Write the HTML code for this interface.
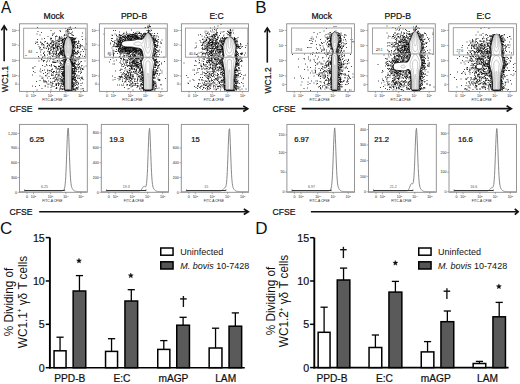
<!DOCTYPE html>
<html><head><meta charset="utf-8"><style>
html,body{margin:0;padding:0;background:#fff;}
body{width:520px;height:384px;overflow:hidden;}
svg{display:block;font-family:"Liberation Sans", sans-serif;}
.b{stroke:#111;stroke-width:0.22px;}
</style></head><body>
<svg width="520" height="384" viewBox="0 0 520 384">
<defs><filter id="soft" x="-5%" y="-5%" width="110%" height="110%"><feGaussianBlur stdDeviation="0.3"/></filter></defs>
<text transform="translate(1.0,12.5) scale(0.9,1)" font-size="17" fill="#111">A</text>
<text x="255.2" y="12.7" font-size="17" text-anchor="start" fill="#111" >B</text>
<text x="0.0" y="233.6" font-size="17" text-anchor="start" fill="#111" >C</text>
<text x="255.2" y="233.75" font-size="17" text-anchor="start" fill="#111" >D</text>
<path d="M25.5 55.5h1M32 68h1M32 75h1M32 86h1M33 68h1M33 71.5h1M34.5 66.5h1M34.5 72.5h1M35 43.5h1M35 86.5h1M35.5 42h1M36 81.5h1M36.5 34h1M36.5 42.5h1M36.5 52.5h1M36.5 90h1M37 27.5h1M37 39.5h1M37 42h1M37.5 31.5h1M37.5 44.5h1M38 56.5h1M38.5 46.5h1M38.5 58h1M38.5 61h1M39 48h1M39 85.5h1M39.5 35h1M39.5 49h1M39.5 71h1M39.5 76h1M39.5 80.5h1M40 42h1M40 47.5h1M40 52h1M40 69h1M40.5 42.5h1M40.5 50h1M40.5 55h1M40.5 72h1M41 32.5h1M41 44h1M41 58.5h1M41 59.5h1M41.5 39h1M41.5 44h1M41.5 45h1M41.5 49.5h1M41.5 60h1M41.5 77h1M41.5 78.5h1M41.5 88.5h1M42 43.5h1M42 57.5h1M42 65.5h1M42 70.5h1M42.5 56.5h1M42.5 78h1M43 44.5h1M43 47.5h1M43 53h1M43 53.5h1M43 60.5h1M43 61.5h1M43 73.5h1M43 80h1M43 81h1M43.5 45h1M43.5 46h1M43.5 48h1M43.5 82h1M44 38.5h1M44 42h1M44 52h1M44 54.5h1M44 55.5h1M44 60.5h1M44 70h1M44 81h1M44.5 48h1M44.5 56h1M44.5 58h1M44.5 66.5h1M44.5 82h1M44.5 86h1M45 41.5h1M45 72.5h1M45 75.5h1M45 81h1M45 86h1M45.5 76h1M45.5 81.5h1M46 48.5h1M46 62h1M46 64.5h1M46 82h1M46.5 43.5h1M46.5 47h1M46.5 65.5h1M46.5 75h1M46.5 83h1M47 43h1M47 43.5h1M47 45.5h1M47 46.5h1M47 55h1M47 58h1M47 61h1M47 70h1M47 71h1M47 73.5h1M47 78h1M47.5 36.5h1M47.5 51h1M47.5 51.5h1M47.5 59h1M47.5 84.5h1M47.5 87h1M48 45h1M48 48h1M48 49h1M48 49.5h1M48 81h1M48.5 44h1M48.5 48.5h1M48.5 53h1M48.5 57h1M48.5 70.5h1M48.5 73h1M48.5 76.5h1M48.5 84h1M49 45h1M49 45.5h1M49 51.5h1M49 52.5h1M49 54h1M49 61h1M49 65.5h1M49.5 46.5h1M49.5 52h1M49.5 53h1M49.5 53.5h1M49.5 54.5h1M49.5 58.5h1M49.5 70.5h1M49.5 71h1M50 39h1M50 43.5h1M50 48h1M50 50.5h1M50 57h1M50 59h1M50 78.5h1M50 82h1M50.5 30.5h1M50.5 38h1M50.5 38.5h1M50.5 40h1M50.5 43h1M50.5 43.5h1M50.5 44h1M50.5 48h1M50.5 49.5h1M50.5 58.5h1M50.5 66h1M50.5 82.5h1M50.5 83h1M50.5 85h1M50.5 87.5h1M50.5 90h1M51 38.5h1M51 42h1M51 47h1M51 50h1M51 64.5h1M51 65h1M51 66h1M51 70h1M51 71.5h1M51 74h1M51 75.5h1M51 86h1M51.5 41h1M51.5 42.5h1M51.5 45h1M51.5 46.5h1M51.5 47h1M51.5 53.5h1M51.5 55.5h1M51.5 69.5h1M51.5 75h1M52 34h1M52 35.5h1M52 41h1M52 45.5h1M52 52h1M52 56.5h1M52 62h1M52 69h1M52 72.5h1M52 83h1M52 84h1M52 86h1M52.5 40.5h1M52.5 41.5h1M52.5 44.5h1M52.5 46h1M52.5 47.5h1M52.5 49h1M52.5 51.5h1M52.5 52h1M52.5 59.5h1M52.5 62h1M52.5 75h1M52.5 75.5h1M52.5 78.5h1M52.5 81.5h1M52.5 83.5h1M53 34h1M53 42.5h1M53 44h1M53 44.5h1M53 45.5h1M53 47.5h1M53 48.5h1M53 49h1M53 50h1M53 54h1M53 55h1M53 62.5h1M53 71.5h1M53 72h1M53 73h1M53 78h1M53.5 42h1M53.5 48h1M53.5 53.5h1M53.5 54h1M53.5 56.5h1M53.5 59h1M53.5 61h1M53.5 62h1M53.5 65.5h1M53.5 71.5h1M53.5 86.5h1M54 33h1M54 48h1M54 48.5h1M54 62.5h1M54 66.5h1M54 71.5h1M54 78h1M54 81.5h1M54.5 41.5h1M54.5 43.5h1M54.5 44.5h1M54.5 51h1M54.5 52h1M54.5 62.5h1M54.5 66.5h1M54.5 77h1M54.5 80h1M54.5 81h1M55 36.5h1M55 38h1M55 40h1M55 45.5h1M55 46h1M55 47h1M55 49h1M55 54.5h1M55 58.5h1M55 62.5h1M55 66.5h1M55 75h1M55 76h1M55.5 42.5h1M55.5 43.5h1M55.5 44.5h1M55.5 45.5h1M55.5 47h1M55.5 51h1M55.5 53.5h1M55.5 56h1M55.5 57h1M55.5 61h1M55.5 62.5h1M55.5 67.5h1M55.5 68.5h1M55.5 72.5h1M55.5 77.5h1M55.5 79.5h1M55.5 80h1M55.5 83.5h1M55.5 84.5h1M55.5 85.5h1M55.5 88.5h1M56 36h1M56 43h1M56 47h1M56 51h1M56 51.5h1M56 52.5h1M56 53.5h1M56 54h1M56 57.5h1M56 67h1M56 71h1M56 72h1M56 74.5h1M56 78.5h1M56 84h1M56 84.5h1M56 85.5h1M56 87.5h1M56 88.5h1M56.5 36.5h1M56.5 40.5h1M56.5 41h1M56.5 47h1M56.5 47.5h1M56.5 48h1M56.5 49h1M56.5 54h1M56.5 55.5h1M56.5 56h1M56.5 69h1M56.5 74h1M56.5 79.5h1M56.5 88h1M57 43h1M57 45h1M57 46h1M57 46.5h1M57 47h1M57 48.5h1M57 50h1M57 60.5h1M57 61h1M57 69h1M57 77h1M57 81h1M57.5 40h1M57.5 41h1M57.5 46.5h1M57.5 48h1M57.5 49.5h1M57.5 50.5h1M57.5 56h1M57.5 57.5h1M57.5 62h1M57.5 72.5h1M57.5 75h1M57.5 79h1M57.5 80h1M57.5 83h1M57.5 83.5h1M58 41.5h1M58 44h1M58 46h1M58 53.5h1M58 54h1M58 54.5h1M58 66.5h1M58 69h1M58 76h1M58 83h1M58 85h1M58 85.5h1M58.5 38h1M58.5 39.5h1M58.5 41h1M58.5 42h1M58.5 44h1M58.5 46h1M58.5 46.5h1M58.5 49h1M58.5 55h1M58.5 56.5h1M58.5 57h1M58.5 60h1M58.5 66h1M58.5 66.5h1M58.5 67h1M58.5 68.5h1M58.5 71.5h1M58.5 74h1M58.5 74.5h1M58.5 75.5h1M58.5 78h1M58.5 80h1M58.5 83.5h1M58.5 84.5h1M59 36.5h1M59 37.5h1M59 38.5h1M59 40h1M59 41.5h1M59 44.5h1M59 47h1M59 52h1M59 52.5h1M59 53h1M59 55h1M59 55.5h1M59 58h1M59 66.5h1M59 70h1M59 90h1M59.5 30.5h1M59.5 37.5h1M59.5 43.5h1M59.5 48h1M59.5 53h1M59.5 53.5h1M59.5 61h1M59.5 62h1M59.5 63.5h1M59.5 69.5h1M59.5 71h1M59.5 72.5h1M59.5 76h1M59.5 78.5h1M59.5 81.5h1M59.5 83.5h1M59.5 88h1M59.5 89h1M60 31.5h1M60 39h1M60 48h1M60 48.5h1M60 49h1M60 49.5h1M60 50.5h1M60 51.5h1M60 52.5h1M60 54h1M60 62.5h1M60 64h1M60 65.5h1M60 67.5h1M60 68.5h1M60 79h1M60 86h1M60 87h1M60.5 38.5h1M60.5 40.5h1M60.5 41h1M60.5 45.5h1M60.5 46h1M60.5 48.5h1M60.5 50.5h1M60.5 51.5h1M60.5 52.5h1M60.5 53h1M60.5 53.5h1M60.5 54.5h1M60.5 55h1M60.5 58.5h1M60.5 69h1M60.5 76.5h1M60.5 79h1M60.5 80h1M60.5 80.5h1M60.5 82h1M60.5 86h1M60.5 88.5h1M60.5 89h1M61 37h1M61 39h1M61 40.5h1M61 43.5h1M61 45.5h1M61 48h1M61 51h1M61 51.5h1M61 52h1M61 52.5h1M61 53h1M61 54.5h1M61 60.5h1M61 63.5h1M61 67h1M61 69.5h1M61 71.5h1M61 73.5h1M61 77.5h1M61 80h1M61 83.5h1M61 85h1M61.5 42h1M61.5 49h1M61.5 50h1M61.5 53.5h1M61.5 54.5h1M61.5 61h1M61.5 64.5h1M61.5 65.5h1M61.5 67h1M61.5 67.5h1M61.5 74h1M61.5 75h1M61.5 79.5h1M61.5 81h1M61.5 81.5h1M61.5 82h1M61.5 84h1M61.5 89h1M62 38h1M62 39.5h1M62 40h1M62 40.5h1M62 41.5h1M62 42.5h1M62 43h1M62 47h1M62 50.5h1M62 51h1M62 52h1M62 52.5h1M62 54h1M62 55h1M62 55.5h1M62 58h1M62 60.5h1M62 67h1M62 67.5h1M62 69.5h1M62 72h1M62 73h1M62 73.5h1M62 74h1M62 74.5h1M62 75.5h1M62 77h1M62 80h1M62 80.5h1M62 81h1M62 84h1M62 86.5h1M62 89h1M62 89.5h1M62.5 39h1M62.5 39.5h1M62.5 40h1M62.5 40.5h1M62.5 42h1M62.5 44.5h1M62.5 45h1M62.5 46h1M62.5 46.5h1M62.5 47h1M62.5 47.5h1M62.5 49.5h1M62.5 50.5h1M62.5 52h1M62.5 53h1M62.5 53.5h1M62.5 54.5h1M62.5 56h1M62.5 58h1M62.5 60h1M62.5 61.5h1M62.5 64.5h1M62.5 67h1M62.5 67.5h1M62.5 68.5h1M62.5 69.5h1M62.5 72h1M62.5 72.5h1M62.5 73.5h1M62.5 74h1M62.5 75h1M62.5 78.5h1M62.5 79.5h1M62.5 81.5h1M62.5 82h1M62.5 83h1M62.5 84.5h1M63 39.5h1M63 42h1M63 43.5h1M63 44h1M63 44.5h1M63 45h1M63 45.5h1M63 46h1M63 47h1M63 47.5h1M63 48h1M63 51h1M63 51.5h1M63 57.5h1M63 59.5h1M63 61h1M63 63h1M63 66h1M63 66.5h1M63 67.5h1M63 68h1M63 69.5h1M63 71h1M63 71.5h1M63 73h1M63 73.5h1M63 75h1M63 75.5h1M63 76.5h1M63 77h1M63 78.5h1M63 80h1M63 81h1M63 82h1M63 83h1M63 83.5h1M63 84.5h1M63 85h1M63 86h1M63 89h1M63.5 36h1M63.5 38.5h1M63.5 42h1M63.5 43h1M63.5 43.5h1M63.5 44.5h1M63.5 45h1M63.5 45.5h1M63.5 46h1M63.5 46.5h1M63.5 47h1M63.5 48.5h1M63.5 49h1M63.5 50h1M63.5 50.5h1M63.5 51h1M63.5 52h1M63.5 54h1M63.5 55h1M63.5 55.5h1M63.5 56h1M63.5 60.5h1M63.5 62h1M63.5 63.5h1M63.5 64h1M63.5 65h1M63.5 66h1M63.5 66.5h1M63.5 67h1M63.5 68h1M63.5 71h1M63.5 72h1M63.5 72.5h1M63.5 74.5h1M63.5 75h1M63.5 75.5h1M63.5 76h1M63.5 76.5h1M63.5 77h1M63.5 78.5h1M63.5 79.5h1M63.5 82h1M63.5 83h1M63.5 84h1M63.5 84.5h1M63.5 86h1M63.5 88h1M64 34.5h1M64 35.5h1M64 38h1M64 38.5h1M64 40.5h1M64 41.5h1M64 42h1M64 43h1M64 43.5h1M64 45.5h1M64 46h1M64 46.5h1M64 47h1M64 51h1M64 51.5h1M64 52h1M64 53h1M64 53.5h1M64 54h1M64 55h1M64 55.5h1M64 56h1M64 57.5h1M64 59.5h1M64 61h1M64 61.5h1M64 62h1M64 62.5h1M64 64h1M64 64.5h1M64 65.5h1M64 66h1M64 67.5h1M64 68h1M64 70h1M64 71h1M64 71.5h1M64 72h1M64 72.5h1M64 74h1M64 74.5h1M64 75h1M64 76h1M64 76.5h1M64 77.5h1M64 78h1M64 78.5h1M64 79h1M64 79.5h1M64 80h1M64 82h1M64 83h1M64 86.5h1M64 88h1M64 89h1M64 89.5h1M64 90h1M64.5 38h1M64.5 39.5h1M64.5 40h1M64.5 41h1M64.5 41.5h1M64.5 42h1M64.5 42.5h1M64.5 43.5h1M64.5 53h1M64.5 54.5h1M64.5 56h1M64.5 56.5h1M64.5 57h1M64.5 57.5h1M64.5 58.5h1M64.5 59h1M64.5 59.5h1M64.5 61.5h1M64.5 62h1M64.5 64h1M64.5 64.5h1M64.5 65.5h1M64.5 66.5h1M64.5 68.5h1M64.5 69.5h1M64.5 70h1M64.5 70.5h1M64.5 72.5h1M64.5 73h1M64.5 73.5h1M64.5 74h1M64.5 75h1M64.5 77h1M64.5 78.5h1M64.5 79h1M64.5 80.5h1M64.5 81.5h1M64.5 82.5h1M64.5 84h1M64.5 85h1M64.5 85.5h1M64.5 86h1M64.5 87.5h1M64.5 88.5h1M64.5 89h1M64.5 90h1M65 28.5h1M65 38.5h1M65 39h1M65 39.5h1M65 57h1M65 57.5h1M65 58h1M65 58.5h1M65 59h1M65 60.5h1M65 61h1M65 62h1M65 62.5h1M65 63h1M65 64h1M65 90h1M65.5 31h1M65.5 32h1M65.5 34h1M65.5 35.5h1M65.5 38.5h1M65.5 39.5h1M65.5 57h1M65.5 59h1M65.5 59.5h1M65.5 60.5h1M65.5 61h1M65.5 90h1M65.5 90.5h1M66 37.5h1M66 38h1M66 59h1M66 59.5h1M66 60h1M66 90.5h1M66.5 30.5h1M66.5 34.5h1M66.5 36h1M66.5 38h1M66.5 59.5h1M66.5 90.5h1M67 29.5h1M67 32h1M67 36h1M67 37.5h1M67.5 29.5h1M67.5 30h1M67.5 31h1M67.5 31.5h1M67.5 33.5h1M68 35h1M68.5 28h1M68.5 32h1M68.5 33h1M68.5 33.5h1M68.5 36.5h1M69 29.5h1M69 37.5h1M69.5 27.5h1M69.5 37.5h1M70 27h1M70 29h1M70 33.5h1M70 37.5h1M70 59h1M70 59.5h1M70 60h1M70.5 38h1M70.5 39h1M70.5 57.5h1M70.5 58h1M70.5 58.5h1M70.5 59h1M70.5 60h1M70.5 60.5h1M70.5 61h1M70.5 90.5h1M71 29.5h1M71 33h1M71 37.5h1M71 39h1M71 40h1M71 40.5h1M71 55.5h1M71 56h1M71 57h1M71 58h1M71 58.5h1M71 59h1M71 61.5h1M71 62h1M71 63h1M71 90h1M71 90.5h1M71.5 34.5h1M71.5 35h1M71.5 38h1M71.5 38.5h1M71.5 39.5h1M71.5 40.5h1M71.5 41h1M71.5 41.5h1M71.5 54.5h1M71.5 56h1M71.5 58h1M71.5 58.5h1M71.5 59h1M71.5 62h1M71.5 62.5h1M71.5 63h1M71.5 63.5h1M71.5 64h1M71.5 71.5h1M71.5 73.5h1M71.5 76.5h1M71.5 78h1M71.5 79.5h1M71.5 80h1M71.5 82.5h1M71.5 87h1M71.5 88.5h1M71.5 89h1M71.5 90.5h1M72 32h1M72 37.5h1M72 39h1M72 39.5h1M72 40h1M72 41h1M72 42h1M72 42.5h1M72 43.5h1M72 45.5h1M72 49.5h1M72 50.5h1M72 51h1M72 51.5h1M72 52.5h1M72 53.5h1M72 55.5h1M72 59h1M72 60h1M72 61h1M72 62h1M72 62.5h1M72 63h1M72 63.5h1M72 64h1M72 64.5h1M72 65h1M72 65.5h1M72 66h1M72 68.5h1M72 69h1M72 69.5h1M72 70h1M72 70.5h1M72 71h1M72 72h1M72 72.5h1M72 73.5h1M72 74h1M72 75h1M72 77h1M72 78h1M72 78.5h1M72 79h1M72 79.5h1M72 80h1M72 81h1M72 81.5h1M72 82.5h1M72 83h1M72 83.5h1M72 84h1M72 85h1M72 85.5h1M72 86h1M72 86.5h1M72 87h1M72 88h1M72 90h1M72.5 35.5h1M72.5 38h1M72.5 39.5h1M72.5 40h1M72.5 40.5h1M72.5 42h1M72.5 42.5h1M72.5 43h1M72.5 43.5h1M72.5 44.5h1M72.5 45h1M72.5 45.5h1M72.5 46h1M72.5 46.5h1M72.5 47.5h1M72.5 48.5h1M72.5 51h1M72.5 52.5h1M72.5 53.5h1M72.5 54.5h1M72.5 55h1M72.5 55.5h1M72.5 56.5h1M72.5 58h1M72.5 58.5h1M72.5 59h1M72.5 63.5h1M72.5 64h1M72.5 65h1M72.5 66.5h1M72.5 68.5h1M72.5 70h1M72.5 72h1M72.5 72.5h1M72.5 73.5h1M72.5 76h1M72.5 76.5h1M72.5 78h1M72.5 78.5h1M72.5 79h1M72.5 79.5h1M72.5 80h1M72.5 81h1M72.5 82.5h1M72.5 83.5h1M72.5 85h1M72.5 85.5h1M72.5 86h1M72.5 86.5h1M72.5 87.5h1M72.5 89h1M72.5 89.5h1M73 35.5h1M73 38.5h1M73 39h1M73 41.5h1M73 42.5h1M73 45h1M73 45.5h1M73 46.5h1M73 47.5h1M73 48h1M73 50.5h1M73 51h1M73 52.5h1M73 53.5h1M73 55h1M73 57h1M73 58h1M73 61h1M73 63h1M73 63.5h1M73 64h1M73 65h1M73 66h1M73 66.5h1M73 68.5h1M73 71h1M73 71.5h1M73 73h1M73 73.5h1M73 76h1M73 76.5h1M73 78h1M73 78.5h1M73 84.5h1M73 86h1M73 87h1M73 89h1M73 89.5h1M73 90h1M73.5 38h1M73.5 39h1M73.5 39.5h1M73.5 40h1M73.5 41.5h1M73.5 42h1M73.5 43.5h1M73.5 44.5h1M73.5 45h1M73.5 46h1M73.5 47.5h1M73.5 49h1M73.5 49.5h1M73.5 50.5h1M73.5 51.5h1M73.5 52h1M73.5 54h1M73.5 55h1M73.5 59h1M73.5 60h1M73.5 63.5h1M73.5 64h1M73.5 64.5h1M73.5 65h1M73.5 65.5h1M73.5 66.5h1M73.5 68.5h1M73.5 69h1M73.5 71.5h1M73.5 72.5h1M73.5 74.5h1M73.5 77.5h1M73.5 79.5h1M73.5 82.5h1M73.5 83.5h1M73.5 84h1M73.5 84.5h1M73.5 88.5h1M73.5 89h1M74 38.5h1M74 39.5h1M74 41h1M74 41.5h1M74 42.5h1M74 43h1M74 43.5h1M74 46.5h1M74 50.5h1M74 51h1M74 53.5h1M74 60h1M74 62h1M74 63h1M74 63.5h1M74 65.5h1M74 66h1M74 67h1M74 68h1M74 69.5h1M74 70.5h1M74 71h1M74 71.5h1M74 73h1M74 73.5h1M74 74h1M74 75.5h1M74 76h1M74 77h1M74 77.5h1M74 79h1M74 79.5h1M74 80.5h1M74 86h1M74 89.5h1M74.5 42.5h1M74.5 43h1M74.5 44h1M74.5 45h1M74.5 46h1M74.5 48h1M74.5 49h1M74.5 51.5h1M74.5 56.5h1M74.5 60.5h1M74.5 62.5h1M74.5 63h1M74.5 63.5h1M74.5 66.5h1M74.5 67.5h1M74.5 68h1M74.5 68.5h1M74.5 69h1M74.5 71.5h1M74.5 73h1M74.5 74.5h1M74.5 78h1M74.5 83h1M74.5 85h1M74.5 90.5h1M75 27.5h1M75 38.5h1M75 39h1M75 41.5h1M75 47.5h1M75 52.5h1M75 53h1M75 54h1M75 57h1M75 60h1M75 60.5h1M75 64h1M75 67h1M75 68.5h1M75 71h1M75 73.5h1M75 74h1M75 77h1M75 77.5h1M75 78h1M75 79.5h1M75 80h1M75 81.5h1M75 83h1M75 85.5h1M75 89h1M75 90h1M75.5 38h1M75.5 42.5h1M75.5 52.5h1M75.5 61.5h1M75.5 67h1M75.5 68h1M75.5 69h1M75.5 80.5h1M75.5 88h1M75.5 90h1M76 41.5h1M76 44.5h1M76 53h1M76 54h1M76 60h1M76 64.5h1M76 68h1M76 70h1M76 71.5h1M76 76h1M76 80.5h1M76 82h1M76 83h1M76 84.5h1M76 87.5h1M76 88.5h1M76.5 48h1M76.5 57.5h1M76.5 58h1M76.5 69.5h1M76.5 75h1M76.5 76h1M76.5 87.5h1M77 43.5h1M77 45.5h1M77 46h1M77 47h1M77 47.5h1M77 51h1M77 51.5h1M77 53.5h1M77 54h1M77 67h1M77 78h1M77 82h1M77 85h1M77 88h1M77 89h1M77.5 46h1M77.5 47.5h1M77.5 48h1M77.5 52.5h1M77.5 59h1M77.5 60h1M77.5 64h1M77.5 64.5h1M77.5 65.5h1M77.5 78.5h1M77.5 82.5h1M77.5 89h1M78 41h1M78 42h1M78 43h1M78 51h1M78 52.5h1M78 62h1M78 64.5h1M78 67.5h1M78 69h1M78 72h1M78 83.5h1M78 84h1M78 87h1M78.5 41.5h1M78.5 43.5h1M78.5 56.5h1M78.5 57.5h1M78.5 59h1M78.5 64.5h1M78.5 68h1M78.5 71.5h1M78.5 75.5h1M78.5 77h1M79 48.5h1M79 56.5h1M79 63.5h1M79 66.5h1M79 78.5h1M79.5 45.5h1M79.5 46.5h1M79.5 48h1M79.5 53h1M79.5 58h1M79.5 67.5h1M80 44.5h1M80 46h1M80 47h1M80 54.5h1M80 55h1M80 62h1M80 69.5h1M80 73.5h1M80 80h1M80.5 51.5h1M80.5 68h1M80.5 68.5h1M80.5 71h1M80.5 72h1M80.5 77.5h1M80.5 83.5h1M80.5 85.5h1M80.5 89h1M81 61.5h1M81 66h1M81 72.5h1M81 78.5h1M81.5 36.5h1M81.5 45.5h1M81.5 46h1M81.5 65.5h1M81.5 77h1M81.5 77.5h1M82 33h1M82 39.5h1M82 49.5h1M82 56h1M82 68.5h1M82 69.5h1M82 78.5h1M82 83h1M82.5 69h1M82.5 69.5h1M82.5 79.5h1M82.5 88.5h1M82.5 89h1M83 51.5h1M83 90.5h1M83.5 47h1M83.5 67h1M84 49h1M84 56.5h1M84.5 61h1M85 39h1M85 54.5h1M85.5 49.5h1M85.5 66h1M86 44h1" stroke="#000" stroke-width="0.9" stroke-opacity="0.8" fill="none" filter="url(#soft)"/>
<path d="M69.0 90.6L68.5 90.8L68.0 90.8L67.5 90.7L67.1 90.5L66.8 90.5L66.2 90.3L66.0 90.2L65.5 90.1L65.2 90.0L65.0 89.5L65.0 89.3L64.9 88.8L64.8 88.3L64.8 87.8L64.8 87.3L64.8 86.8L64.8 86.3L64.8 85.8L64.8 85.4L64.7 85.0L64.7 84.5L64.7 84.0L64.7 83.5L64.7 83.0L64.7 82.5L64.7 82.0L64.7 81.5L64.7 81.0L64.7 80.5L64.6 80.0L64.6 79.5L64.6 79.0L64.6 78.5L64.6 78.0L64.6 77.5L64.6 77.0L64.6 76.5L64.6 76.0L64.6 75.5L64.6 75.0L64.5 74.5L64.5 74.0L64.5 73.5L64.5 73.0L64.5 72.5L64.5 72.0L64.5 71.5L64.5 71.3L64.5 70.8L64.5 70.3L64.5 69.8L64.5 69.3L64.5 68.8L64.4 68.3L64.4 67.8L64.4 67.3L64.4 66.8L64.4 66.3L64.4 65.8L64.4 65.3L64.5 65.0L64.6 64.5L64.8 64.1L64.8 63.8L65.0 63.3L65.0 63.0L65.2 62.5L65.2 62.2L65.4 61.8L65.5 61.5L65.7 61.0L65.8 60.8L66.0 60.4L66.2 60.0L66.3 59.8L66.3 59.3L66.2 59.0L66.1 58.5L66.0 58.3L65.8 57.8L65.7 57.5L65.5 57.0L65.4 56.8L65.3 56.3L65.2 56.0L65.0 55.5L64.9 55.3L64.8 54.8L64.7 54.5L64.5 54.1L64.4 53.8L64.3 53.3L64.2 52.8L64.2 52.5L64.2 52.0L64.2 51.5L64.1 51.0L64.1 50.5L64.0 50.0L64.0 49.5L64.0 49.3L64.0 48.8L63.9 48.3L63.9 47.8L63.8 47.3L63.8 46.8L63.8 46.3L63.9 45.8L64.0 45.5L64.1 45.0L64.2 44.5L64.2 44.0L64.3 43.8L64.4 43.3L64.5 42.8L64.5 42.5L64.6 42.0L64.7 41.5L64.8 41.3L65.0 40.8L65.1 40.5L65.2 40.1L65.4 39.8L65.5 39.5L65.7 39.0L65.8 38.8L66.0 38.4L66.2 38.3L66.5 38.0L66.9 37.8L67.2 37.6L67.5 37.4L67.8 37.2L68.2 37.1L68.6 37.3L68.9 37.5L69.2 37.8L69.5 37.9L69.8 38.1L70.0 38.3L70.3 38.5L70.5 39.0L70.6 39.3L70.8 39.6L70.9 40.0L71.0 40.3L71.2 40.8L71.3 41.0L71.5 41.5L71.6 41.8L71.6 42.3L71.7 42.8L71.8 43.0L71.9 43.5L72.0 44.0L72.0 44.3L72.1 44.8L72.2 45.3L72.2 45.7L72.3 46.0L72.4 46.5L72.4 47.0L72.3 47.5L72.3 48.0L72.3 48.5L72.2 48.8L72.2 49.3L72.2 49.8L72.1 50.3L72.1 50.8L72.1 51.3L72.0 51.8L72.0 52.1L72.0 52.5L71.9 53.0L71.9 53.5L71.8 53.9L71.6 54.3L71.5 54.7L71.4 55.0L71.2 55.4L71.1 55.8L71.0 56.1L70.9 56.5L70.8 56.9L70.6 57.3L70.5 57.6L70.3 58.0L70.2 58.3L70.1 58.8L70.0 59.0L69.8 59.5L70.0 60.0L70.2 60.3L70.3 60.5L70.5 61.0L70.6 61.3L70.8 61.7L70.9 62.0L71.0 62.4L71.1 62.8L71.2 63.3L71.3 63.5L71.4 64.0L71.5 64.3L71.6 64.8L71.7 65.3L71.8 65.5L71.8 66.0L71.8 66.5L71.8 67.0L71.8 67.5L71.8 68.0L71.8 68.5L71.7 68.8L71.7 69.3L71.7 69.8L71.7 70.3L71.7 70.8L71.7 71.3L71.7 71.8L71.7 72.3L71.7 72.8L71.7 73.3L71.7 73.8L71.7 74.3L71.7 74.8L71.6 75.3L71.6 75.8L71.6 76.3L71.6 76.8L71.6 77.3L71.6 77.8L71.6 78.3L71.6 78.8L71.6 79.3L71.6 79.8L71.6 80.3L71.5 80.8L71.5 81.3L71.5 81.8L71.5 82.3L71.5 82.8L71.5 83.0L71.5 83.5L71.5 84.0L71.5 84.5L71.5 85.0L71.5 85.5L71.4 86.0L71.4 86.5L71.4 87.0L71.4 87.5L71.4 88.0L71.3 88.5L71.2 89.0L71.2 89.3L71.1 89.8L70.9 90.0L70.5 90.2L70.0 90.3L69.8 90.4L69.2 90.5L69.0 90.6Z" fill="#fff" stroke="#000" stroke-width="1.0"/>
<path d="M68.2 58.4L67.8 58.3L67.5 58.1L67.3 57.8L67.1 57.5L67.0 57.3L66.8 56.8L66.6 56.5L66.5 56.3L66.2 55.9L66.1 55.5L66.0 55.2L65.8 54.8L65.7 54.5L65.6 54.0L65.5 53.8L65.3 53.3L65.3 52.8L65.3 52.3L65.3 51.8L65.2 51.5L65.2 51.0L65.2 50.5L65.2 50.0L65.1 49.5L65.1 49.0L65.1 48.5L65.0 48.0L65.0 47.5L65.0 47.3L65.0 46.8L65.0 46.3L65.0 46.0L65.1 45.5L65.2 45.0L65.2 44.5L65.3 44.3L65.3 43.8L65.4 43.3L65.4 42.8L65.5 42.4L65.5 42.0L65.6 41.5L65.7 41.0L65.8 40.8L66.0 40.3L66.0 40.0L66.2 39.5L66.3 39.3L66.4 38.8L66.5 38.5L66.8 38.3L67.0 38.0L67.2 37.8L67.5 37.5L67.8 37.3L68.2 37.2L68.5 37.4L68.8 37.6L69.0 37.8L69.2 38.1L69.5 38.3L69.8 38.7L69.9 39.0L70.0 39.5L70.1 39.8L70.2 40.3L70.3 40.5L70.5 41.0L70.5 41.3L70.6 41.8L70.7 42.3L70.8 42.8L70.8 43.0L70.9 43.5L70.9 44.0L71.0 44.5L71.0 44.8L71.1 45.3L71.1 45.8L71.2 46.3L71.2 46.8L71.2 47.3L71.2 47.8L71.1 48.3L71.1 48.8L71.1 49.3L71.1 49.8L71.0 50.3L71.0 50.7L71.0 51.0L71.0 51.5L70.9 52.0L70.9 52.5L70.9 53.0L70.8 53.5L70.7 53.8L70.6 54.3L70.5 54.5L70.3 55.0L70.2 55.3L70.0 55.7L69.9 56.0L69.7 56.3L69.5 56.7L69.3 57.0L69.2 57.3L69.0 57.6L68.8 58.0L68.5 58.3L68.2 58.4Z" fill="#fff" stroke="#8a8a8a" stroke-width="0.5"/>
<path d="M68.8 90.6L68.2 90.7L67.8 90.7L67.4 90.5L67.0 90.4L66.7 90.3L66.2 90.1L66.0 90.0L65.9 89.5L65.8 89.0L65.8 88.5L65.7 88.3L65.7 87.8L65.7 87.3L65.7 86.8L65.7 86.3L65.7 85.8L65.6 85.3L65.6 84.8L65.6 84.3L65.6 83.8L65.6 83.3L65.6 82.8L65.6 82.3L65.6 81.8L65.6 81.3L65.6 80.8L65.6 80.3L65.6 79.8L65.6 79.3L65.6 78.8L65.6 78.3L65.5 77.8L65.5 77.3L65.5 76.8L65.5 76.3L65.5 75.8L65.5 75.3L65.5 74.8L65.5 74.3L65.5 73.8L65.5 73.3L65.5 72.8L65.5 72.5L65.5 72.0L65.5 71.5L65.5 71.0L65.5 70.5L65.5 70.0L65.5 69.5L65.5 69.0L65.5 68.5L65.5 68.0L65.5 67.5L65.4 67.0L65.4 66.5L65.4 66.0L65.4 65.5L65.5 65.3L65.6 64.8L65.8 64.4L65.9 64.0L66.0 63.7L66.1 63.3L66.2 63.0L66.4 62.5L66.6 62.3L66.8 62.0L67.0 61.6L67.2 61.3L67.4 61.0L67.6 60.8L68.0 60.6L68.5 60.7L68.8 60.9L69.0 61.3L69.2 61.5L69.3 61.8L69.5 62.1L69.8 62.5L69.9 62.8L70.0 63.1L70.2 63.5L70.2 63.8L70.4 64.3L70.5 64.6L70.6 65.0L70.8 65.5L70.8 65.8L70.8 66.3L70.8 66.8L70.8 67.1L70.7 67.5L70.7 68.0L70.7 68.5L70.7 69.0L70.7 69.5L70.7 70.0L70.7 70.5L70.7 71.0L70.7 71.5L70.7 72.0L70.7 72.5L70.7 73.0L70.7 73.5L70.7 74.0L70.7 74.5L70.7 75.0L70.7 75.5L70.7 76.0L70.7 76.5L70.7 77.0L70.7 77.5L70.7 78.0L70.6 78.5L70.6 79.0L70.6 79.5L70.6 80.0L70.6 80.5L70.6 81.0L70.6 81.5L70.6 82.0L70.6 82.5L70.6 83.0L70.6 83.5L70.6 84.0L70.6 84.5L70.6 85.0L70.5 85.5L70.5 86.0L70.5 86.5L70.5 87.0L70.5 87.5L70.5 88.0L70.5 88.3L70.4 88.8L70.4 89.3L70.3 89.8L70.2 90.0L69.8 90.2L69.5 90.3L69.0 90.5L68.8 90.6Z" fill="#fff" stroke="#8a8a8a" stroke-width="0.5"/>
<path d="M68.5 55.4L68.0 55.5L67.5 55.3L67.3 55.0L67.1 54.8L67.0 54.5L66.8 54.1L66.6 53.8L66.5 53.5L66.4 53.0L66.4 52.5L66.4 52.0L66.4 51.5L66.3 51.0L66.3 50.5L66.3 50.0L66.3 49.5L66.2 49.2L66.2 48.8L66.2 48.3L66.2 47.8L66.2 47.3L66.1 46.8L66.1 46.3L66.2 45.8L66.2 45.3L66.2 45.0L66.3 44.5L66.3 44.0L66.4 43.5L66.4 43.0L66.5 42.5L66.5 42.0L66.5 41.8L66.6 41.3L66.7 40.8L66.8 40.3L66.8 40.0L66.9 39.5L67.0 39.0L67.0 38.8L67.2 38.3L67.4 38.0L67.6 37.8L67.8 37.5L68.0 37.2L68.3 37.3L68.5 37.6L68.8 38.0L69.0 38.3L69.1 38.5L69.2 39.0L69.3 39.3L69.4 39.8L69.4 40.3L69.5 40.6L69.6 41.0L69.7 41.5L69.7 42.0L69.8 42.5L69.8 42.8L69.8 43.3L69.9 43.8L69.9 44.3L69.9 44.8L70.0 45.3L70.0 45.6L70.0 46.0L70.1 46.5L70.1 47.0L70.0 47.5L70.0 48.0L70.0 48.3L70.0 48.8L69.9 49.3L69.9 49.8L69.9 50.3L69.9 50.8L69.8 51.3L69.8 51.8L69.8 52.3L69.8 52.8L69.8 53.3L69.7 53.5L69.5 54.0L69.4 54.3L69.2 54.5L69.0 54.9L68.8 55.2L68.5 55.4Z" fill="#fff" stroke="#8a8a8a" stroke-width="0.5"/>
<path d="M68.5 90.6L68.0 90.6L67.7 90.5L67.2 90.3L67.0 90.1L66.8 89.9L66.7 89.5L66.7 89.0L66.6 88.5L66.6 88.0L66.6 87.5L66.6 87.0L66.6 86.5L66.6 86.0L66.6 85.5L66.6 85.0L66.6 84.5L66.5 84.0L66.5 83.5L66.5 83.0L66.5 82.5L66.5 82.0L66.5 81.5L66.5 81.0L66.5 80.5L66.5 80.0L66.5 79.5L66.5 79.0L66.5 78.7L66.5 78.3L66.5 77.8L66.5 77.3L66.5 76.8L66.5 76.3L66.5 75.8L66.5 75.3L66.5 74.8L66.5 74.3L66.5 73.8L66.5 73.3L66.5 72.8L66.5 72.3L66.5 71.8L66.5 71.3L66.5 70.8L66.5 70.3L66.5 69.8L66.5 69.3L66.5 68.8L66.5 68.3L66.5 67.8L66.5 67.3L66.5 66.8L66.5 66.3L66.5 66.0L66.5 65.5L66.7 65.0L66.8 64.8L67.0 64.4L67.2 64.0L67.4 63.8L67.7 63.5L68.0 63.5L68.5 63.5L68.8 63.8L69.0 64.0L69.1 64.3L69.3 64.5L69.5 65.0L69.6 65.3L69.7 65.8L69.7 66.3L69.7 66.8L69.7 67.3L69.7 67.8L69.7 68.3L69.7 68.8L69.7 69.3L69.7 69.8L69.7 70.3L69.7 70.8L69.7 71.3L69.7 71.8L69.7 72.3L69.7 72.8L69.7 73.3L69.7 73.8L69.7 74.3L69.7 74.8L69.7 75.3L69.7 75.8L69.7 76.3L69.7 76.8L69.7 77.3L69.7 77.8L69.7 78.3L69.7 78.8L69.7 79.3L69.7 79.8L69.7 80.3L69.7 80.8L69.7 81.3L69.7 81.8L69.7 82.3L69.7 82.8L69.7 83.3L69.7 83.8L69.7 84.3L69.6 84.8L69.6 85.3L69.6 85.8L69.6 86.3L69.6 86.8L69.6 87.3L69.6 87.8L69.6 88.3L69.6 88.8L69.5 89.3L69.5 89.7L69.4 90.0L69.0 90.3L68.8 90.4L68.5 90.6Z" fill="#fff" stroke="#8a8a8a" stroke-width="0.5"/>
<path d="M68.2 53.6L67.8 53.5L67.7 53.3L67.7 52.8L67.6 52.3L67.6 51.8L67.6 51.3L67.5 50.8L67.5 50.5L67.5 50.0L67.4 49.5L67.4 49.0L67.4 48.5L67.3 48.0L67.3 47.5L67.3 47.0L67.2 46.8L67.2 46.3L67.3 46.0L67.3 45.5L67.3 45.0L67.3 44.5L67.3 44.0L67.4 43.5L67.4 43.0L67.4 42.5L67.4 42.0L67.4 41.5L67.5 41.0L67.5 40.5L67.5 40.3L67.6 39.8L67.6 39.3L67.6 38.8L67.7 38.3L67.8 38.0L68.0 37.5L68.2 37.5L68.3 37.8L68.5 38.3L68.5 38.5L68.6 39.0L68.6 39.5L68.7 40.0L68.7 40.5L68.7 41.0L68.8 41.3L68.8 41.8L68.8 42.3L68.8 42.8L68.8 43.3L68.9 43.8L68.9 44.3L68.9 44.8L68.9 45.3L68.9 45.8L68.9 46.3L68.9 46.8L68.9 47.3L68.9 47.8L68.8 48.3L68.8 48.8L68.8 49.3L68.8 49.8L68.7 50.0L68.7 50.5L68.7 51.0L68.6 51.5L68.6 52.0L68.5 52.5L68.5 53.0L68.5 53.3L68.2 53.6Z" fill="#fff" stroke="#999" stroke-width="0.5"/>
<path d="M68.2 90.6L67.9 90.5L67.7 90.3L67.5 89.8L67.5 89.5L67.5 89.0L67.5 88.5L67.4 88.0L67.4 87.5L67.4 87.0L67.4 86.5L67.4 86.0L67.4 85.5L67.4 85.0L67.4 84.5L67.4 84.0L67.4 83.5L67.4 83.0L67.4 82.5L67.4 82.0L67.4 81.5L67.4 81.0L67.4 80.5L67.4 80.0L67.4 79.5L67.4 79.0L67.4 78.5L67.4 78.0L67.4 77.5L67.4 77.0L67.4 76.5L67.4 76.0L67.4 75.5L67.5 75.0L67.5 74.5L67.5 74.0L67.5 73.5L67.5 73.0L67.5 72.6L67.5 72.3L67.5 71.8L67.5 71.3L67.6 70.8L67.6 70.3L67.6 69.8L67.6 69.3L67.6 68.8L67.6 68.3L67.7 67.8L67.7 67.3L67.7 66.8L67.7 66.3L67.7 65.8L67.8 65.5L68.2 65.4L68.5 65.8L68.5 66.3L68.5 66.5L68.5 67.0L68.5 67.5L68.6 68.0L68.6 68.5L68.6 69.0L68.6 69.5L68.6 70.0L68.6 70.5L68.6 71.0L68.7 71.5L68.7 72.0L68.7 72.5L68.7 73.0L68.7 73.5L68.7 74.0L68.7 74.5L68.8 74.8L68.8 75.3L68.8 75.8L68.8 76.3L68.8 76.8L68.8 77.3L68.8 77.8L68.8 78.3L68.8 78.8L68.8 79.3L68.8 79.8L68.8 80.3L68.8 80.8L68.8 81.3L68.8 81.8L68.8 82.3L68.8 82.8L68.8 83.3L68.8 83.8L68.8 84.3L68.8 84.8L68.8 85.3L68.8 85.8L68.8 86.3L68.8 86.8L68.8 87.3L68.8 87.8L68.8 88.3L68.7 88.5L68.7 89.0L68.7 89.5L68.7 90.0L68.5 90.3L68.2 90.6Z" fill="#fff" stroke="#999" stroke-width="0.5"/>
<ellipse cx="68.1" cy="90.30000000000001" rx="2.68" ry="0.9" fill="#111"/>
<rect x="23.65" y="28.2" width="62.15" height="30.000000000000004" fill="none" stroke="#999" stroke-width="0.9"/>
<text x="28.2" y="53.3" font-size="3.5" fill="#333">84</text>
<rect x="19.5" y="23.8" width="67.7" height="67.60000000000001" fill="none" stroke="#8a8a8a" stroke-width="0.9"/>
<line x1="17.7" y1="30.4" x2="19.5" y2="30.4" stroke="#777" stroke-width="0.6"/>
<text x="17.0" y="31.599999999999998" font-size="3.6" text-anchor="end" fill="#222">10<tspan font-size="2.4" dy="-1">5</tspan></text>
<line x1="17.7" y1="45.2" x2="19.5" y2="45.2" stroke="#777" stroke-width="0.6"/>
<text x="17.0" y="46.400000000000006" font-size="3.6" text-anchor="end" fill="#222">10<tspan font-size="2.4" dy="-1">4</tspan></text>
<line x1="17.7" y1="60.6" x2="19.5" y2="60.6" stroke="#777" stroke-width="0.6"/>
<text x="17.0" y="61.800000000000004" font-size="3.6" text-anchor="end" fill="#222">10<tspan font-size="2.4" dy="-1">3</tspan></text>
<line x1="17.7" y1="76.0" x2="19.5" y2="76.0" stroke="#777" stroke-width="0.6"/>
<text x="17.0" y="77.2" font-size="3.6" text-anchor="end" fill="#222">10<tspan font-size="2.4" dy="-1">2</tspan></text>
<line x1="17.7" y1="84.2" x2="19.5" y2="84.2" stroke="#777" stroke-width="0.6"/>
<text x="17.0" y="85.4" font-size="3.6" text-anchor="end" fill="#222">0</text>
<line x1="27.0" y1="91.4" x2="27.0" y2="93.2" stroke="#777" stroke-width="0.6"/>
<text x="27.0" y="97.0" font-size="3.6" text-anchor="middle" fill="#222">0</text>
<line x1="33.5" y1="91.4" x2="33.5" y2="93.2" stroke="#777" stroke-width="0.6"/>
<text x="33.5" y="97.0" font-size="3.6" text-anchor="middle" fill="#222">10<tspan font-size="2.4" dy="-1">2</tspan></text>
<line x1="50.4" y1="91.4" x2="50.4" y2="93.2" stroke="#777" stroke-width="0.6"/>
<text x="50.4" y="97.0" font-size="3.6" text-anchor="middle" fill="#222">10<tspan font-size="2.4" dy="-1">3</tspan></text>
<line x1="65.8" y1="91.4" x2="65.8" y2="93.2" stroke="#777" stroke-width="0.6"/>
<text x="65.8" y="97.0" font-size="3.6" text-anchor="middle" fill="#222">10<tspan font-size="2.4" dy="-1">4</tspan></text>
<line x1="80.8" y1="91.4" x2="80.8" y2="93.2" stroke="#777" stroke-width="0.6"/>
<text x="80.8" y="97.0" font-size="3.6" text-anchor="middle" fill="#222">10<tspan font-size="2.4" dy="-1">5</tspan></text>
<text x="52.35" y="101.0" font-size="3.3" text-anchor="middle" fill="#222">FITC-A CFSE</text>
<text x="43.5" y="19.1" font-size="8.6" text-anchor="start" fill="#111" class="b">Mock</text>
<path d="M103.5 34h1M109 62h1M109.5 55.5h1M110 43h1M110 44h1M110 59.5h1M111 38.5h1M111 40.5h1M111.5 35h1M111.5 48h1M112 35.5h1M112 38.5h1M112 41.5h1M112 76h1M112.5 46.5h1M112.5 50h1M112.5 51h1M112.5 58h1M112.5 64h1M112.5 80h1M113 30.5h1M113 46h1M113 53h1M113 54.5h1M113 55.5h1M113 56h1M113.5 41.5h1M113.5 44.5h1M113.5 45h1M113.5 51h1M113.5 53.5h1M113.5 61h1M114 42.5h1M114 43h1M114 64h1M114.5 34h1M114.5 40.5h1M114.5 43h1M114.5 46h1M114.5 46.5h1M114.5 77.5h1M114.5 79.5h1M115 30.5h1M115 51.5h1M115 71h1M115.5 43h1M115.5 46.5h1M115.5 47h1M115.5 57.5h1M116 35h1M116 35.5h1M116 39h1M116 43.5h1M116 46.5h1M116 49.5h1M116 51.5h1M116 60h1M116.5 37h1M116.5 40h1M116.5 41h1M116.5 44h1M116.5 44.5h1M116.5 45h1M116.5 46h1M116.5 46.5h1M117 39h1M117 42h1M117 44h1M117 46h1M117 47h1M117 53.5h1M117 85h1M117.5 36.5h1M117.5 40h1M117.5 41h1M117.5 42h1M117.5 44.5h1M117.5 45h1M117.5 45.5h1M117.5 46h1M117.5 46.5h1M117.5 51h1M117.5 78.5h1M118 41h1M118 41.5h1M118 43h1M118 43.5h1M118 44.5h1M118 46.5h1M118 48.5h1M118 49.5h1M118 50h1M118 50.5h1M118 51.5h1M118.5 35h1M118.5 37.5h1M118.5 39h1M118.5 40h1M118.5 41h1M118.5 41.5h1M118.5 42h1M118.5 42.5h1M118.5 43h1M118.5 44h1M118.5 45.5h1M118.5 47h1M118.5 48.5h1M118.5 49h1M118.5 57.5h1M118.5 76.5h1M118.5 80h1M119 32h1M119 34.5h1M119 36h1M119 38h1M119 39.5h1M119 42h1M119 42.5h1M119 44.5h1M119 46.5h1M119 47.5h1M119 49h1M119 50h1M119 51.5h1M119 52.5h1M119 56.5h1M119 76.5h1M119 79h1M119 85h1M119.5 35h1M119.5 35.5h1M119.5 37.5h1M119.5 38.5h1M119.5 39h1M119.5 40h1M119.5 40.5h1M119.5 41.5h1M119.5 42h1M119.5 42.5h1M119.5 43h1M119.5 44h1M119.5 45.5h1M119.5 47.5h1M119.5 48.5h1M119.5 49h1M119.5 52h1M119.5 54h1M119.5 62.5h1M119.5 70.5h1M119.5 77.5h1M120 35.5h1M120 37h1M120 37.5h1M120 39h1M120 40.5h1M120 41h1M120 41.5h1M120 43h1M120 44.5h1M120 45h1M120 46h1M120 46.5h1M120 47h1M120 48h1M120 48.5h1M120 50h1M120 50.5h1M120 51.5h1M120 53h1M120 55h1M120 57h1M120 58.5h1M120 61h1M120 70h1M120 77h1M120 79h1M120.5 37h1M120.5 37.5h1M120.5 38.5h1M120.5 40h1M120.5 40.5h1M120.5 42.5h1M120.5 43h1M120.5 44h1M120.5 45h1M120.5 45.5h1M120.5 46h1M120.5 50h1M120.5 50.5h1M120.5 52h1M120.5 53h1M120.5 54h1M120.5 63.5h1M120.5 69h1M120.5 72.5h1M120.5 76.5h1M120.5 77h1M120.5 77.5h1M121 35.5h1M121 38h1M121 40h1M121 42.5h1M121 43.5h1M121 44h1M121 48.5h1M121 49.5h1M121 50h1M121 51.5h1M121 53h1M121 58.5h1M121 59h1M121 65h1M121 76h1M121 76.5h1M121 85h1M121.5 35h1M121.5 38.5h1M121.5 39.5h1M121.5 41h1M121.5 42h1M121.5 42.5h1M121.5 45h1M121.5 46h1M121.5 47.5h1M121.5 48h1M121.5 50.5h1M121.5 66.5h1M121.5 69.5h1M121.5 74.5h1M122 36.5h1M122 37h1M122 40.5h1M122 41.5h1M122 42h1M122 47h1M122 47.5h1M122 49h1M122 49.5h1M122 51h1M122 51.5h1M122 52.5h1M122 64.5h1M122 77h1M122 80h1M122 81.5h1M122.5 34.5h1M122.5 36.5h1M122.5 37.5h1M122.5 39h1M122.5 39.5h1M122.5 41h1M122.5 41.5h1M122.5 48h1M122.5 48.5h1M122.5 49h1M122.5 49.5h1M122.5 50.5h1M122.5 51.5h1M122.5 53.5h1M122.5 56.5h1M122.5 61h1M122.5 73.5h1M122.5 74.5h1M122.5 78h1M122.5 85.5h1M123 33.5h1M123 36.5h1M123 37.5h1M123 39.5h1M123 47h1M123 48h1M123 49h1M123 52h1M123 55h1M123 58.5h1M123 59.5h1M123 60h1M123 63h1M123 66.5h1M123 72.5h1M123 84h1M123.5 33h1M123.5 35.5h1M123.5 39.5h1M123.5 40h1M123.5 48h1M123.5 48.5h1M123.5 49.5h1M123.5 50h1M123.5 50.5h1M123.5 51.5h1M123.5 53h1M123.5 56h1M124 37h1M124 37.5h1M124 38h1M124 40.5h1M124 46.5h1M124 47h1M124 48h1M124 48.5h1M124 49h1M124 50h1M124 55.5h1M124 57h1M124 59.5h1M124 64h1M124 65h1M124 71h1M124 73.5h1M124 76h1M124 78.5h1M124 82h1M124 87.5h1M124.5 34h1M124.5 35.5h1M124.5 36.5h1M124.5 38h1M124.5 39h1M124.5 41h1M124.5 47h1M124.5 47.5h1M124.5 48h1M124.5 48.5h1M124.5 49.5h1M124.5 50h1M124.5 51h1M124.5 51.5h1M124.5 52.5h1M124.5 53h1M124.5 53.5h1M124.5 60h1M124.5 68.5h1M124.5 75h1M124.5 76.5h1M125 36h1M125 36.5h1M125 38.5h1M125 39h1M125 39.5h1M125 40.5h1M125 47h1M125 48h1M125 48.5h1M125 49h1M125 49.5h1M125 50h1M125 50.5h1M125 51h1M125 51.5h1M125 62h1M125 67.5h1M125 75h1M125 77.5h1M125 81.5h1M125.5 37h1M125.5 37.5h1M125.5 38h1M125.5 47.5h1M125.5 48h1M125.5 49h1M125.5 49.5h1M125.5 51h1M125.5 51.5h1M125.5 52h1M125.5 55h1M125.5 60h1M125.5 61h1M125.5 63h1M125.5 65.5h1M125.5 70h1M125.5 74h1M125.5 74.5h1M125.5 76h1M125.5 77h1M125.5 78.5h1M125.5 79.5h1M125.5 80.5h1M125.5 82h1M126 32h1M126 33h1M126 34.5h1M126 37.5h1M126 47.5h1M126 48h1M126 48.5h1M126 50.5h1M126 51h1M126 51.5h1M126 53.5h1M126 56h1M126 62h1M126 64h1M126 74h1M126 74.5h1M126 77.5h1M126 79h1M126.5 36h1M126.5 37h1M126.5 37.5h1M126.5 38.5h1M126.5 39.5h1M126.5 40h1M126.5 48.5h1M126.5 49h1M126.5 49.5h1M126.5 51h1M126.5 52h1M126.5 55h1M126.5 60h1M126.5 62.5h1M126.5 65h1M126.5 71.5h1M126.5 76h1M126.5 78.5h1M126.5 84.5h1M126.5 85.5h1M127 34h1M127 35.5h1M127 36h1M127 36.5h1M127 37h1M127 38.5h1M127 39h1M127 47.5h1M127 48h1M127 49h1M127 50.5h1M127 51h1M127 52h1M127 53h1M127 53.5h1M127 60.5h1M127 62h1M127 62.5h1M127 66.5h1M127 71.5h1M127 72.5h1M127 75.5h1M127 77h1M127 79.5h1M127 84.5h1M127.5 35.5h1M127.5 36h1M127.5 38h1M127.5 38.5h1M127.5 39h1M127.5 47h1M127.5 47.5h1M127.5 49.5h1M127.5 50h1M127.5 50.5h1M127.5 52h1M127.5 53.5h1M127.5 54.5h1M127.5 55.5h1M127.5 57h1M127.5 60h1M127.5 65.5h1M127.5 66h1M127.5 70h1M127.5 73h1M127.5 77h1M127.5 89h1M128 35h1M128 35.5h1M128 36h1M128 36.5h1M128 37h1M128 37.5h1M128 39.5h1M128 40h1M128 48h1M128 48.5h1M128 50h1M128 51h1M128 52h1M128 53.5h1M128 54h1M128 56.5h1M128 58.5h1M128 65.5h1M128 73h1M128 74h1M128 75.5h1M128 77h1M128 81.5h1M128.5 34h1M128.5 36h1M128.5 36.5h1M128.5 38h1M128.5 39.5h1M128.5 40h1M128.5 47.5h1M128.5 48h1M128.5 49h1M128.5 49.5h1M128.5 50.5h1M128.5 51h1M128.5 51.5h1M128.5 52h1M128.5 54h1M128.5 72.5h1M128.5 75h1M128.5 78h1M128.5 79h1M128.5 80h1M128.5 88.5h1M129 35h1M129 35.5h1M129 36h1M129 38.5h1M129 39h1M129 47h1M129 47.5h1M129 48h1M129 50h1M129 50.5h1M129 51h1M129 51.5h1M129 52.5h1M129 53.5h1M129 54h1M129 56.5h1M129 57h1M129 59.5h1M129 62h1M129 63h1M129 63.5h1M129 65h1M129 66h1M129 68.5h1M129 70.5h1M129 71h1M129 77.5h1M129 79h1M129 82h1M129 85h1M129 85.5h1M129.5 34h1M129.5 37h1M129.5 37.5h1M129.5 38h1M129.5 38.5h1M129.5 39h1M129.5 40h1M129.5 47.5h1M129.5 48h1M129.5 48.5h1M129.5 50h1M129.5 51.5h1M129.5 52h1M129.5 52.5h1M129.5 56h1M129.5 56.5h1M129.5 58h1M129.5 59h1M129.5 60h1M129.5 62h1M129.5 65.5h1M129.5 70h1M129.5 70.5h1M129.5 72.5h1M129.5 73h1M129.5 76.5h1M129.5 77h1M129.5 77.5h1M130 34.5h1M130 36h1M130 36.5h1M130 37h1M130 39.5h1M130 40h1M130 40.5h1M130 47.5h1M130 49h1M130 50h1M130 50.5h1M130 52h1M130 52.5h1M130 55.5h1M130 56h1M130 56.5h1M130 58h1M130 60h1M130 63h1M130 65h1M130 66.5h1M130 73.5h1M130 74.5h1M130 75h1M130 75.5h1M130 77.5h1M130 78.5h1M130 80.5h1M130 81h1M130 83h1M130 85h1M130.5 35h1M130.5 36h1M130.5 36.5h1M130.5 37.5h1M130.5 39h1M130.5 39.5h1M130.5 40.5h1M130.5 48.5h1M130.5 49h1M130.5 49.5h1M130.5 50.5h1M130.5 51h1M130.5 52h1M130.5 52.5h1M130.5 54.5h1M130.5 56.5h1M130.5 57.5h1M130.5 58.5h1M130.5 60h1M130.5 63h1M130.5 65h1M130.5 66.5h1M130.5 67h1M130.5 68.5h1M130.5 69.5h1M130.5 72h1M130.5 74.5h1M130.5 77h1M130.5 85h1M130.5 87h1M131 30h1M131 34.5h1M131 36.5h1M131 38.5h1M131 39h1M131 39.5h1M131 47.5h1M131 48h1M131 50h1M131 51.5h1M131 58h1M131 59h1M131 62.5h1M131 65.5h1M131 67h1M131 67.5h1M131 68h1M131 68.5h1M131 72h1M131 78.5h1M131 79h1M131 80h1M131 84h1M131.5 35h1M131.5 35.5h1M131.5 36h1M131.5 36.5h1M131.5 37.5h1M131.5 38h1M131.5 39h1M131.5 40h1M131.5 47h1M131.5 49h1M131.5 51h1M131.5 51.5h1M131.5 52h1M131.5 54h1M131.5 54.5h1M131.5 59h1M131.5 61.5h1M131.5 64.5h1M131.5 66h1M131.5 67.5h1M131.5 68.5h1M131.5 69h1M131.5 72.5h1M131.5 75h1M131.5 76h1M131.5 79h1M131.5 81.5h1M131.5 83.5h1M131.5 86.5h1M132 34.5h1M132 35h1M132 36.5h1M132 37.5h1M132 47h1M132 48h1M132 48.5h1M132 49.5h1M132 50.5h1M132 52h1M132 54h1M132 55.5h1M132 57.5h1M132 58h1M132 60h1M132 61.5h1M132 62.5h1M132 63.5h1M132 64h1M132 65.5h1M132 69h1M132 76.5h1M132 77h1M132 79h1M132 82.5h1M132 86h1M132.5 34h1M132.5 34.5h1M132.5 35.5h1M132.5 36.5h1M132.5 37.5h1M132.5 38.5h1M132.5 40h1M132.5 47.5h1M132.5 48.5h1M132.5 50h1M132.5 50.5h1M132.5 52h1M132.5 53.5h1M132.5 55h1M132.5 56.5h1M132.5 58.5h1M132.5 61h1M132.5 61.5h1M132.5 62h1M132.5 62.5h1M132.5 66.5h1M132.5 67h1M132.5 69h1M132.5 74.5h1M132.5 75.5h1M132.5 83h1M132.5 84h1M132.5 85.5h1M132.5 90h1M133 32.5h1M133 34.5h1M133 35h1M133 36.5h1M133 37.5h1M133 40h1M133 48h1M133 48.5h1M133 49.5h1M133 50h1M133 50.5h1M133 52.5h1M133 54h1M133 56h1M133 57h1M133 59h1M133 60.5h1M133 61.5h1M133 62h1M133 63.5h1M133 71.5h1M133 72h1M133 76.5h1M133 78h1M133.5 34.5h1M133.5 35h1M133.5 36.5h1M133.5 38h1M133.5 39h1M133.5 47.5h1M133.5 48.5h1M133.5 49h1M133.5 49.5h1M133.5 50h1M133.5 50.5h1M133.5 51.5h1M133.5 52.5h1M133.5 54.5h1M133.5 56h1M133.5 56.5h1M133.5 57.5h1M133.5 60.5h1M133.5 61h1M133.5 63h1M133.5 65h1M133.5 65.5h1M133.5 66h1M133.5 66.5h1M133.5 69h1M133.5 72h1M133.5 85.5h1M134 34h1M134 35.5h1M134 36h1M134 38h1M134 38.5h1M134 48.5h1M134 49h1M134 49.5h1M134 51.5h1M134 52h1M134 54.5h1M134 55h1M134 55.5h1M134 59.5h1M134 61.5h1M134 62.5h1M134 63.5h1M134 68.5h1M134 69.5h1M134 73h1M134 79h1M134 80h1M134 81.5h1M134.5 33.5h1M134.5 35h1M134.5 36.5h1M134.5 37h1M134.5 37.5h1M134.5 38h1M134.5 38.5h1M134.5 39.5h1M134.5 48h1M134.5 48.5h1M134.5 49h1M134.5 50.5h1M134.5 51h1M134.5 51.5h1M134.5 52h1M134.5 53h1M134.5 55.5h1M134.5 56.5h1M134.5 57h1M134.5 59h1M134.5 60.5h1M134.5 61h1M134.5 63h1M134.5 63.5h1M134.5 64.5h1M134.5 65h1M134.5 66h1M134.5 69.5h1M134.5 71h1M134.5 83.5h1M134.5 85h1M135 33h1M135 34h1M135 35h1M135 35.5h1M135 36.5h1M135 37.5h1M135 38.5h1M135 48.5h1M135 49.5h1M135 50h1M135 50.5h1M135 51.5h1M135 52h1M135 54h1M135 55.5h1M135 58.5h1M135 59h1M135 61h1M135 63.5h1M135 64h1M135 65.5h1M135 67h1M135 71.5h1M135 73h1M135 79h1M135 83.5h1M135 84h1M135 85h1M135.5 33.5h1M135.5 35.5h1M135.5 36.5h1M135.5 38.5h1M135.5 39h1M135.5 48h1M135.5 49.5h1M135.5 50h1M135.5 51.5h1M135.5 52.5h1M135.5 53.5h1M135.5 55h1M135.5 56.5h1M135.5 57h1M135.5 62h1M135.5 63h1M135.5 63.5h1M135.5 65h1M135.5 71h1M135.5 73.5h1M135.5 81.5h1M136 33.5h1M136 35h1M136 35.5h1M136 36.5h1M136 37h1M136 37.5h1M136 38h1M136 39.5h1M136 48.5h1M136 49h1M136 50h1M136 50.5h1M136 51h1M136 52h1M136 53h1M136 58.5h1M136 59h1M136 60h1M136 61h1M136 62h1M136 62.5h1M136 64.5h1M136 65h1M136 65.5h1M136 66.5h1M136 67h1M136 69h1M136 69.5h1M136 70.5h1M136 71h1M136 73h1M136.5 32h1M136.5 36.5h1M136.5 37.5h1M136.5 38h1M136.5 39h1M136.5 50h1M136.5 50.5h1M136.5 51h1M136.5 51.5h1M136.5 52h1M136.5 52.5h1M136.5 54h1M136.5 57.5h1M136.5 58.5h1M136.5 62.5h1M136.5 64h1M136.5 66h1M136.5 74.5h1M136.5 76h1M136.5 83.5h1M136.5 85.5h1M136.5 87.5h1M137 34h1M137 35h1M137 36h1M137 37h1M137 37.5h1M137 38h1M137 38.5h1M137 48.5h1M137 50.5h1M137 54h1M137 56h1M137 58.5h1M137 60h1M137 62h1M137 62.5h1M137 64.5h1M137 65.5h1M137 66.5h1M137 67h1M137 74h1M137 78h1M137 79h1M137 79.5h1M137 80.5h1M137 82h1M137 85.5h1M137 86.5h1M137.5 36.5h1M137.5 37h1M137.5 38h1M137.5 38.5h1M137.5 39h1M137.5 49.5h1M137.5 50h1M137.5 51.5h1M137.5 52h1M137.5 57.5h1M137.5 60h1M137.5 62h1M137.5 63h1M137.5 64h1M137.5 64.5h1M137.5 66.5h1M137.5 67h1M137.5 67.5h1M137.5 68.5h1M137.5 72h1M137.5 74.5h1M137.5 83.5h1M138 33.5h1M138 37.5h1M138 38.5h1M138 39h1M138 50h1M138 50.5h1M138 51.5h1M138 53.5h1M138 54.5h1M138 57h1M138 58.5h1M138 59h1M138 62.5h1M138 65h1M138 66.5h1M138 67h1M138 72.5h1M138 76h1M138 76.5h1M138 86h1M138.5 32h1M138.5 35.5h1M138.5 38h1M138.5 39h1M138.5 48.5h1M138.5 49h1M138.5 52.5h1M138.5 53h1M138.5 55h1M138.5 58.5h1M138.5 64h1M138.5 64.5h1M138.5 67.5h1M138.5 68h1M138.5 71h1M138.5 77h1M138.5 79h1M139 32.5h1M139 33.5h1M139 37.5h1M139 48.5h1M139 49h1M139 50h1M139 50.5h1M139 52h1M139 53.5h1M139 59h1M139 63.5h1M139 66h1M139 69.5h1M139 71h1M139 77h1M139 81h1M139 88h1M139 89h1M139.5 33.5h1M139.5 36h1M139.5 38.5h1M139.5 49.5h1M139.5 50.5h1M139.5 53h1M139.5 54.5h1M139.5 55h1M139.5 56.5h1M139.5 57.5h1M139.5 60h1M139.5 61.5h1M139.5 65.5h1M139.5 68.5h1M139.5 69h1M139.5 70h1M139.5 70.5h1M139.5 71.5h1M139.5 73h1M139.5 73.5h1M139.5 75.5h1M139.5 76h1M139.5 76.5h1M139.5 86h1M140 35.5h1M140 38.5h1M140 49h1M140 49.5h1M140 50h1M140 51h1M140 51.5h1M140 52h1M140 53.5h1M140 54.5h1M140 55.5h1M140 57h1M140 60.5h1M140 61.5h1M140 62h1M140 63.5h1M140 68h1M140 69.5h1M140 70h1M140 70.5h1M140 73.5h1M140 78.5h1M140 79.5h1M140 81h1M140 84h1M140 85h1M140 86h1M140.5 33.5h1M140.5 34h1M140.5 36.5h1M140.5 37.5h1M140.5 39h1M140.5 49.5h1M140.5 50.5h1M140.5 51.5h1M140.5 52.5h1M140.5 57.5h1M140.5 58h1M140.5 59h1M140.5 60h1M140.5 60.5h1M140.5 63.5h1M140.5 64.5h1M140.5 65h1M140.5 65.5h1M140.5 66h1M140.5 67h1M140.5 68.5h1M140.5 72.5h1M140.5 73h1M140.5 77.5h1M140.5 79.5h1M140.5 81.5h1M140.5 88.5h1M140.5 90h1M141 34h1M141 36h1M141 36.5h1M141 38h1M141 38.5h1M141 39h1M141 49.5h1M141 50.5h1M141 51.5h1M141 52.5h1M141 53h1M141 53.5h1M141 55h1M141 57.5h1M141 61h1M141 62h1M141 62.5h1M141 65h1M141 66.5h1M141 67h1M141 67.5h1M141 72h1M141 72.5h1M141 73h1M141 74.5h1M141 76.5h1M141 79.5h1M141 80h1M141 83.5h1M141 84h1M141 84.5h1M141 87h1M141.5 35h1M141.5 37.5h1M141.5 38h1M141.5 39h1M141.5 51h1M141.5 51.5h1M141.5 52h1M141.5 53.5h1M141.5 54.5h1M141.5 55.5h1M141.5 56h1M141.5 58.5h1M141.5 59h1M141.5 60h1M141.5 60.5h1M141.5 61.5h1M141.5 63.5h1M141.5 64h1M141.5 65h1M141.5 65.5h1M141.5 66.5h1M141.5 67h1M141.5 67.5h1M141.5 71h1M141.5 71.5h1M141.5 75h1M141.5 75.5h1M141.5 77.5h1M141.5 78h1M141.5 78.5h1M141.5 79h1M141.5 81h1M141.5 84.5h1M141.5 85.5h1M141.5 88h1M142 35h1M142 35.5h1M142 36h1M142 39h1M142 51.5h1M142 52h1M142 53h1M142 54h1M142 54.5h1M142 55h1M142 55.5h1M142 57h1M142 57.5h1M142 67h1M142 68.5h1M142 69h1M142 69.5h1M142 71.5h1M142 72.5h1M142 74h1M142 75h1M142 77.5h1M142 78h1M142 78.5h1M142 80.5h1M142 82.5h1M142 84.5h1M142 87.5h1M142 88.5h1M142.5 35.5h1M142.5 36.5h1M142.5 37h1M142.5 38h1M142.5 53h1M142.5 54h1M142.5 54.5h1M142.5 57.5h1M142.5 58.5h1M142.5 69.5h1M142.5 71h1M142.5 72h1M142.5 72.5h1M142.5 74.5h1M142.5 75h1M142.5 76h1M142.5 79.5h1M142.5 80.5h1M142.5 81.5h1M142.5 82.5h1M142.5 83h1M142.5 85h1M142.5 87.5h1M142.5 88.5h1M142.5 89h1M143 33.5h1M143 34.5h1M143 36.5h1M143 38h1M143 38.5h1M143 55h1M143 57.5h1M143 58h1M143 71.5h1M143 74h1M143 75h1M143 76.5h1M143 77h1M143 77.5h1M143 79.5h1M143 80h1M143 80.5h1M143 81h1M143 81.5h1M143 82h1M143 83h1M143 84.5h1M143 86h1M143 87.5h1M143 88.5h1M143 89h1M143 89.5h1M143 90h1M143 90.5h1M143.5 35h1M143.5 36.5h1M143.5 37.5h1M143.5 58h1M143.5 79.5h1M143.5 83h1M143.5 84.5h1M143.5 85.5h1M143.5 86h1M143.5 88h1M144 33.5h1M144 35h1M144.5 28h1M144.5 33h1M144.5 34.5h1M144.5 35h1M144.5 89.5h1M144.5 90h1M145 27.5h1M145 33.5h1M145 34h1M145 34.5h1M145 35h1M145 35.5h1M145 90h1M145 90.5h1M145.5 34h1M145.5 89.5h1M145.5 90h1M145.5 90.5h1M146 90h1M146.5 30.5h1M146.5 33.5h1M146.5 34h1M146.5 90.5h1M147 27h1M147 33h1M147.5 26h1M147.5 27.5h1M147.5 31h1M148 27.5h1M148 28h1M148 30h1M148 30.5h1M148 31.5h1M148 32h1M148 32.5h1M148.5 26h1M148.5 32.5h1M149 25h1M149 26.5h1M149 30.5h1M149 33.5h1M149.5 27h1M149.5 31.5h1M149.5 34h1M150 26.5h1M150 33.5h1M150 34.5h1M150 90.5h1M150.5 30h1M150.5 35h1M151 30.5h1M151 35h1M151 35.5h1M151 90h1M151.5 33.5h1M151.5 35.5h1M151.5 89.5h1M151.5 90h1M152 38h1M152 89.5h1M152.5 37h1M152.5 37.5h1M152.5 75.5h1M152.5 77.5h1M152.5 80h1M152.5 80.5h1M152.5 81.5h1M152.5 83h1M152.5 84.5h1M152.5 85h1M152.5 85.5h1M152.5 86.5h1M152.5 87h1M152.5 87.5h1M152.5 88h1M152.5 89h1M152.5 89.5h1M152.5 90h1M153 36h1M153 38.5h1M153 39h1M153 39.5h1M153 55.5h1M153 57h1M153 58h1M153 58.5h1M153 69.5h1M153 71h1M153 71.5h1M153 72h1M153 72.5h1M153 74h1M153 74.5h1M153 75h1M153 76h1M153 77.5h1M153 78.5h1M153 81.5h1M153 82.5h1M153 84h1M153 84.5h1M153 85h1M153 85.5h1M153 86h1M153 88h1M153.5 36h1M153.5 37h1M153.5 38h1M153.5 38.5h1M153.5 39.5h1M153.5 40h1M153.5 40.5h1M153.5 41h1M153.5 42h1M153.5 42.5h1M153.5 51h1M153.5 54h1M153.5 58h1M153.5 60h1M153.5 69.5h1M153.5 71.5h1M153.5 73h1M153.5 73.5h1M153.5 74h1M153.5 75h1M153.5 77.5h1M153.5 78h1M153.5 81h1M153.5 82.5h1M153.5 83h1M153.5 84h1M154 33.5h1M154 35.5h1M154 41h1M154 42.5h1M154 43h1M154 44h1M154 45h1M154 50h1M154 54h1M154 54.5h1M154 55h1M154 55.5h1M154 56h1M154 56.5h1M154 60h1M154 61h1M154 67.5h1M154 73h1M154 74.5h1M154 75h1M154 76h1M154 78h1M154 83.5h1M154 85h1M154 88h1M154 90h1M154.5 39h1M154.5 39.5h1M154.5 40.5h1M154.5 41.5h1M154.5 42h1M154.5 42.5h1M154.5 44.5h1M154.5 45h1M154.5 46h1M154.5 46.5h1M154.5 48h1M154.5 48.5h1M154.5 49h1M154.5 51h1M154.5 51.5h1M154.5 52h1M154.5 53h1M154.5 53.5h1M154.5 54.5h1M154.5 59.5h1M154.5 60.5h1M154.5 63h1M154.5 64h1M154.5 64.5h1M154.5 65h1M154.5 67h1M154.5 70.5h1M154.5 72h1M154.5 74.5h1M154.5 81.5h1M154.5 82h1M154.5 83h1M154.5 86.5h1M154.5 89h1M154.5 90h1M155 39h1M155 39.5h1M155 40.5h1M155 44.5h1M155 45h1M155 46h1M155 46.5h1M155 49h1M155 49.5h1M155 51h1M155 51.5h1M155 53h1M155 53.5h1M155 57h1M155 59.5h1M155 60h1M155 60.5h1M155 62h1M155 63h1M155 64h1M155 65h1M155 65.5h1M155 66h1M155 67.5h1M155 71.5h1M155 72.5h1M155 73.5h1M155 78h1M155 83.5h1M155 88.5h1M155.5 36h1M155.5 38h1M155.5 45h1M155.5 45.5h1M155.5 49.5h1M155.5 53h1M155.5 55h1M155.5 56.5h1M155.5 57h1M155.5 60.5h1M155.5 62h1M155.5 62.5h1M155.5 64.5h1M155.5 65.5h1M155.5 69.5h1M155.5 72h1M155.5 73.5h1M155.5 83h1M155.5 84.5h1M155.5 85.5h1M155.5 86h1M155.5 86.5h1M156 40.5h1M156 41h1M156 41.5h1M156 47h1M156 47.5h1M156 50h1M156 52.5h1M156 56h1M156 59h1M156 59.5h1M156 61.5h1M156 62h1M156 65h1M156 65.5h1M156 69.5h1M156 70.5h1M156 76h1M156 87h1M156.5 36h1M156.5 45.5h1M156.5 47h1M156.5 50.5h1M156.5 52.5h1M156.5 54.5h1M156.5 61.5h1M156.5 63h1M156.5 70.5h1M156.5 71.5h1M156.5 73.5h1M156.5 88.5h1M157 33.5h1M157 40h1M157 41.5h1M157 43h1M157 44h1M157 45.5h1M157 47h1M157 56.5h1M157 62h1M157 68h1M157 68.5h1M157 73.5h1M157 74h1M157.5 45.5h1M157.5 50.5h1M157.5 51h1M157.5 51.5h1M157.5 62h1M157.5 63h1M157.5 65.5h1M157.5 66.5h1M157.5 67h1M157.5 71h1M157.5 78h1M157.5 79.5h1M158 37h1M158 39.5h1M158 42h1M158 56.5h1M158 65.5h1M158 80h1M158.5 52h1M158.5 65.5h1M158.5 68h1M158.5 75.5h1M158.5 80h1M158.5 88h1M159 50h1M159 54.5h1M159 61.5h1M159 64.5h1M159 74h1M159 79.5h1M159 80.5h1M159.5 47h1M159.5 73.5h1M159.5 80h1M160 42h1M160 70h1M160.5 43.5h1M160.5 84.5h1M160.5 85h1M161 43h1M161 52h1M161 63h1M161 64h1M161.5 40h1M161.5 71h1M161.5 73h1M161.5 89h1M163.5 57h1M164 61.5h1M165 78.5h1" stroke="#000" stroke-width="0.9" stroke-opacity="0.8" fill="none" filter="url(#soft)"/>
<path d="M148.4 90.7L147.9 90.8L147.4 90.7L147.2 90.5L146.7 90.3L146.4 90.2L146.1 90.0L145.7 89.9L145.4 89.8L144.9 89.6L144.7 89.5L144.2 89.3L143.9 89.2L143.6 89.0L143.5 88.5L143.5 88.0L143.5 87.5L143.5 87.0L143.5 86.5L143.5 86.0L143.5 85.5L143.5 85.0L143.5 84.5L143.5 84.0L143.4 83.5L143.4 83.0L143.4 82.5L143.4 82.0L143.4 81.5L143.4 81.0L143.4 80.5L143.4 80.0L143.4 79.5L143.4 79.0L143.4 78.5L143.4 78.0L143.4 77.5L143.4 77.3L143.3 76.8L143.3 76.3L143.2 75.8L143.2 75.3L143.2 74.8L143.1 74.5L143.1 74.0L143.0 73.5L143.0 73.0L143.0 72.5L142.9 72.0L142.9 71.8L142.9 71.3L142.8 70.8L142.7 70.3L142.7 69.9L142.6 69.5L142.5 69.0L142.4 68.5L142.4 68.3L142.3 67.8L142.2 67.3L142.1 67.0L142.0 66.5L141.9 66.0L141.9 65.8L141.8 65.3L141.7 64.8L141.7 64.4L141.6 64.0L141.5 63.5L141.4 63.1L141.3 62.8L141.3 62.3L141.3 61.8L141.4 61.5L141.7 61.1L141.8 60.8L142.0 60.5L142.2 60.2L142.4 59.8L142.5 59.5L142.7 59.2L142.9 58.8L143.0 58.5L143.2 58.3L143.4 57.8L143.3 57.3L143.2 56.8L143.2 56.3L143.1 56.0L143.0 55.5L142.9 55.0L142.9 54.8L142.8 54.3L142.7 53.8L142.7 53.4L142.6 53.0L142.4 52.5L142.4 52.3L142.3 51.8L142.2 51.4L142.0 51.0L141.9 50.7L141.7 50.3L141.6 50.0L141.4 49.7L141.2 49.4L140.9 49.1L140.7 48.9L140.4 48.8L139.9 48.5L139.7 48.5L139.2 48.4L138.8 48.3L138.4 48.2L137.9 48.2L137.4 48.1L137.1 48.0L136.7 48.0L136.2 47.9L135.7 47.8L135.4 47.7L134.9 47.6L134.4 47.5L134.2 47.5L133.7 47.4L133.2 47.3L132.9 47.3L132.4 47.2L131.9 47.2L131.4 47.1L130.9 47.1L130.4 47.1L129.9 47.1L129.4 47.1L129.2 47.0L128.7 47.0L128.2 47.0L127.7 47.0L127.2 47.0L126.7 47.0L126.2 46.9L125.7 46.9L125.3 46.8L124.9 46.7L124.4 46.6L124.1 46.5L123.7 46.4L123.4 46.3L122.9 46.0L122.7 45.9L122.4 45.7L122.2 45.5L121.9 45.2L121.7 44.8L121.6 44.5L121.4 44.0L121.4 43.5L121.6 43.0L121.7 42.8L121.9 42.4L122.2 42.1L122.4 41.9L122.7 41.7L122.9 41.5L123.4 41.3L123.7 41.2L124.1 41.0L124.4 41.0L124.9 40.9L125.3 40.8L125.7 40.7L126.2 40.7L126.7 40.6L127.2 40.6L127.7 40.6L128.2 40.6L128.7 40.6L129.2 40.6L129.4 40.5L129.9 40.5L130.4 40.5L130.9 40.5L131.4 40.4L131.9 40.4L132.4 40.3L132.7 40.3L133.2 40.2L133.7 40.1L134.0 40.0L134.4 40.0L134.9 39.8L135.2 39.8L135.7 39.7L136.2 39.6L136.4 39.5L136.9 39.4L137.4 39.3L137.7 39.3L138.2 39.2L138.7 39.2L139.2 39.2L139.7 39.3L139.9 39.3L140.4 39.4L140.9 39.4L141.4 39.4L141.9 39.3L142.2 39.2L142.4 39.0L142.8 38.8L143.0 38.5L143.3 38.3L143.5 38.0L143.7 37.8L143.9 37.5L144.2 37.1L144.4 36.8L144.5 36.5L144.7 36.3L144.9 35.9L145.1 35.5L145.2 35.3L145.4 35.0L145.7 34.8L145.9 34.5L146.2 34.3L146.5 34.0L146.8 33.8L147.1 33.5L147.4 33.3L147.7 33.1L147.9 32.8L148.2 33.1L148.4 33.3L148.7 33.5L149.0 33.8L149.3 34.0L149.6 34.3L149.9 34.5L150.2 34.8L150.4 35.0L150.6 35.3L150.7 35.5L150.9 35.9L151.1 36.3L151.2 36.5L151.4 36.9L151.6 37.3L151.8 37.5L151.9 37.8L152.2 38.3L152.3 38.5L152.4 38.8L152.7 39.2L152.8 39.5L152.9 39.8L153.0 40.3L153.1 40.8L153.2 41.0L153.3 41.5L153.4 42.0L153.5 42.3L153.6 42.8L153.7 43.1L153.7 43.5L153.8 44.0L153.9 44.3L154.0 44.8L154.1 45.3L154.2 45.5L154.3 46.0L154.4 46.5L154.3 47.0L154.2 47.5L154.2 47.9L154.1 48.3L154.0 48.8L153.9 49.3L153.8 49.5L153.8 50.0L153.7 50.5L153.6 50.8L153.5 51.3L153.4 51.8L153.4 52.0L153.3 52.5L153.2 53.0L153.1 53.3L153.1 53.8L153.0 54.3L152.9 54.7L152.8 55.0L152.8 55.5L152.7 56.0L152.6 56.3L152.6 56.8L152.5 57.3L152.4 57.8L152.7 58.3L152.8 58.5L152.9 58.8L153.2 59.2L153.3 59.5L153.4 59.8L153.7 60.2L153.8 60.5L154.0 60.8L154.2 61.1L154.4 61.5L154.5 61.8L154.5 62.3L154.5 62.8L154.4 63.1L154.3 63.5L154.2 64.0L154.2 64.4L154.1 64.8L154.0 65.3L153.9 65.8L153.9 66.0L153.8 66.5L153.7 67.0L153.6 67.3L153.5 67.8L153.4 68.3L153.4 68.5L153.3 69.0L153.2 69.5L153.2 69.9L153.1 70.3L153.0 70.8L152.9 71.3L152.9 71.8L152.9 72.0L152.8 72.5L152.8 73.0L152.8 73.5L152.7 74.0L152.7 74.5L152.6 74.8L152.6 75.3L152.6 75.8L152.5 76.3L152.5 76.8L152.4 77.3L152.4 77.5L152.4 78.0L152.4 78.5L152.4 79.0L152.4 79.5L152.4 80.0L152.4 80.5L152.4 81.0L152.4 81.5L152.4 82.0L152.4 82.5L152.4 83.0L152.4 83.5L152.3 84.0L152.3 84.5L152.3 85.0L152.3 85.5L152.3 86.0L152.3 86.5L152.3 87.0L152.3 87.5L152.3 88.0L152.3 88.5L152.2 89.0L151.9 89.2L151.6 89.3L151.2 89.5L150.9 89.6L150.4 89.8L150.2 89.9L149.7 90.0L149.4 90.2L149.1 90.3L148.7 90.5L148.4 90.7Z" fill="#fff" stroke="#000" stroke-width="1.0"/>
<path d="M148.7 57.6L148.2 57.7L147.7 57.7L147.2 57.6L146.9 57.5L146.6 57.3L146.3 57.0L146.1 56.8L145.9 56.5L145.7 56.2L145.4 55.8L145.3 55.5L145.2 55.1L145.0 54.8L144.9 54.4L144.8 54.0L144.7 53.6L144.6 53.3L144.4 52.8L144.4 52.5L144.2 52.0L144.2 51.7L144.1 51.3L143.9 50.8L143.9 50.5L143.7 50.0L143.6 49.8L143.5 49.3L143.4 49.0L143.2 48.5L143.1 48.3L142.9 47.8L142.8 47.5L142.7 47.3L142.4 46.9L142.2 46.5L142.1 46.3L141.9 45.8L141.8 45.5L141.6 45.3L141.3 45.0L140.9 45.0L140.6 45.0L140.2 45.2L139.7 45.3L139.4 45.4L138.9 45.4L138.4 45.5L137.9 45.5L137.4 45.5L136.9 45.4L136.4 45.3L136.2 45.2L135.7 45.1L135.4 45.0L134.9 44.8L134.7 44.7L134.4 44.5L134.0 44.3L133.8 44.0L133.7 43.5L133.9 43.3L134.3 43.0L134.7 42.9L134.9 42.7L135.3 42.5L135.7 42.4L136.0 42.3L136.4 42.2L136.9 42.1L137.2 42.0L137.7 42.0L138.2 42.0L138.6 42.0L138.9 42.1L139.4 42.3L139.7 42.4L140.0 42.5L140.4 42.8L140.7 43.0L140.9 43.1L141.2 43.3L141.7 43.4L141.9 43.3L142.2 43.0L142.5 42.8L142.7 42.5L142.9 42.2L143.1 41.8L143.3 41.5L143.4 41.3L143.6 40.8L143.7 40.5L143.9 40.0L144.0 39.8L144.2 39.4L144.3 39.0L144.5 38.8L144.7 38.4L144.8 38.0L144.9 37.8L145.1 37.3L145.2 37.0L145.4 36.7L145.5 36.3L145.7 36.0L145.8 35.5L145.9 35.3L146.2 34.9L146.4 34.6L146.7 34.3L146.9 34.0L147.1 33.8L147.3 33.5L147.5 33.3L147.7 33.0L148.1 33.0L148.3 33.3L148.5 33.5L148.7 33.8L148.9 34.1L149.2 34.3L149.4 34.6L149.7 34.9L149.8 35.3L149.9 35.5L150.1 36.0L150.2 36.3L150.4 36.7L150.5 37.0L150.7 37.4L150.8 37.8L150.9 38.0L151.1 38.5L151.2 38.8L151.4 39.3L151.5 39.5L151.6 40.0L151.7 40.3L151.7 40.8L151.8 41.3L151.9 41.8L151.9 42.0L152.0 42.5L152.1 43.0L152.2 43.5L152.2 43.8L152.3 44.3L152.4 44.8L152.4 45.0L152.5 45.5L152.6 46.0L152.6 46.5L152.6 47.0L152.5 47.5L152.4 47.9L152.3 48.3L152.2 48.8L152.2 49.1L152.1 49.5L152.0 50.0L151.9 50.3L151.8 50.8L151.7 51.3L151.6 51.5L151.5 52.0L151.4 52.5L151.3 52.8L151.2 53.3L151.2 53.6L151.0 54.0L150.9 54.4L150.8 54.8L150.7 55.1L150.5 55.5L150.4 55.8L150.2 56.2L149.9 56.5L149.7 56.8L149.5 57.0L149.2 57.3L148.9 57.5L148.7 57.6Z" fill="#fff" stroke="#8a8a8a" stroke-width="0.5"/>
<path d="M148.2 90.7L147.7 90.7L147.4 90.5L147.0 90.3L146.7 90.1L146.4 90.0L146.1 89.8L145.7 89.5L145.4 89.4L145.2 89.3L144.8 89.0L144.7 88.5L144.7 88.0L144.7 87.5L144.7 87.0L144.7 86.5L144.7 86.0L144.7 85.5L144.7 85.0L144.7 84.5L144.7 84.0L144.7 83.5L144.7 83.1L144.6 82.8L144.6 82.3L144.6 81.8L144.6 81.3L144.6 80.8L144.6 80.3L144.6 79.8L144.6 79.3L144.6 78.8L144.6 78.3L144.6 77.8L144.6 77.3L144.6 76.8L144.6 76.3L144.5 75.8L144.5 75.3L144.5 74.8L144.5 74.3L144.4 73.8L144.4 73.3L144.4 73.0L144.4 72.5L144.3 72.0L144.3 71.5L144.3 71.0L144.3 70.5L144.2 70.0L144.2 69.5L144.1 69.3L144.1 68.8L144.0 68.3L144.0 67.8L143.9 67.3L143.9 67.0L143.8 66.5L143.8 66.0L143.7 65.5L143.7 65.0L143.6 64.8L143.6 64.3L143.5 63.8L143.5 63.3L143.4 62.8L143.4 62.4L143.4 62.0L143.5 61.8L143.7 61.5L143.9 61.1L144.1 60.8L144.2 60.5L144.4 60.3L144.7 59.9L144.9 59.6L145.1 59.3L145.4 59.0L145.6 58.8L145.9 58.6L146.2 58.4L146.4 58.2L146.8 58.0L147.2 57.9L147.7 57.9L148.2 57.9L148.7 57.9L149.0 58.0L149.4 58.2L149.7 58.4L149.9 58.6L150.2 58.8L150.4 59.0L150.7 59.3L150.9 59.6L151.2 59.9L151.4 60.3L151.6 60.5L151.7 60.8L151.9 61.1L152.2 61.5L152.3 61.8L152.4 62.0L152.4 62.4L152.4 62.8L152.3 63.3L152.3 63.8L152.2 64.3L152.2 64.8L152.1 65.0L152.1 65.5L152.0 66.0L152.0 66.5L151.9 67.0L151.9 67.3L151.8 67.8L151.8 68.3L151.7 68.8L151.7 69.3L151.6 69.5L151.6 70.0L151.5 70.5L151.5 71.0L151.5 71.5L151.5 72.0L151.4 72.5L151.4 73.0L151.4 73.3L151.4 73.8L151.3 74.3L151.3 74.8L151.3 75.3L151.3 75.8L151.2 76.3L151.2 76.8L151.2 77.3L151.2 77.8L151.2 78.3L151.2 78.8L151.2 79.3L151.2 79.8L151.2 80.3L151.2 80.8L151.2 81.3L151.2 81.8L151.2 82.3L151.2 82.8L151.2 83.1L151.1 83.5L151.1 84.0L151.1 84.5L151.1 85.0L151.1 85.5L151.1 86.0L151.1 86.5L151.1 87.0L151.1 87.5L151.1 88.0L151.1 88.5L151.0 89.0L150.7 89.3L150.4 89.4L150.1 89.5L149.7 89.8L149.4 90.0L149.2 90.1L148.8 90.3L148.4 90.5L148.2 90.7Z" fill="#fff" stroke="#8a8a8a" stroke-width="0.5"/>
<path d="M148.2 53.1L147.7 53.1L147.4 53.0L147.2 52.8L146.9 52.5L146.7 52.1L146.5 51.8L146.4 51.5L146.2 51.0L146.1 50.8L145.9 50.4L145.8 50.0L145.7 49.6L145.5 49.3L145.4 48.9L145.3 48.5L145.2 48.1L145.0 47.8L144.9 47.3L144.8 47.0L144.7 46.5L144.7 46.0L144.7 45.5L144.7 45.0L144.8 44.5L144.8 44.0L144.9 43.6L144.9 43.3L145.0 42.8L145.1 42.3L145.2 42.0L145.2 41.5L145.3 41.0L145.4 40.5L145.4 40.3L145.5 39.8L145.6 39.3L145.7 39.0L145.8 38.5L145.9 38.3L146.0 37.8L146.2 37.4L146.2 37.0L146.4 36.5L146.4 36.3L146.5 35.8L146.7 35.4L146.7 35.0L146.9 34.7L147.1 34.3L147.3 34.0L147.4 33.8L147.7 33.4L147.8 33.0L148.0 33.0L148.2 33.4L148.4 33.8L148.5 34.0L148.7 34.3L148.9 34.7L149.1 35.0L149.2 35.4L149.2 35.8L149.4 36.3L149.4 36.5L149.6 37.0L149.7 37.4L149.7 37.8L149.9 38.3L149.9 38.5L150.0 39.0L150.2 39.5L150.2 39.8L150.3 40.3L150.3 40.8L150.4 41.3L150.4 41.6L150.4 42.0L150.5 42.5L150.5 43.0L150.6 43.5L150.6 44.0L150.7 44.3L150.7 44.8L150.8 45.3L150.8 45.8L150.9 46.3L150.8 46.8L150.7 47.3L150.7 47.6L150.5 48.0L150.4 48.5L150.3 48.8L150.2 49.3L150.1 49.5L150.0 50.0L149.9 50.3L149.7 50.8L149.6 51.0L149.4 51.5L149.3 51.8L149.1 52.0L148.9 52.4L148.7 52.8L148.4 53.0L148.2 53.1Z" fill="#fff" stroke="#8a8a8a" stroke-width="0.5"/>
<path d="M148.2 90.6L147.7 90.6L147.4 90.3L147.2 90.1L146.9 89.9L146.7 89.7L146.4 89.5L146.2 89.2L145.9 88.9L145.9 88.5L145.9 88.0L145.9 87.5L145.9 87.0L145.9 86.5L145.9 86.0L145.9 85.5L145.9 85.0L145.9 84.5L145.9 84.0L145.9 83.5L145.9 83.0L145.8 82.5L145.8 82.0L145.8 81.5L145.8 81.0L145.8 80.5L145.8 80.0L145.8 79.5L145.8 79.0L145.8 78.5L145.8 78.0L145.8 77.5L145.8 77.0L145.8 76.5L145.8 76.0L145.8 75.5L145.8 75.0L145.8 74.5L145.8 74.0L145.8 73.5L145.8 73.0L145.8 72.5L145.8 72.0L145.9 71.5L145.9 71.0L145.9 70.5L145.9 70.0L145.8 69.5L145.8 69.0L145.8 68.5L145.8 68.0L145.8 67.5L145.8 67.0L145.8 66.5L145.8 66.0L145.8 65.5L145.8 65.0L145.8 64.5L145.9 64.0L145.9 63.5L145.9 63.0L145.9 62.8L145.9 62.3L146.1 61.8L146.4 61.6L146.7 61.4L146.9 61.2L147.3 61.0L147.7 61.0L148.2 61.0L148.5 61.0L148.9 61.2L149.2 61.4L149.4 61.6L149.7 61.8L149.9 62.3L149.9 62.8L149.9 63.0L149.9 63.5L149.9 64.0L150.0 64.5L150.0 65.0L150.0 65.5L150.0 66.0L150.0 66.5L150.0 67.0L150.0 67.5L150.0 68.0L150.0 68.5L150.0 69.0L150.0 69.5L149.9 70.0L149.9 70.5L149.9 71.0L149.9 71.5L150.0 72.0L150.0 72.5L150.0 73.0L150.0 73.5L150.0 74.0L150.0 74.5L150.0 75.0L150.0 75.5L150.0 76.0L150.0 76.5L150.0 77.0L150.0 77.5L150.0 78.0L150.0 78.5L150.0 79.0L150.0 79.5L150.0 80.0L150.0 80.5L150.0 81.0L150.0 81.5L150.0 82.0L150.0 82.5L149.9 83.0L149.9 83.5L149.9 84.0L149.9 84.5L149.9 85.0L149.9 85.5L149.9 86.0L149.9 86.5L149.9 87.0L149.9 87.5L149.9 88.0L149.9 88.5L149.9 88.9L149.7 89.2L149.4 89.5L149.2 89.7L148.9 89.9L148.7 90.1L148.4 90.3L148.2 90.6Z" fill="#fff" stroke="#8a8a8a" stroke-width="0.5"/>
<path d="M148.2 48.1L147.7 48.1L147.4 48.0L147.2 47.7L146.9 47.4L146.7 47.0L146.6 46.8L146.5 46.3L146.5 45.8L146.5 45.3L146.5 44.8L146.5 44.3L146.5 43.8L146.6 43.3L146.6 42.8L146.6 42.3L146.7 42.0L146.7 41.5L146.7 41.0L146.8 40.5L146.8 40.0L146.9 39.5L146.9 39.2L147.0 38.8L147.0 38.3L147.1 37.8L147.1 37.3L147.2 37.0L147.2 36.5L147.3 36.0L147.3 35.5L147.4 35.0L147.5 34.8L147.6 34.3L147.7 34.0L147.8 33.5L147.9 33.0L147.9 33.0L148.0 33.5L148.2 34.0L148.2 34.3L148.3 34.8L148.4 35.0L148.5 35.5L148.5 36.0L148.6 36.5L148.6 37.0L148.7 37.3L148.7 37.8L148.8 38.3L148.8 38.8L148.9 39.3L148.9 39.5L148.9 40.0L149.0 40.5L149.0 41.0L149.0 41.5L149.0 42.0L149.0 42.5L149.1 43.0L149.1 43.5L149.1 44.0L149.1 44.5L149.2 44.8L149.2 45.3L149.2 45.8L149.2 46.3L149.2 46.8L149.0 47.0L148.9 47.3L148.7 47.6L148.4 47.9L148.2 48.1Z" fill="#fff" stroke="#999" stroke-width="0.5"/>
<path d="M147.9 90.6L147.7 90.3L147.6 90.0L147.4 89.8L147.2 89.3L147.1 89.0L147.0 88.5L147.0 88.0L147.0 87.5L147.0 87.0L147.0 86.5L147.0 86.0L147.0 85.5L147.0 85.0L147.0 84.5L147.0 84.0L147.0 83.5L147.0 83.0L147.0 82.5L147.0 82.0L147.0 81.5L147.0 81.0L147.0 80.5L147.0 80.0L147.0 79.5L147.0 79.0L147.0 78.5L147.0 78.0L147.0 77.5L147.0 77.0L147.1 76.5L147.1 76.0L147.2 75.8L147.2 75.3L147.3 74.8L147.4 74.3L147.5 74.0L147.6 73.5L147.8 73.3L148.0 73.3L148.2 73.5L148.3 74.0L148.4 74.3L148.5 74.8L148.6 75.3L148.6 75.8L148.7 76.0L148.7 76.5L148.8 77.0L148.8 77.5L148.8 78.0L148.8 78.5L148.8 79.0L148.8 79.5L148.8 80.0L148.8 80.5L148.8 81.0L148.8 81.5L148.8 82.0L148.8 82.5L148.8 83.0L148.8 83.5L148.8 84.0L148.8 84.5L148.8 85.0L148.8 85.5L148.8 86.0L148.8 86.5L148.8 87.0L148.8 87.5L148.8 88.0L148.8 88.5L148.7 89.0L148.6 89.3L148.4 89.8L148.2 90.0L148.1 90.3L147.9 90.6Z" fill="#fff" stroke="#999" stroke-width="0.5"/>
<ellipse cx="147.9" cy="90.30000000000001" rx="3.74" ry="0.9" fill="#111"/>
<rect x="104.4" y="28.2" width="61.599999999999994" height="29.000000000000004" fill="none" stroke="#999" stroke-width="0.9"/>
<text x="107.4" y="55.2" font-size="3.5" fill="#333">86.9</text>
<rect x="99.4" y="23.8" width="67.9" height="67.60000000000001" fill="none" stroke="#8a8a8a" stroke-width="0.9"/>
<line x1="97.60000000000001" y1="30.4" x2="99.4" y2="30.4" stroke="#777" stroke-width="0.6"/>
<text x="96.9" y="31.599999999999998" font-size="3.6" text-anchor="end" fill="#222">10<tspan font-size="2.4" dy="-1">5</tspan></text>
<line x1="97.60000000000001" y1="45.2" x2="99.4" y2="45.2" stroke="#777" stroke-width="0.6"/>
<text x="96.9" y="46.400000000000006" font-size="3.6" text-anchor="end" fill="#222">10<tspan font-size="2.4" dy="-1">4</tspan></text>
<line x1="97.60000000000001" y1="60.6" x2="99.4" y2="60.6" stroke="#777" stroke-width="0.6"/>
<text x="96.9" y="61.800000000000004" font-size="3.6" text-anchor="end" fill="#222">10<tspan font-size="2.4" dy="-1">3</tspan></text>
<line x1="97.60000000000001" y1="76.0" x2="99.4" y2="76.0" stroke="#777" stroke-width="0.6"/>
<text x="96.9" y="77.2" font-size="3.6" text-anchor="end" fill="#222">10<tspan font-size="2.4" dy="-1">2</tspan></text>
<line x1="97.60000000000001" y1="84.2" x2="99.4" y2="84.2" stroke="#777" stroke-width="0.6"/>
<text x="96.9" y="85.4" font-size="3.6" text-anchor="end" fill="#222">0</text>
<line x1="106.9" y1="91.4" x2="106.9" y2="93.2" stroke="#777" stroke-width="0.6"/>
<text x="106.9" y="97.0" font-size="3.6" text-anchor="middle" fill="#222">0</text>
<line x1="113.4" y1="91.4" x2="113.4" y2="93.2" stroke="#777" stroke-width="0.6"/>
<text x="113.4" y="97.0" font-size="3.6" text-anchor="middle" fill="#222">10<tspan font-size="2.4" dy="-1">2</tspan></text>
<line x1="130.3" y1="91.4" x2="130.3" y2="93.2" stroke="#777" stroke-width="0.6"/>
<text x="130.3" y="97.0" font-size="3.6" text-anchor="middle" fill="#222">10<tspan font-size="2.4" dy="-1">3</tspan></text>
<line x1="145.7" y1="91.4" x2="145.7" y2="93.2" stroke="#777" stroke-width="0.6"/>
<text x="145.7" y="97.0" font-size="3.6" text-anchor="middle" fill="#222">10<tspan font-size="2.4" dy="-1">4</tspan></text>
<line x1="160.7" y1="91.4" x2="160.7" y2="93.2" stroke="#777" stroke-width="0.6"/>
<text x="160.7" y="97.0" font-size="3.6" text-anchor="middle" fill="#222">10<tspan font-size="2.4" dy="-1">5</tspan></text>
<text x="132.35000000000002" y="101.0" font-size="3.3" text-anchor="middle" fill="#222">FITC-A CFSE</text>
<text x="120.9" y="19.1" font-size="8.6" text-anchor="start" fill="#111" class="b">PPD-B</text>
<path d="M183.5 63h1M186 75.5h1M187.5 77.5h1M187.5 83h1M188 83.5h1M189.5 81h1M192.5 70h1M192.5 79.5h1M193.5 80.5h1M194 65.5h1M194 70h1M194 74.5h1M194 86.5h1M194.5 48h1M195 60.5h1M195.5 43h1M195.5 47.5h1M195.5 61.5h1M195.5 65.5h1M195.5 87.5h1M196 46h1M196 54.5h1M196 73h1M197 54h1M197 70h1M197 86h1M197 88.5h1M197.5 56h1M197.5 56.5h1M197.5 68.5h1M197.5 72.5h1M197.5 85.5h1M197.5 86.5h1M198 35h1M198 83.5h1M198 84h1M198.5 53h1M198.5 59h1M198.5 63h1M198.5 79.5h1M199 60.5h1M199 62.5h1M199 68.5h1M199 80h1M199 87.5h1M199.5 40.5h1M199.5 57h1M199.5 83.5h1M200 34.5h1M200 42h1M200 77.5h1M200 86.5h1M200 88h1M200.5 52.5h1M200.5 64h1M200.5 65.5h1M200.5 66h1M200.5 74.5h1M201 45.5h1M201 57h1M201 66.5h1M201 67h1M201 69h1M201 80h1M201 86h1M201.5 36h1M201.5 42.5h1M201.5 48.5h1M201.5 52h1M201.5 55h1M201.5 61h1M201.5 66.5h1M201.5 79.5h1M201.5 86h1M202 39.5h1M202 44h1M202 44.5h1M202 45.5h1M202 47.5h1M202 49h1M202 53.5h1M202 54h1M202 69h1M202 72h1M202 74h1M202 77.5h1M202 83h1M202 89.5h1M202.5 39h1M202.5 49h1M202.5 49.5h1M202.5 54h1M202.5 56.5h1M202.5 58.5h1M202.5 80.5h1M203 42h1M203 42.5h1M203 43h1M203 53h1M203 61.5h1M203 63.5h1M203 64h1M203 64.5h1M203 68h1M203 85h1M203 87.5h1M203 88h1M203.5 40h1M203.5 42.5h1M203.5 45h1M203.5 49h1M203.5 53.5h1M203.5 57h1M203.5 59.5h1M203.5 64.5h1M203.5 65.5h1M203.5 72.5h1M203.5 84h1M203.5 84.5h1M203.5 87.5h1M204 37h1M204 41.5h1M204 46h1M204 48h1M204 49.5h1M204 57h1M204 59h1M204 69h1M204 73h1M204 75.5h1M204 82.5h1M204.5 32h1M204.5 43.5h1M204.5 53h1M204.5 54h1M204.5 66h1M204.5 81h1M204.5 84h1M204.5 85.5h1M205 41.5h1M205 46h1M205 48.5h1M205 54h1M205 56h1M205 57.5h1M205 69h1M205 73.5h1M205 76h1M205 81h1M205 85.5h1M205 88.5h1M205.5 31h1M205.5 33.5h1M205.5 35h1M205.5 38h1M205.5 40h1M205.5 40.5h1M205.5 42h1M205.5 46h1M205.5 47.5h1M205.5 48.5h1M205.5 49h1M205.5 50h1M205.5 53.5h1M205.5 54h1M205.5 64.5h1M205.5 65h1M205.5 66.5h1M205.5 74h1M205.5 84h1M205.5 85.5h1M206 35.5h1M206 39.5h1M206 40h1M206 40.5h1M206 45h1M206 48h1M206 52.5h1M206 61h1M206 62.5h1M206 68.5h1M206 73.5h1M206 81.5h1M206 85h1M206.5 38h1M206.5 40h1M206.5 43h1M206.5 44.5h1M206.5 46.5h1M206.5 47h1M206.5 50h1M206.5 52h1M206.5 52.5h1M206.5 58.5h1M206.5 62h1M206.5 68h1M206.5 68.5h1M206.5 70h1M206.5 71.5h1M206.5 75.5h1M206.5 77h1M206.5 77.5h1M206.5 81h1M206.5 84h1M206.5 87.5h1M206.5 90h1M207 33.5h1M207 37h1M207 37.5h1M207 45h1M207 46.5h1M207 48h1M207 49h1M207 49.5h1M207 50.5h1M207 51h1M207 54h1M207 60.5h1M207 62.5h1M207 63h1M207 66.5h1M207 72.5h1M207 78.5h1M207 86.5h1M207 88.5h1M207 89h1M207.5 32h1M207.5 33h1M207.5 37h1M207.5 42h1M207.5 43h1M207.5 43.5h1M207.5 45h1M207.5 46h1M207.5 48h1M207.5 50h1M207.5 53h1M207.5 54.5h1M207.5 55.5h1M207.5 57.5h1M207.5 58h1M207.5 72.5h1M207.5 75h1M207.5 76h1M207.5 82h1M207.5 83.5h1M207.5 86h1M207.5 88h1M208 42h1M208 42.5h1M208 43.5h1M208 46h1M208 52.5h1M208 55h1M208 56.5h1M208 58h1M208 61h1M208 76.5h1M208 78.5h1M208 79h1M208 80h1M208 86.5h1M208.5 34.5h1M208.5 38h1M208.5 38.5h1M208.5 39h1M208.5 43h1M208.5 44.5h1M208.5 45.5h1M208.5 47.5h1M208.5 48h1M208.5 49h1M208.5 50.5h1M208.5 57.5h1M208.5 59.5h1M208.5 60h1M208.5 60.5h1M208.5 61h1M208.5 61.5h1M208.5 62h1M208.5 62.5h1M208.5 65h1M208.5 67.5h1M208.5 69.5h1M208.5 71.5h1M208.5 74h1M208.5 77h1M208.5 78h1M208.5 84h1M208.5 85.5h1M208.5 89.5h1M209 34h1M209 39h1M209 40.5h1M209 41.5h1M209 42h1M209 43.5h1M209 44h1M209 46h1M209 51.5h1M209 52h1M209 53.5h1M209 54.5h1M209 56.5h1M209 59h1M209 60.5h1M209 62.5h1M209 63h1M209 68.5h1M209 73.5h1M209 76h1M209 81h1M209 81.5h1M209 88h1M209.5 36.5h1M209.5 39h1M209.5 39.5h1M209.5 40.5h1M209.5 42.5h1M209.5 45.5h1M209.5 48h1M209.5 48.5h1M209.5 51.5h1M209.5 53.5h1M209.5 58.5h1M209.5 60.5h1M209.5 65h1M209.5 73h1M209.5 74.5h1M209.5 75h1M209.5 81h1M209.5 83h1M209.5 84.5h1M209.5 85h1M209.5 85.5h1M209.5 87h1M210 28h1M210 31h1M210 39.5h1M210 40.5h1M210 42.5h1M210 44h1M210 48.5h1M210 51.5h1M210 52.5h1M210 54h1M210 55.5h1M210 60.5h1M210 61h1M210 64.5h1M210 65h1M210 67h1M210 67.5h1M210 77.5h1M210 88.5h1M210.5 37h1M210.5 40.5h1M210.5 42.5h1M210.5 44.5h1M210.5 45.5h1M210.5 46.5h1M210.5 48.5h1M210.5 50.5h1M210.5 53h1M210.5 55.5h1M210.5 59h1M210.5 63.5h1M210.5 68.5h1M210.5 71.5h1M210.5 76h1M210.5 83.5h1M210.5 86h1M211 36.5h1M211 39h1M211 42h1M211 42.5h1M211 44.5h1M211 45h1M211 45.5h1M211 47h1M211 50h1M211 50.5h1M211 51.5h1M211 52.5h1M211 53h1M211 53.5h1M211 55h1M211 55.5h1M211 57h1M211 57.5h1M211 58h1M211 58.5h1M211 59h1M211 60.5h1M211 61.5h1M211 74h1M211 75h1M211 75.5h1M211 79h1M211 80h1M211 81h1M211 84h1M211.5 32h1M211.5 35h1M211.5 36h1M211.5 39.5h1M211.5 41h1M211.5 42h1M211.5 42.5h1M211.5 43h1M211.5 44.5h1M211.5 48h1M211.5 48.5h1M211.5 49h1M211.5 50.5h1M211.5 52.5h1M211.5 53.5h1M211.5 55.5h1M211.5 58h1M211.5 59.5h1M211.5 60h1M211.5 60.5h1M211.5 62.5h1M211.5 64.5h1M211.5 68h1M211.5 73.5h1M211.5 80.5h1M212 30h1M212 36.5h1M212 37h1M212 38h1M212 40h1M212 41.5h1M212 42h1M212 42.5h1M212 43h1M212 43.5h1M212 44.5h1M212 45h1M212 47h1M212 48h1M212 48.5h1M212 51.5h1M212 52h1M212 54.5h1M212 55h1M212 56h1M212 58h1M212 62h1M212 62.5h1M212 63h1M212 65.5h1M212 67h1M212 68.5h1M212 69h1M212 70h1M212 71.5h1M212 76.5h1M212 80.5h1M212.5 35.5h1M212.5 36.5h1M212.5 39.5h1M212.5 41h1M212.5 42h1M212.5 45h1M212.5 46.5h1M212.5 48h1M212.5 49h1M212.5 50.5h1M212.5 55h1M212.5 62h1M212.5 65.5h1M212.5 68h1M212.5 69.5h1M212.5 73h1M212.5 73.5h1M212.5 76.5h1M212.5 82.5h1M212.5 83h1M212.5 84h1M213 34.5h1M213 35h1M213 40.5h1M213 43h1M213 44h1M213 46.5h1M213 48h1M213 50.5h1M213 51h1M213 51.5h1M213 53h1M213 57.5h1M213 58h1M213 63h1M213 64h1M213 66h1M213 71h1M213 72.5h1M213 75h1M213 75.5h1M213 81.5h1M213 86h1M213 87h1M213.5 32h1M213.5 37.5h1M213.5 38h1M213.5 38.5h1M213.5 39h1M213.5 42.5h1M213.5 43h1M213.5 46h1M213.5 49h1M213.5 50h1M213.5 53.5h1M213.5 55h1M213.5 56h1M213.5 56.5h1M213.5 57.5h1M213.5 61h1M213.5 62h1M213.5 67.5h1M213.5 69h1M213.5 70h1M213.5 71h1M213.5 71.5h1M213.5 74h1M213.5 79.5h1M213.5 85.5h1M213.5 89h1M214 27h1M214 29.5h1M214 35h1M214 35.5h1M214 36h1M214 37h1M214 43h1M214 44.5h1M214 48.5h1M214 49h1M214 55h1M214 58.5h1M214 59h1M214 59.5h1M214 63.5h1M214 71h1M214 77h1M214 80h1M214 83h1M214.5 34h1M214.5 34.5h1M214.5 36h1M214.5 37h1M214.5 40.5h1M214.5 43h1M214.5 44.5h1M214.5 45.5h1M214.5 46.5h1M214.5 50h1M214.5 53.5h1M214.5 59.5h1M214.5 63.5h1M214.5 64.5h1M214.5 65h1M214.5 65.5h1M214.5 66.5h1M214.5 67.5h1M214.5 69.5h1M214.5 72h1M214.5 74.5h1M214.5 83h1M214.5 86h1M215 36.5h1M215 38.5h1M215 41h1M215 42h1M215 43h1M215 44h1M215 45.5h1M215 47h1M215 47.5h1M215 48.5h1M215 51.5h1M215 52.5h1M215 55h1M215 57.5h1M215 59h1M215 59.5h1M215 60h1M215 68.5h1M215 69h1M215 78.5h1M215 87h1M215.5 30h1M215.5 33.5h1M215.5 34.5h1M215.5 35h1M215.5 39.5h1M215.5 40.5h1M215.5 41h1M215.5 42h1M215.5 43h1M215.5 43.5h1M215.5 44.5h1M215.5 47h1M215.5 48h1M215.5 50.5h1M215.5 51.5h1M215.5 53h1M215.5 54h1M215.5 55.5h1M215.5 57h1M215.5 58h1M215.5 59h1M215.5 60h1M215.5 61.5h1M215.5 63h1M215.5 65h1M215.5 65.5h1M215.5 66.5h1M215.5 67h1M215.5 68h1M215.5 72h1M215.5 75.5h1M215.5 78.5h1M215.5 79.5h1M215.5 80h1M215.5 84.5h1M215.5 89h1M215.5 90h1M216 30h1M216 32h1M216 33h1M216 34.5h1M216 39.5h1M216 41h1M216 43h1M216 43.5h1M216 44h1M216 46.5h1M216 48h1M216 49h1M216 54h1M216 57.5h1M216 60h1M216 63h1M216 64.5h1M216 65h1M216 79h1M216 89.5h1M216.5 33h1M216.5 34.5h1M216.5 35.5h1M216.5 39h1M216.5 40h1M216.5 42.5h1M216.5 47.5h1M216.5 49h1M216.5 49.5h1M216.5 50.5h1M216.5 53.5h1M216.5 57h1M216.5 59.5h1M216.5 62h1M216.5 63.5h1M216.5 64.5h1M216.5 70h1M216.5 70.5h1M216.5 78h1M216.5 85h1M217 28.5h1M217 32.5h1M217 37.5h1M217 39h1M217 39.5h1M217 42h1M217 43h1M217 45h1M217 45.5h1M217 46.5h1M217 47h1M217 47.5h1M217 49h1M217 50h1M217 52h1M217 55h1M217 58h1M217 59h1M217 61.5h1M217 64.5h1M217 67.5h1M217 73.5h1M217 75h1M217 75.5h1M217 79h1M217 80.5h1M217 86.5h1M217.5 26h1M217.5 36.5h1M217.5 37.5h1M217.5 43h1M217.5 47.5h1M217.5 48h1M217.5 49.5h1M217.5 50h1M217.5 51.5h1M217.5 52h1M217.5 55.5h1M217.5 57h1M217.5 59.5h1M217.5 60.5h1M217.5 61h1M217.5 64h1M217.5 67h1M217.5 68h1M217.5 70h1M217.5 75h1M217.5 76.5h1M217.5 77.5h1M217.5 78h1M217.5 80h1M217.5 83h1M217.5 86.5h1M217.5 88h1M217.5 88.5h1M218 38h1M218 43h1M218 43.5h1M218 45h1M218 46.5h1M218 49.5h1M218 52.5h1M218 53h1M218 56.5h1M218 58.5h1M218 59h1M218 62.5h1M218 63.5h1M218 69.5h1M218 71h1M218 74.5h1M218 79h1M218 81.5h1M218 86.5h1M218.5 43h1M218.5 44.5h1M218.5 49h1M218.5 50.5h1M218.5 54h1M218.5 55h1M218.5 56.5h1M218.5 59h1M218.5 68h1M218.5 86h1M219 35.5h1M219 40.5h1M219 41.5h1M219 46h1M219 49h1M219 49.5h1M219 51h1M219 51.5h1M219 52.5h1M219 55h1M219 60.5h1M219 61.5h1M219 62h1M219 64h1M219 66.5h1M219 67.5h1M219 68h1M219 77h1M219 82h1M219 82.5h1M219 83h1M219 83.5h1M219 86h1M219.5 43h1M219.5 46h1M219.5 47.5h1M219.5 51.5h1M219.5 52h1M219.5 53.5h1M219.5 54h1M219.5 56.5h1M219.5 59.5h1M219.5 62.5h1M219.5 63h1M219.5 63.5h1M219.5 64.5h1M219.5 68.5h1M219.5 69h1M219.5 70.5h1M219.5 78h1M219.5 86.5h1M220 33.5h1M220 39h1M220 40h1M220 42h1M220 45h1M220 45.5h1M220 49.5h1M220 50h1M220 51h1M220 51.5h1M220 52h1M220 60.5h1M220 61.5h1M220 63h1M220 67.5h1M220 73h1M220 74h1M220 82h1M220 84.5h1M220 87h1M220 90h1M220.5 24.5h1M220.5 32h1M220.5 38h1M220.5 39h1M220.5 40.5h1M220.5 41h1M220.5 41.5h1M220.5 44.5h1M220.5 45h1M220.5 46h1M220.5 47h1M220.5 49h1M220.5 49.5h1M220.5 51.5h1M220.5 52h1M220.5 52.5h1M220.5 55.5h1M220.5 57h1M220.5 57.5h1M220.5 59h1M220.5 60h1M220.5 60.5h1M220.5 62.5h1M220.5 63h1M220.5 63.5h1M220.5 65h1M220.5 66h1M220.5 67.5h1M220.5 70h1M220.5 72h1M220.5 72.5h1M220.5 74.5h1M220.5 77h1M220.5 77.5h1M220.5 81h1M220.5 86h1M220.5 88h1M221 41h1M221 42h1M221 42.5h1M221 45.5h1M221 46.5h1M221 47h1M221 49h1M221 50h1M221 57.5h1M221 59.5h1M221 61h1M221 62.5h1M221 64.5h1M221 68.5h1M221 69.5h1M221 72.5h1M221 80h1M221 80.5h1M221 81h1M221 82.5h1M221 85h1M221.5 40.5h1M221.5 42h1M221.5 43h1M221.5 43.5h1M221.5 47h1M221.5 48h1M221.5 48.5h1M221.5 49.5h1M221.5 50h1M221.5 51h1M221.5 58h1M221.5 58.5h1M221.5 59h1M221.5 61h1M221.5 61.5h1M221.5 63h1M221.5 64h1M221.5 65h1M221.5 66h1M221.5 67h1M221.5 67.5h1M221.5 69.5h1M221.5 70h1M221.5 73h1M221.5 75h1M222 37.5h1M222 38h1M222 38.5h1M222 41h1M222 43.5h1M222 44.5h1M222 46.5h1M222 47h1M222 47.5h1M222 48h1M222 48.5h1M222 49h1M222 49.5h1M222 51h1M222 51.5h1M222 53h1M222 54h1M222 54.5h1M222 55h1M222 57.5h1M222 58.5h1M222 63h1M222 65h1M222 65.5h1M222 66h1M222 66.5h1M222 69h1M222 71.5h1M222 73h1M222 74.5h1M222 75h1M222 80.5h1M222 82h1M222 85h1M222.5 32h1M222.5 39.5h1M222.5 41h1M222.5 41.5h1M222.5 42.5h1M222.5 44h1M222.5 44.5h1M222.5 46h1M222.5 46.5h1M222.5 47h1M222.5 48h1M222.5 48.5h1M222.5 50h1M222.5 52h1M222.5 52.5h1M222.5 53h1M222.5 55h1M222.5 56.5h1M222.5 59.5h1M222.5 61h1M222.5 61.5h1M222.5 62h1M222.5 62.5h1M222.5 63h1M222.5 64h1M222.5 65h1M222.5 65.5h1M222.5 69h1M222.5 72h1M222.5 73.5h1M222.5 75.5h1M222.5 76.5h1M222.5 79h1M222.5 80h1M222.5 81h1M222.5 82h1M222.5 84.5h1M222.5 86.5h1M222.5 87h1M223 36h1M223 38.5h1M223 41h1M223 41.5h1M223 43.5h1M223 45.5h1M223 46h1M223 47.5h1M223 48h1M223 49.5h1M223 51h1M223 51.5h1M223 52.5h1M223 53h1M223 54h1M223 55.5h1M223 56h1M223 56.5h1M223 58.5h1M223 64h1M223 64.5h1M223 66h1M223 66.5h1M223 67h1M223 67.5h1M223 68h1M223 68.5h1M223 69h1M223 70h1M223 70.5h1M223 73h1M223 73.5h1M223 76h1M223 77.5h1M223 79h1M223 79.5h1M223 80.5h1M223 82h1M223 84h1M223 85h1M223.5 31.5h1M223.5 35h1M223.5 39.5h1M223.5 40.5h1M223.5 41h1M223.5 41.5h1M223.5 43.5h1M223.5 44.5h1M223.5 50.5h1M223.5 52.5h1M223.5 54.5h1M223.5 55h1M223.5 56h1M223.5 56.5h1M223.5 57h1M223.5 57.5h1M223.5 66.5h1M223.5 68h1M223.5 69h1M223.5 70h1M223.5 72h1M223.5 73h1M223.5 73.5h1M223.5 74h1M223.5 75.5h1M223.5 77.5h1M223.5 83h1M223.5 85.5h1M223.5 86h1M223.5 87.5h1M223.5 88.5h1M224 37.5h1M224 38.5h1M224 40.5h1M224 41h1M224 69.5h1M224 70h1M224 70.5h1M224 71.5h1M224 72h1M224 73h1M224 73.5h1M224 74.5h1M224 75h1M224 75.5h1M224 77.5h1M224 78h1M224 78.5h1M224 79h1M224 80h1M224 81h1M224 81.5h1M224 82h1M224 82.5h1M224 83h1M224 85.5h1M224 86h1M224 87h1M224 89h1M224 89.5h1M224 90h1M224.5 38h1M224.5 38.5h1M224.5 39.5h1M224.5 40h1M224.5 42h1M224.5 74h1M224.5 74.5h1M224.5 75h1M224.5 76h1M224.5 76.5h1M224.5 78h1M224.5 78.5h1M224.5 79h1M224.5 79.5h1M224.5 82h1M224.5 82.5h1M224.5 85.5h1M224.5 86h1M224.5 87h1M224.5 87.5h1M224.5 88h1M224.5 88.5h1M224.5 89.5h1M224.5 90h1M225 38.5h1M225 39h1M225 40h1M225 40.5h1M225 79h1M225 81h1M225 81.5h1M225 82.5h1M225 83.5h1M225 85h1M225 86h1M225 87.5h1M225 89.5h1M225.5 38h1M225.5 39h1M226 38h1M226 90h1M226.5 33.5h1M226.5 37.5h1M227 31.5h1M227 90.5h1M227.5 31h1M227.5 34.5h1M227.5 35h1M227.5 90h1M227.5 90.5h1M228 32h1M228 32.5h1M228.5 32.5h1M228.5 34.5h1M229 32h1M229 33.5h1M229 35.5h1M229.5 30h1M229.5 32.5h1M229.5 33.5h1M229.5 34h1M229.5 37.5h1M230 29.5h1M230 30.5h1M230 31h1M230 32.5h1M230 33h1M230 34h1M230 35.5h1M230 37h1M230.5 32.5h1M230.5 35h1M230.5 37h1M231 33h1M231.5 31h1M231.5 38h1M231.5 90.5h1M232 90h1M232.5 30h1M232.5 38h1M232.5 90h1M233 33h1M233 90h1M233 90.5h1M233.5 39.5h1M233.5 90h1M234 37.5h1M234 38h1M234 38.5h1M234 39h1M234 39.5h1M234 40h1M234 77h1M234 79h1M234 79.5h1M234 80h1M234 80.5h1M234 81.5h1M234 84.5h1M234 86h1M234 87h1M234 88h1M234 90.5h1M234.5 38.5h1M234.5 40h1M234.5 41.5h1M234.5 70h1M234.5 70.5h1M234.5 71h1M234.5 72.5h1M234.5 74.5h1M234.5 75.5h1M234.5 76h1M234.5 77h1M234.5 77.5h1M234.5 81h1M234.5 82h1M234.5 83h1M234.5 85.5h1M234.5 86.5h1M234.5 87h1M234.5 87.5h1M234.5 89.5h1M234.5 90h1M235 39h1M235 40h1M235 41.5h1M235 43h1M235 55h1M235 55.5h1M235 67h1M235 68h1M235 70.5h1M235 71h1M235 72.5h1M235 74h1M235 74.5h1M235 77h1M235 78.5h1M235 80h1M235 81.5h1M235 82h1M235 83h1M235 83.5h1M235 85.5h1M235 88h1M235 88.5h1M235.5 38.5h1M235.5 41h1M235.5 41.5h1M235.5 42h1M235.5 42.5h1M235.5 43.5h1M235.5 44.5h1M235.5 50.5h1M235.5 51h1M235.5 51.5h1M235.5 52.5h1M235.5 54.5h1M235.5 55.5h1M235.5 56h1M235.5 56.5h1M235.5 57.5h1M235.5 58h1M235.5 64h1M235.5 64.5h1M235.5 66.5h1M235.5 67h1M235.5 69h1M235.5 69.5h1M235.5 70h1M235.5 70.5h1M235.5 72.5h1M235.5 74.5h1M235.5 75h1M235.5 75.5h1M235.5 76.5h1M235.5 77.5h1M235.5 79.5h1M235.5 80h1M235.5 81.5h1M235.5 83h1M235.5 84h1M235.5 85.5h1M235.5 86h1M235.5 87h1M235.5 88h1M235.5 88.5h1M235.5 89h1M236 41h1M236 44.5h1M236 45h1M236 45.5h1M236 46.5h1M236 47h1M236 48h1M236 50h1M236 51.5h1M236 53.5h1M236 54h1M236 55h1M236 55.5h1M236 56h1M236 57h1M236 57.5h1M236 58h1M236 58.5h1M236 59h1M236 60h1M236 61.5h1M236 63h1M236 63.5h1M236 64h1M236 64.5h1M236 65h1M236 69h1M236 69.5h1M236 70h1M236 70.5h1M236 75h1M236 75.5h1M236 76h1M236 80h1M236 82h1M236 83h1M236 83.5h1M236 85h1M236 86h1M236 88h1M236 89.5h1M236 90h1M236.5 39h1M236.5 40.5h1M236.5 44.5h1M236.5 46h1M236.5 46.5h1M236.5 48.5h1M236.5 51.5h1M236.5 52.5h1M236.5 54.5h1M236.5 55h1M236.5 58h1M236.5 59h1M236.5 59.5h1M236.5 60.5h1M236.5 64h1M236.5 65h1M236.5 65.5h1M236.5 66.5h1M236.5 71h1M236.5 75h1M236.5 75.5h1M236.5 77.5h1M236.5 79h1M236.5 81.5h1M236.5 86h1M236.5 86.5h1M237 41.5h1M237 43h1M237 46.5h1M237 47h1M237 52.5h1M237 53h1M237 54.5h1M237 56.5h1M237 58h1M237 62.5h1M237 63h1M237 64h1M237 70h1M237 71h1M237 76h1M237 81.5h1M237 83h1M237 88h1M237.5 37.5h1M237.5 44.5h1M237.5 45.5h1M237.5 46h1M237.5 48h1M237.5 54.5h1M237.5 58h1M237.5 59.5h1M237.5 60.5h1M237.5 61.5h1M237.5 63.5h1M237.5 64h1M237.5 64.5h1M237.5 65h1M237.5 70.5h1M237.5 72h1M237.5 74.5h1M237.5 75h1M237.5 80.5h1M237.5 82h1M237.5 83h1M237.5 86.5h1M237.5 89h1M238 46.5h1M238 47.5h1M238 53.5h1M238 55.5h1M238 60.5h1M238 61h1M238 63.5h1M238 65h1M238 65.5h1M238 67.5h1M238 73.5h1M238 75.5h1M238 88h1M238.5 46.5h1M238.5 47.5h1M238.5 59.5h1M238.5 60h1M238.5 62h1M238.5 68h1M238.5 68.5h1M238.5 70h1M238.5 77h1M238.5 88h1M239 46.5h1M239 48.5h1M239 59h1M239 63h1M239 65h1M239 68h1M239 73.5h1M239 83.5h1M239.5 56.5h1M239.5 70.5h1M239.5 87h1M239.5 90h1M240 43.5h1M240 44h1M240 46h1M240 48.5h1M240 53.5h1M240 54h1M240 59h1M240 61.5h1M240 73h1M240 76.5h1M240.5 44.5h1M240.5 58h1M240.5 61.5h1M241 47h1M241 53.5h1M241 54h1M241 54.5h1M241 60h1M241 60.5h1M241 61h1M241 66h1M241 74.5h1M241 82.5h1M241.5 52.5h1M241.5 54.5h1M241.5 58h1M241.5 89h1M242 46.5h1M242 53.5h1M242 61h1M242.5 79h1M242.5 83.5h1M243 78h1M243 86h1M243.5 75.5h1M244 55h1M245 47.5h1M245 53h1M245 75h1M245.5 45.5h1M245.5 89h1M247 43.5h1" stroke="#000" stroke-width="0.9" stroke-opacity="0.8" fill="none" filter="url(#soft)"/>
<path d="M230.2 90.6L229.7 90.8L229.2 90.8L228.7 90.6L228.4 90.5L227.9 90.4L227.7 90.3L227.2 90.2L226.9 90.0L226.4 89.9L226.0 89.8L225.7 89.7L225.2 89.5L225.0 89.3L225.0 88.8L225.0 88.3L225.0 87.8L225.0 87.3L225.0 86.8L225.0 86.3L225.0 85.8L225.0 85.3L224.9 84.8L224.9 84.3L224.9 83.8L224.9 83.3L224.9 82.8L224.9 82.3L224.9 81.8L224.9 81.3L224.9 80.8L224.9 80.3L224.9 80.0L224.9 79.5L224.8 79.0L224.8 78.5L224.8 78.0L224.7 77.5L224.7 77.0L224.7 76.5L224.7 76.1L224.6 75.8L224.6 75.3L224.6 74.8L224.5 74.3L224.5 73.8L224.5 73.3L224.4 72.8L224.4 72.3L224.4 72.0L224.4 71.5L224.3 71.0L224.3 70.5L224.2 70.0L224.1 69.8L224.1 69.3L224.0 68.8L223.9 68.4L223.8 68.0L223.7 67.5L223.7 67.0L223.6 66.8L223.5 66.3L223.4 65.8L223.4 65.5L223.3 65.0L223.2 64.5L223.2 64.1L223.1 63.8L223.0 63.3L222.9 62.8L222.9 62.5L222.8 62.0L222.7 61.5L222.7 61.3L222.6 60.8L222.5 60.3L222.7 59.9L222.8 59.5L222.9 59.1L223.0 58.8L223.2 58.4L223.2 58.0L223.4 57.6L223.5 57.3L223.6 56.8L223.7 56.5L223.9 56.0L223.8 55.5L223.8 55.0L223.7 54.5L223.7 54.0L223.6 53.8L223.6 53.3L223.5 52.8L223.4 52.3L223.4 52.0L223.3 51.5L223.3 51.0L223.2 50.5L223.2 50.0L223.2 49.8L223.1 49.3L223.0 48.8L223.0 48.3L222.9 47.8L222.9 47.5L222.8 47.0L222.8 46.5L222.9 46.3L223.1 45.8L223.2 45.5L223.3 45.0L223.4 44.7L223.5 44.3L223.7 43.9L223.8 43.5L223.9 43.1L224.0 42.8L224.2 42.4L224.2 42.0L224.4 41.6L224.5 41.3L224.6 40.8L224.7 40.5L224.9 40.0L225.0 39.8L225.2 39.5L225.4 39.3L225.7 39.0L225.9 38.7L226.2 38.5L226.4 38.2L226.7 38.0L227.2 37.8L227.4 37.8L227.9 37.6L228.2 37.5L228.7 37.4L229.0 37.3L229.4 37.1L229.8 37.3L230.2 37.4L230.6 37.5L230.9 37.6L231.4 37.8L231.7 37.8L232.2 38.0L232.4 38.2L232.7 38.5L232.9 38.7L233.2 39.0L233.4 39.3L233.7 39.5L233.8 39.8L233.9 40.0L234.1 40.5L234.2 40.8L234.3 41.3L234.4 41.6L234.6 42.0L234.7 42.4L234.8 42.8L234.9 43.1L235.0 43.5L235.2 43.9L235.3 44.3L235.4 44.7L235.5 45.0L235.7 45.5L235.7 45.8L235.9 46.3L236.0 46.5L236.0 47.0L235.9 47.5L235.9 47.8L235.8 48.3L235.8 48.8L235.7 49.3L235.7 49.8L235.6 50.0L235.6 50.5L235.5 51.0L235.5 51.5L235.4 52.0L235.4 52.3L235.3 52.8L235.2 53.3L235.2 53.8L235.1 54.0L235.1 54.5L235.0 55.0L235.0 55.5L234.9 56.0L235.1 56.5L235.2 56.8L235.3 57.3L235.4 57.6L235.6 58.0L235.7 58.4L235.8 58.8L235.9 59.1L236.0 59.5L236.2 59.9L236.3 60.3L236.2 60.8L236.2 61.3L236.1 61.5L236.0 62.0L235.9 62.5L235.9 62.8L235.8 63.3L235.7 63.8L235.7 64.1L235.6 64.5L235.5 65.0L235.4 65.5L235.4 65.8L235.3 66.3L235.2 66.8L235.1 67.0L235.1 67.5L235.0 68.0L234.9 68.4L234.8 68.8L234.7 69.3L234.7 69.8L234.6 70.0L234.5 70.5L234.5 71.0L234.4 71.5L234.4 72.0L234.4 72.3L234.4 72.8L234.3 73.3L234.3 73.8L234.3 74.3L234.2 74.8L234.2 75.3L234.2 75.8L234.2 76.1L234.1 76.5L234.1 77.0L234.1 77.5L234.0 78.0L234.0 78.5L234.0 79.0L233.9 79.5L233.9 80.0L233.9 80.3L233.9 80.8L233.9 81.3L233.9 81.8L233.9 82.3L233.9 82.8L233.9 83.3L233.9 83.8L233.9 84.3L233.9 84.8L233.8 85.3L233.8 85.8L233.8 86.3L233.8 86.8L233.8 87.3L233.8 87.8L233.8 88.3L233.8 88.8L233.8 89.3L233.6 89.5L233.2 89.7L232.8 89.8L232.4 89.9L231.9 90.0L231.7 90.2L231.2 90.3L230.9 90.4L230.4 90.5L230.2 90.6Z" fill="#fff" stroke="#000" stroke-width="1.0"/>
<path d="M230.7 55.6L230.2 55.7L229.7 55.7L229.2 55.7L228.7 55.7L228.2 55.6L227.9 55.5L227.4 55.3L227.2 55.1L226.9 54.9L226.7 54.7L226.4 54.4L226.2 54.0L226.0 53.8L225.9 53.5L225.7 53.0L225.6 52.8L225.4 52.3L225.4 52.0L225.3 51.5L225.2 51.0L225.2 50.8L225.1 50.3L225.0 49.8L224.9 49.3L224.9 49.0L224.8 48.5L224.8 48.0L224.7 47.5L224.7 47.1L224.6 46.8L224.7 46.3L224.7 46.0L224.8 45.5L224.9 45.2L225.0 44.8L225.1 44.3L225.2 44.0L225.3 43.5L225.4 43.1L225.5 42.8L225.6 42.3L225.7 42.0L225.8 41.5L225.9 41.0L225.9 40.8L226.0 40.3L226.2 39.9L226.3 39.5L226.5 39.3L226.7 39.0L226.9 38.7L227.1 38.3L227.3 38.0L227.7 37.9L227.9 37.8L228.4 37.6L228.7 37.5L229.1 37.3L229.4 37.1L229.7 37.3L230.2 37.5L230.4 37.6L230.9 37.8L231.2 37.9L231.5 38.0L231.7 38.3L231.9 38.7L232.2 39.0L232.3 39.3L232.5 39.5L232.7 39.9L232.8 40.3L232.9 40.8L232.9 41.0L233.0 41.5L233.2 42.0L233.2 42.3L233.3 42.8L233.4 43.1L233.5 43.5L233.6 44.0L233.7 44.3L233.8 44.8L233.9 45.2L234.0 45.5L234.1 46.0L234.2 46.3L234.2 46.8L234.2 47.1L234.1 47.5L234.0 48.0L234.0 48.5L233.9 49.0L233.9 49.3L233.8 49.8L233.7 50.3L233.7 50.8L233.6 51.0L233.5 51.5L233.4 52.0L233.4 52.3L233.2 52.8L233.1 53.0L232.9 53.5L232.8 53.8L232.6 54.0L232.4 54.4L232.2 54.7L231.9 54.9L231.7 55.1L231.4 55.3L230.9 55.5L230.7 55.6Z" fill="#fff" stroke="#8a8a8a" stroke-width="0.5"/>
<path d="M229.9 90.6L229.4 90.7L228.9 90.6L228.7 90.5L228.2 90.3L227.9 90.2L227.5 90.0L227.2 89.9L226.9 89.8L226.4 89.6L226.2 89.3L226.2 88.8L226.2 88.3L226.2 87.8L226.2 87.3L226.2 86.8L226.2 86.3L226.2 85.8L226.2 85.3L226.2 84.8L226.1 84.5L226.1 84.0L226.1 83.5L226.1 83.0L226.1 82.5L226.1 82.0L226.1 81.5L226.1 81.0L226.1 80.5L226.1 80.0L226.1 79.5L226.1 79.0L226.1 78.5L226.0 78.0L226.0 77.5L226.0 77.0L226.0 76.5L225.9 76.0L225.9 75.5L225.9 75.0L225.9 74.8L225.9 74.3L225.9 73.8L225.8 73.3L225.8 72.8L225.8 72.3L225.8 71.8L225.8 71.3L225.7 70.8L225.7 70.3L225.7 70.0L225.6 69.5L225.5 69.0L225.5 68.5L225.4 68.0L225.4 67.6L225.4 67.3L225.3 66.8L225.3 66.3L225.2 65.8L225.2 65.3L225.1 65.0L225.1 64.5L225.0 64.0L225.0 63.5L225.0 63.0L224.9 62.5L224.9 62.3L224.8 61.8L224.8 61.3L224.8 60.8L224.8 60.3L224.9 60.0L225.1 59.5L225.2 59.3L225.4 59.0L225.6 58.5L225.8 58.3L226.0 58.0L226.2 57.8L226.4 57.5L226.7 57.3L226.9 57.0L227.3 56.8L227.7 56.6L227.9 56.5L228.4 56.4L228.9 56.3L229.2 56.3L229.7 56.3L229.9 56.3L230.4 56.4L230.9 56.5L231.2 56.6L231.5 56.8L231.9 57.0L232.2 57.3L232.4 57.5L232.6 57.8L232.8 58.0L233.0 58.3L233.2 58.5L233.4 59.0L233.6 59.3L233.7 59.5L233.9 60.0L234.0 60.3L234.0 60.8L234.0 61.3L234.0 61.8L233.9 62.3L233.9 62.5L233.8 63.0L233.8 63.5L233.8 64.0L233.7 64.5L233.7 65.0L233.6 65.3L233.6 65.8L233.5 66.3L233.5 66.8L233.4 67.3L233.4 67.6L233.4 68.0L233.3 68.5L233.3 69.0L233.2 69.5L233.2 70.0L233.1 70.3L233.1 70.8L233.0 71.3L233.0 71.8L233.0 72.3L233.0 72.8L233.0 73.3L232.9 73.8L232.9 74.3L232.9 74.8L232.9 75.0L232.9 75.5L232.9 76.0L232.8 76.5L232.8 77.0L232.8 77.5L232.8 78.0L232.7 78.5L232.7 79.0L232.7 79.5L232.7 80.0L232.7 80.5L232.7 81.0L232.7 81.5L232.7 82.0L232.7 82.5L232.7 83.0L232.7 83.5L232.7 84.0L232.7 84.5L232.6 84.8L232.6 85.3L232.6 85.8L232.6 86.3L232.6 86.8L232.6 87.3L232.6 87.8L232.6 88.3L232.6 88.8L232.6 89.3L232.4 89.6L231.9 89.8L231.7 89.9L231.3 90.0L230.9 90.2L230.6 90.3L230.2 90.5L229.9 90.6Z" fill="#fff" stroke="#8a8a8a" stroke-width="0.5"/>
<path d="M229.9 52.9L229.4 52.9L228.9 52.9L228.7 52.8L228.2 52.5L227.9 52.3L227.7 52.0L227.6 51.8L227.4 51.3L227.3 51.0L227.2 50.5L227.1 50.3L227.0 49.8L226.9 49.3L226.8 49.0L226.7 48.5L226.7 48.1L226.6 47.8L226.5 47.3L226.4 46.8L226.4 46.5L226.4 46.3L226.5 45.8L226.6 45.3L226.6 44.8L226.7 44.5L226.7 44.0L226.8 43.5L226.9 43.0L226.9 42.8L227.0 42.3L227.1 41.8L227.1 41.3L227.2 41.0L227.3 40.5L227.3 40.0L227.4 39.7L227.5 39.3L227.7 39.0L227.9 38.5L228.0 38.3L228.2 38.0L228.4 37.8L228.8 37.5L229.2 37.4L229.4 37.2L229.7 37.4L230.0 37.5L230.4 37.8L230.7 38.0L230.8 38.3L230.9 38.5L231.1 39.0L231.3 39.3L231.4 39.7L231.5 40.0L231.5 40.5L231.6 41.0L231.7 41.3L231.7 41.8L231.8 42.3L231.9 42.8L231.9 43.0L232.0 43.5L232.1 44.0L232.1 44.5L232.2 44.8L232.2 45.3L232.3 45.8L232.4 46.3L232.4 46.5L232.4 46.8L232.3 47.3L232.2 47.8L232.2 48.1L232.1 48.5L232.0 49.0L231.9 49.3L231.8 49.8L231.7 50.3L231.6 50.5L231.5 51.0L231.4 51.3L231.2 51.8L231.1 52.0L230.9 52.3L230.6 52.5L230.2 52.8L229.9 52.9Z" fill="#fff" stroke="#8a8a8a" stroke-width="0.5"/>
<path d="M229.7 90.6L229.2 90.6L228.9 90.4L228.6 90.3L228.2 90.0L227.9 89.8L227.7 89.7L227.4 89.4L227.4 89.0L227.4 88.5L227.4 88.0L227.4 87.5L227.4 87.0L227.4 86.5L227.4 86.0L227.4 85.5L227.4 85.0L227.4 84.5L227.3 84.0L227.3 83.5L227.3 83.0L227.3 82.5L227.3 82.0L227.3 81.5L227.3 81.0L227.3 80.5L227.3 80.0L227.3 79.5L227.3 79.0L227.3 78.5L227.3 78.0L227.3 77.5L227.3 77.0L227.3 76.5L227.3 76.0L227.3 75.5L227.3 75.0L227.2 74.5L227.2 74.0L227.2 73.5L227.2 73.0L227.2 72.5L227.2 72.0L227.2 71.5L227.2 71.0L227.2 70.5L227.2 70.0L227.2 69.5L227.2 69.0L227.2 68.6L227.1 68.3L227.1 67.8L227.1 67.3L227.1 66.8L227.1 66.3L227.1 65.8L227.1 65.3L227.2 65.0L227.2 64.5L227.2 64.0L227.2 63.5L227.2 63.0L227.2 62.5L227.3 62.0L227.3 61.5L227.3 61.0L227.4 60.5L227.5 60.3L227.7 60.0L228.1 59.8L228.4 59.6L228.7 59.5L229.2 59.4L229.7 59.4L230.2 59.5L230.4 59.6L230.7 59.8L231.1 60.0L231.3 60.3L231.4 60.5L231.5 61.0L231.5 61.5L231.5 62.0L231.6 62.5L231.6 63.0L231.6 63.5L231.6 64.0L231.6 64.5L231.7 65.0L231.7 65.3L231.7 65.8L231.7 66.3L231.7 66.8L231.7 67.3L231.7 67.8L231.7 68.3L231.7 68.6L231.6 69.0L231.6 69.5L231.6 70.0L231.6 70.5L231.6 71.0L231.6 71.5L231.6 72.0L231.6 72.5L231.6 73.0L231.6 73.5L231.6 74.0L231.6 74.5L231.5 75.0L231.5 75.5L231.5 76.0L231.5 76.5L231.5 77.0L231.5 77.5L231.5 78.0L231.5 78.5L231.5 79.0L231.5 79.5L231.5 80.0L231.5 80.5L231.5 81.0L231.5 81.5L231.5 82.0L231.5 82.5L231.5 83.0L231.5 83.5L231.5 84.0L231.4 84.5L231.4 85.0L231.4 85.5L231.4 86.0L231.4 86.5L231.4 87.0L231.4 87.5L231.4 88.0L231.4 88.5L231.4 89.0L231.4 89.4L231.2 89.7L230.9 89.8L230.6 90.0L230.2 90.3L229.9 90.4L229.7 90.6Z" fill="#fff" stroke="#8a8a8a" stroke-width="0.5"/>
<path d="M229.4 48.3L229.2 48.3L228.9 48.0L228.7 47.8L228.4 47.3L228.3 47.0L228.2 46.8L228.1 46.3L228.1 45.8L228.2 45.5L228.2 45.0L228.2 44.5L228.2 44.0L228.3 43.5L228.3 43.0L228.3 42.5L228.4 42.0L228.4 41.6L228.4 41.3L228.5 40.8L228.5 40.3L228.5 39.8L228.6 39.3L228.7 39.0L228.7 38.5L228.8 38.0L229.0 37.8L229.2 37.5L229.4 37.3L229.6 37.5L229.8 37.8L230.0 38.0L230.1 38.5L230.2 39.0L230.2 39.3L230.3 39.8L230.3 40.3L230.3 40.8L230.4 41.3L230.4 41.6L230.4 42.0L230.5 42.5L230.5 43.0L230.5 43.5L230.6 44.0L230.6 44.5L230.6 45.0L230.7 45.5L230.7 45.8L230.7 46.3L230.7 46.8L230.5 47.0L230.4 47.3L230.2 47.8L229.9 48.0L229.7 48.3L229.4 48.3Z" fill="#fff" stroke="#999" stroke-width="0.5"/>
<path d="M229.4 90.6L229.2 90.4L228.9 90.1L228.7 89.8L228.6 89.5L228.5 89.0L228.5 88.5L228.5 88.0L228.5 87.5L228.5 87.0L228.5 86.5L228.5 86.0L228.5 85.5L228.5 85.0L228.5 84.5L228.5 84.0L228.5 83.5L228.5 83.0L228.5 82.5L228.5 82.0L228.5 81.5L228.5 81.0L228.5 80.5L228.5 80.0L228.5 79.5L228.5 79.0L228.5 78.5L228.6 78.0L228.6 77.5L228.6 77.0L228.6 76.5L228.6 76.0L228.6 75.5L228.6 75.0L228.7 74.8L228.7 74.3L228.7 73.8L228.7 73.3L228.8 72.8L228.8 72.3L228.8 71.8L228.9 71.3L228.9 70.8L229.0 70.5L229.1 70.0L229.3 69.8L229.5 69.8L229.7 70.0L229.8 70.5L229.9 70.8L229.9 71.3L230.0 71.8L230.0 72.3L230.0 72.8L230.1 73.3L230.1 73.8L230.1 74.3L230.1 74.8L230.2 75.0L230.2 75.5L230.2 76.0L230.2 76.5L230.2 77.0L230.2 77.5L230.2 78.0L230.3 78.5L230.3 79.0L230.3 79.5L230.3 80.0L230.3 80.5L230.3 81.0L230.3 81.5L230.3 82.0L230.3 82.5L230.3 83.0L230.3 83.5L230.3 84.0L230.3 84.5L230.3 85.0L230.3 85.5L230.3 86.0L230.3 86.5L230.3 87.0L230.3 87.5L230.3 88.0L230.3 88.5L230.3 89.0L230.2 89.5L230.1 89.8L229.9 90.1L229.7 90.4L229.4 90.6Z" fill="#fff" stroke="#999" stroke-width="0.5"/>
<ellipse cx="229.4" cy="90.30000000000001" rx="3.74" ry="0.9" fill="#111"/>
<rect x="185.4" y="28.1" width="62.400000000000006" height="29.1" fill="none" stroke="#999" stroke-width="0.9"/>
<text x="188.9" y="55.2" font-size="3.5" fill="#333">40.6</text>
<rect x="181.4" y="23.8" width="67.1" height="67.60000000000001" fill="none" stroke="#8a8a8a" stroke-width="0.9"/>
<line x1="179.6" y1="30.4" x2="181.4" y2="30.4" stroke="#777" stroke-width="0.6"/>
<text x="178.9" y="31.599999999999998" font-size="3.6" text-anchor="end" fill="#222">10<tspan font-size="2.4" dy="-1">5</tspan></text>
<line x1="179.6" y1="45.2" x2="181.4" y2="45.2" stroke="#777" stroke-width="0.6"/>
<text x="178.9" y="46.400000000000006" font-size="3.6" text-anchor="end" fill="#222">10<tspan font-size="2.4" dy="-1">4</tspan></text>
<line x1="179.6" y1="60.6" x2="181.4" y2="60.6" stroke="#777" stroke-width="0.6"/>
<text x="178.9" y="61.800000000000004" font-size="3.6" text-anchor="end" fill="#222">10<tspan font-size="2.4" dy="-1">3</tspan></text>
<line x1="179.6" y1="76.0" x2="181.4" y2="76.0" stroke="#777" stroke-width="0.6"/>
<text x="178.9" y="77.2" font-size="3.6" text-anchor="end" fill="#222">10<tspan font-size="2.4" dy="-1">2</tspan></text>
<line x1="179.6" y1="84.2" x2="181.4" y2="84.2" stroke="#777" stroke-width="0.6"/>
<text x="178.9" y="85.4" font-size="3.6" text-anchor="end" fill="#222">0</text>
<line x1="188.9" y1="91.4" x2="188.9" y2="93.2" stroke="#777" stroke-width="0.6"/>
<text x="188.9" y="97.0" font-size="3.6" text-anchor="middle" fill="#222">0</text>
<line x1="195.4" y1="91.4" x2="195.4" y2="93.2" stroke="#777" stroke-width="0.6"/>
<text x="195.4" y="97.0" font-size="3.6" text-anchor="middle" fill="#222">10<tspan font-size="2.4" dy="-1">2</tspan></text>
<line x1="212.3" y1="91.4" x2="212.3" y2="93.2" stroke="#777" stroke-width="0.6"/>
<text x="212.3" y="97.0" font-size="3.6" text-anchor="middle" fill="#222">10<tspan font-size="2.4" dy="-1">3</tspan></text>
<line x1="227.7" y1="91.4" x2="227.7" y2="93.2" stroke="#777" stroke-width="0.6"/>
<text x="227.7" y="97.0" font-size="3.6" text-anchor="middle" fill="#222">10<tspan font-size="2.4" dy="-1">4</tspan></text>
<line x1="242.7" y1="91.4" x2="242.7" y2="93.2" stroke="#777" stroke-width="0.6"/>
<text x="242.7" y="97.0" font-size="3.6" text-anchor="middle" fill="#222">10<tspan font-size="2.4" dy="-1">5</tspan></text>
<text x="213.95" y="101.0" font-size="3.3" text-anchor="middle" fill="#222">FITC-A CFSE</text>
<text x="209.4" y="19.1" font-size="8.6" text-anchor="start" fill="#111" class="b">E:C</text>
<path d="M292 54.5h1M294 78h1M298 59h1M298 67h1M300 76h1M300.5 85h1M301 78h1M301.5 82h1M303 78.5h1M303.5 58.5h1M303.5 88.5h1M304 54h1M304 59h1M304 69.5h1M305 64h1M307 47.5h1M307 67h1M307 88h1M307.5 70h1M307.5 82h1M307.5 84.5h1M308 57h1M308 59h1M308 78h1M308.5 47.5h1M309 40.5h1M309.5 61h1M309.5 83.5h1M310 54h1M310 60h1M310 67.5h1M310 73h1M310 90.5h1M310.5 38.5h1M310.5 40.5h1M310.5 43.5h1M310.5 47.5h1M311 81h1M311.5 37h1M311.5 39h1M311.5 43.5h1M311.5 71h1M312 41.5h1M312 54.5h1M312.5 52.5h1M312.5 73h1M313 39h1M313.5 32.5h1M313.5 59.5h1M313.5 76h1M313.5 83h1M314 61h1M314.5 70h1M314.5 73h1M315 41h1M315 56h1M315 62.5h1M315 65.5h1M315 68h1M315 70.5h1M315 71.5h1M315 72.5h1M315.5 81h1M316 37h1M316 44.5h1M316 48h1M316 52.5h1M316 84h1M316.5 53.5h1M316.5 64h1M316.5 74.5h1M317 34h1M317 49.5h1M317 59h1M317 64h1M317 81h1M317 83.5h1M317.5 63h1M318 57h1M318 74h1M318 75.5h1M318 76h1M318 87h1M318.5 52.5h1M318.5 68.5h1M319 45h1M319 62h1M319 73h1M319 74.5h1M319 86.5h1M319.5 32.5h1M319.5 76h1M319.5 81.5h1M320 39.5h1M320 45.5h1M320 48h1M320 70h1M320 70.5h1M320 73h1M320 76.5h1M320 78.5h1M320 85.5h1M320 87.5h1M320 88.5h1M320.5 63h1M320.5 64h1M320.5 76h1M320.5 82h1M320.5 89h1M321 42.5h1M321 43h1M321 50h1M321 51.5h1M321 68.5h1M321.5 64h1M321.5 72.5h1M321.5 73h1M321.5 74h1M322 43.5h1M322 58h1M322 66.5h1M322 68h1M322 86h1M322 87h1M322.5 46h1M322.5 49.5h1M322.5 50.5h1M322.5 57.5h1M322.5 64h1M322.5 69.5h1M322.5 73h1M322.5 75h1M322.5 76h1M322.5 77.5h1M323 48h1M323 71.5h1M323.5 31h1M323.5 42.5h1M323.5 61h1M323.5 67h1M323.5 71.5h1M323.5 72h1M323.5 76h1M323.5 78.5h1M323.5 82.5h1M323.5 85.5h1M324 49h1M324 50h1M324 53h1M324 53.5h1M324 70.5h1M324 74h1M324 78h1M324 82h1M324 83.5h1M324.5 36h1M324.5 65.5h1M324.5 67.5h1M324.5 68h1M324.5 75.5h1M324.5 77h1M324.5 85h1M324.5 89h1M325 41h1M325 64h1M325 71h1M325 75h1M325 76.5h1M325 77h1M325 80.5h1M325 87h1M325.5 34.5h1M325.5 37.5h1M325.5 54.5h1M325.5 63h1M325.5 65.5h1M325.5 72h1M325.5 80h1M326 28.5h1M326 44h1M326 50h1M326 52h1M326 56h1M326 62h1M326 65h1M326 66h1M326 67h1M326 71.5h1M326 80h1M326 87h1M326 88h1M326.5 38h1M326.5 39h1M326.5 65.5h1M326.5 66.5h1M326.5 70h1M326.5 80.5h1M326.5 84.5h1M326.5 87h1M327 37h1M327 38.5h1M327 39.5h1M327 42.5h1M327 53.5h1M327 54.5h1M327 61.5h1M327 73h1M327 75.5h1M327 77.5h1M327 78h1M327 84h1M327.5 34h1M327.5 41.5h1M327.5 45.5h1M327.5 47h1M327.5 52.5h1M327.5 60.5h1M327.5 64.5h1M327.5 65h1M327.5 70.5h1M327.5 72h1M327.5 74h1M327.5 76h1M327.5 85h1M327.5 88h1M328 38.5h1M328 44h1M328 44.5h1M328 46.5h1M328 54h1M328 58h1M328 58.5h1M328 62h1M328 63h1M328 63.5h1M328 64.5h1M328 65.5h1M328 68.5h1M328 71h1M328 78.5h1M328 79h1M328 80h1M328 81h1M328 82h1M328 83h1M328 83.5h1M328.5 34h1M328.5 37h1M328.5 38h1M328.5 38.5h1M328.5 41h1M328.5 44h1M328.5 44.5h1M328.5 53h1M328.5 60h1M328.5 64h1M328.5 65h1M328.5 66.5h1M328.5 79.5h1M328.5 81h1M328.5 84h1M328.5 85.5h1M329 36h1M329 40.5h1M329 41h1M329 45h1M329 51h1M329 57h1M329 69h1M329 70.5h1M329 71h1M329 72h1M329 72.5h1M329 73h1M329 83.5h1M329.5 32.5h1M329.5 34h1M329.5 37h1M329.5 41h1M329.5 41.5h1M329.5 44h1M329.5 45h1M329.5 47h1M329.5 53h1M329.5 55.5h1M329.5 61.5h1M329.5 62h1M329.5 62.5h1M329.5 63h1M329.5 68h1M329.5 72h1M329.5 72.5h1M329.5 73h1M329.5 73.5h1M329.5 75h1M329.5 80h1M329.5 80.5h1M329.5 89h1M330 32.5h1M330 35h1M330 37h1M330 38h1M330 38.5h1M330 39h1M330 39.5h1M330 40.5h1M330 41.5h1M330 42h1M330 43h1M330 44h1M330 44.5h1M330 45h1M330 49h1M330 61h1M330 62.5h1M330 63.5h1M330 64.5h1M330 71.5h1M330 72h1M330 73.5h1M330 77h1M330 78.5h1M330 79.5h1M330 82.5h1M330 85h1M330 87h1M330.5 35h1M330.5 36.5h1M330.5 38h1M330.5 40h1M330.5 40.5h1M330.5 43h1M330.5 45.5h1M330.5 46.5h1M330.5 47h1M330.5 48.5h1M330.5 55h1M330.5 58h1M330.5 62h1M330.5 62.5h1M330.5 63h1M330.5 64h1M330.5 69h1M330.5 69.5h1M330.5 70.5h1M330.5 71h1M330.5 71.5h1M330.5 77.5h1M330.5 78.5h1M330.5 80.5h1M330.5 81.5h1M330.5 82h1M330.5 83h1M330.5 83.5h1M330.5 84.5h1M330.5 87h1M330.5 88h1M330.5 89.5h1M331 35.5h1M331 36h1M331 36.5h1M331 39h1M331 39.5h1M331 40h1M331 40.5h1M331 43h1M331 44h1M331 48h1M331 49h1M331 58h1M331 59h1M331 59.5h1M331 60h1M331 61h1M331 63.5h1M331 64h1M331 66h1M331 66.5h1M331 67.5h1M331 70.5h1M331 71h1M331 73h1M331 74h1M331 74.5h1M331 76h1M331 76.5h1M331 78h1M331 79h1M331 79.5h1M331 81h1M331 82h1M331 83.5h1M331 84.5h1M331 87.5h1M331 89.5h1M331 90h1M331.5 33.5h1M331.5 34h1M331.5 34.5h1M331.5 35.5h1M331.5 45.5h1M331.5 46h1M331.5 46.5h1M331.5 48h1M331.5 48.5h1M331.5 50h1M331.5 51.5h1M331.5 53.5h1M331.5 55.5h1M331.5 57.5h1M331.5 58h1M331.5 59h1M331.5 59.5h1M331.5 60h1M331.5 63h1M331.5 66h1M331.5 68h1M331.5 70h1M331.5 73h1M331.5 74h1M331.5 75.5h1M331.5 76h1M331.5 76.5h1M331.5 78.5h1M331.5 80h1M331.5 80.5h1M331.5 82h1M331.5 82.5h1M331.5 83.5h1M331.5 85.5h1M331.5 86.5h1M331.5 87h1M331.5 87.5h1M331.5 88h1M331.5 89.5h1M332 34h1M332 47h1M332 48.5h1M332 49.5h1M332 53h1M332 53.5h1M332 55h1M332 89h1M332 89.5h1M332 90h1M332.5 48h1M332.5 48.5h1M332.5 49.5h1M332.5 52h1M332.5 54h1M332.5 90h1M333 50h1M333 53h1M333 90h1M333 90.5h1M333.5 26.5h1M333.5 32.5h1M334 32h1M334.5 32h1M335.5 26.5h1M335.5 31h1M336 51.5h1M336.5 32.5h1M336.5 50h1M336.5 52h1M336.5 52.5h1M336.5 90.5h1M337 48h1M337 49h1M337 50h1M337 51h1M337 52h1M337 52.5h1M337 53.5h1M337 90h1M337.5 32.5h1M337.5 35.5h1M337.5 46h1M337.5 46.5h1M337.5 47.5h1M337.5 48h1M337.5 50h1M337.5 51h1M337.5 52h1M337.5 53h1M337.5 55h1M337.5 88.5h1M337.5 89.5h1M338 33.5h1M338 35h1M338 35.5h1M338 36h1M338 42.5h1M338 43.5h1M338 44.5h1M338 45h1M338 46h1M338 46.5h1M338 49.5h1M338 51h1M338 52h1M338 53h1M338 56h1M338 56.5h1M338 57.5h1M338 58.5h1M338 59.5h1M338 60h1M338 61h1M338 62.5h1M338 64.5h1M338 66.5h1M338 67.5h1M338 68.5h1M338 71h1M338 72.5h1M338 74h1M338 74.5h1M338 75h1M338 77h1M338 77.5h1M338 80.5h1M338 82h1M338 82.5h1M338 83h1M338 84h1M338 84.5h1M338 86.5h1M338 87h1M338 90h1M338.5 34.5h1M338.5 39h1M338.5 41.5h1M338.5 42h1M338.5 44h1M338.5 46h1M338.5 46.5h1M338.5 47h1M338.5 49h1M338.5 50.5h1M338.5 52h1M338.5 55h1M338.5 58h1M338.5 60h1M338.5 61h1M338.5 62.5h1M338.5 63h1M338.5 65h1M338.5 67.5h1M338.5 68.5h1M338.5 69.5h1M338.5 70h1M338.5 74h1M338.5 75h1M338.5 75.5h1M338.5 76h1M338.5 77h1M338.5 77.5h1M338.5 78h1M338.5 79.5h1M338.5 80h1M338.5 83.5h1M338.5 85h1M338.5 86.5h1M338.5 87h1M338.5 88h1M338.5 89h1M338.5 89.5h1M338.5 90h1M339 33.5h1M339 35h1M339 35.5h1M339 36h1M339 37.5h1M339 38h1M339 40.5h1M339 42h1M339 42.5h1M339 44.5h1M339 45.5h1M339 46h1M339 48h1M339 53.5h1M339 55.5h1M339 56h1M339 57h1M339 58h1M339 58.5h1M339 60h1M339 62.5h1M339 63h1M339 65h1M339 66h1M339 69h1M339 70h1M339 72h1M339 73h1M339 75h1M339 75.5h1M339 77.5h1M339 79.5h1M339 81.5h1M339 83.5h1M339 84h1M339 84.5h1M339 85h1M339 86h1M339 88h1M339 90h1M339.5 37h1M339.5 38h1M339.5 38.5h1M339.5 39.5h1M339.5 41h1M339.5 41.5h1M339.5 44.5h1M339.5 47.5h1M339.5 48h1M339.5 50h1M339.5 53h1M339.5 60h1M339.5 63h1M339.5 65h1M339.5 65.5h1M339.5 67h1M339.5 67.5h1M339.5 69.5h1M339.5 70.5h1M339.5 71.5h1M339.5 73.5h1M339.5 74.5h1M339.5 78.5h1M339.5 79.5h1M339.5 80h1M339.5 82h1M339.5 86h1M339.5 87h1M339.5 88.5h1M340 35h1M340 36h1M340 36.5h1M340 37.5h1M340 38h1M340 39h1M340 40.5h1M340 41h1M340 41.5h1M340 42h1M340 46.5h1M340 47h1M340 47.5h1M340 52.5h1M340 59h1M340 59.5h1M340 60h1M340 64h1M340 66h1M340 67.5h1M340 68h1M340 73h1M340 73.5h1M340 77h1M340 78h1M340 78.5h1M340 79.5h1M340 80.5h1M340 81.5h1M340 82h1M340 82.5h1M340 84.5h1M340 90h1M340.5 33h1M340.5 34h1M340.5 38.5h1M340.5 39h1M340.5 42.5h1M340.5 45h1M340.5 51h1M340.5 51.5h1M340.5 55h1M340.5 57.5h1M340.5 60h1M340.5 61.5h1M340.5 62.5h1M340.5 64h1M340.5 66h1M340.5 68h1M340.5 69.5h1M340.5 74h1M340.5 78h1M340.5 79.5h1M340.5 86h1M340.5 87h1M341 40h1M341 41h1M341 43.5h1M341 46h1M341 48.5h1M341 50h1M341 50.5h1M341 56h1M341 63h1M341 64h1M341 64.5h1M341 65h1M341 67h1M341 67.5h1M341 71h1M341 73.5h1M341 75h1M341 81.5h1M341 82h1M341.5 35.5h1M341.5 48h1M341.5 48.5h1M341.5 54.5h1M341.5 64h1M341.5 65h1M341.5 66.5h1M341.5 67.5h1M341.5 70.5h1M341.5 73.5h1M341.5 84.5h1M341.5 86.5h1M341.5 87h1M342 47h1M342 52.5h1M342 56.5h1M342 59.5h1M342 71.5h1M342 82h1M342.5 42.5h1M342.5 46h1M342.5 58.5h1M342.5 64h1M342.5 66h1M342.5 70h1M342.5 74h1M343 40h1M343 46h1M343 46.5h1M343 61.5h1M343 63h1M343 64.5h1M343 81.5h1M343.5 37h1M343.5 43.5h1M343.5 45h1M343.5 50.5h1M343.5 51.5h1M343.5 55.5h1M343.5 64.5h1M343.5 68h1M343.5 74.5h1M343.5 80.5h1M343.5 81h1M344 35h1M344 37.5h1M344 55h1M344 56h1M344 60.5h1M344.5 34.5h1M344.5 63.5h1M344.5 73.5h1M344.5 75.5h1M344.5 77.5h1M344.5 78h1M344.5 90h1M345 39.5h1M345 44h1M345 68h1M345 74.5h1M345 84.5h1M345 90h1M345.5 35.5h1M345.5 41h1M345.5 60h1M345.5 67h1M346 43.5h1M346 47.5h1M346 67h1M346.5 64h1M346.5 75.5h1M346.5 81.5h1M346.5 82.5h1M346.5 84.5h1M347 61.5h1M347 63.5h1M347 68.5h1M347 78h1M347 80.5h1M347.5 79.5h1M347.5 81.5h1M348 59.5h1M348 60.5h1M348 71.5h1M348 75h1M348 76h1M348 83.5h1M348.5 63h1M348.5 71.5h1M348.5 76.5h1M348.5 78.5h1M349 77.5h1M349 90h1M350 54.5h1M350 78.5h1M350.5 39.5h1M350.5 90h1M351 47h1M351 66.5h1M351.5 39.5h1M352.5 41.5h1M352.5 42h1M352.5 74h1M352.5 77h1" stroke="#000" stroke-width="0.9" stroke-opacity="0.8" fill="none" filter="url(#soft)"/>
<path d="M335.2 90.6L334.7 90.8L334.2 90.6L333.9 90.5L333.6 90.3L333.2 90.1L332.9 90.0L332.5 89.8L332.2 89.6L331.9 89.4L331.9 89.0L331.9 88.5L331.8 88.0L331.8 87.5L331.8 87.0L331.8 86.5L331.8 86.0L331.8 85.5L331.8 85.0L331.7 84.5L331.7 84.0L331.7 83.5L331.7 83.0L331.7 82.7L331.7 82.3L331.7 81.8L331.7 81.3L331.7 80.8L331.6 80.3L331.6 79.8L331.6 79.3L331.6 78.8L331.6 78.3L331.6 77.8L331.6 77.3L331.6 76.8L331.6 76.3L331.5 75.8L331.5 75.3L331.5 74.8L331.5 74.3L331.5 73.8L331.5 73.3L331.5 72.8L331.5 72.3L331.5 71.8L331.5 71.3L331.4 71.0L331.4 70.5L331.4 70.0L331.4 69.5L331.4 69.0L331.4 68.5L331.4 68.0L331.4 67.5L331.4 67.0L331.5 66.8L331.5 66.3L331.5 65.8L331.5 65.3L331.5 64.8L331.5 64.3L331.5 63.8L331.5 63.3L331.5 62.8L331.5 62.3L331.6 61.8L331.6 61.3L331.6 60.8L331.6 60.3L331.6 59.8L331.6 59.3L331.6 58.8L331.6 58.3L331.7 57.8L331.7 57.3L331.7 56.8L331.7 56.3L331.7 56.0L331.9 55.5L332.0 55.3L332.2 54.8L332.3 54.5L332.4 54.1L332.6 53.8L332.7 53.5L332.9 53.0L333.0 52.8L333.2 52.3L333.3 52.0L333.3 51.5L333.2 51.1L333.1 50.8L333.0 50.3L332.9 50.0L332.8 49.5L332.7 49.3L332.5 48.8L332.4 48.5L332.3 48.0L332.2 47.6L332.1 47.3L331.9 46.8L331.9 46.5L331.7 46.0L331.7 45.8L331.6 45.3L331.5 44.8L331.5 44.3L331.4 44.0L331.4 43.5L331.3 43.0L331.2 42.5L331.2 42.3L331.1 41.8L331.1 41.3L331.1 40.8L331.2 40.3L331.2 39.8L331.2 39.5L331.2 39.0L331.3 38.5L331.3 38.0L331.3 37.5L331.3 37.0L331.4 36.5L331.4 36.1L331.6 35.8L331.7 35.4L331.8 35.0L331.9 34.6L332.0 34.3L332.2 33.8L332.3 33.5L332.6 33.3L332.9 33.1L333.2 32.9L333.4 32.8L333.8 32.5L334.2 32.3L334.4 32.1L334.7 31.8L334.9 32.1L335.2 32.3L335.6 32.5L335.9 32.8L336.2 32.9L336.4 33.1L336.8 33.3L337.1 33.5L337.2 33.8L337.4 34.3L337.4 34.6L337.6 35.0L337.7 35.4L337.8 35.8L337.9 36.1L338.0 36.5L338.1 37.0L338.1 37.5L338.1 38.0L338.1 38.5L338.2 39.0L338.2 39.5L338.2 39.8L338.2 40.3L338.3 40.8L338.3 41.3L338.3 41.8L338.2 42.3L338.2 42.5L338.1 43.0L338.0 43.5L338.0 44.0L337.9 44.3L337.9 44.8L337.8 45.3L337.7 45.8L337.7 46.0L337.5 46.5L337.4 46.8L337.3 47.3L337.2 47.6L337.1 48.0L336.9 48.5L336.9 48.8L336.7 49.3L336.6 49.5L336.5 50.0L336.4 50.3L336.3 50.8L336.2 51.1L336.1 51.5L336.1 52.0L336.2 52.3L336.4 52.8L336.5 53.0L336.7 53.5L336.8 53.8L336.9 54.1L337.1 54.5L337.2 54.8L337.4 55.3L337.5 55.5L337.7 56.0L337.7 56.3L337.7 56.8L337.7 57.3L337.7 57.8L337.8 58.3L337.8 58.8L337.8 59.3L337.8 59.8L337.8 60.3L337.8 60.8L337.8 61.3L337.8 61.8L337.9 62.3L337.9 62.8L337.9 63.3L337.9 63.8L337.9 64.3L337.9 64.8L337.9 65.3L337.9 65.8L337.9 66.3L337.9 66.8L338.0 67.0L338.0 67.5L338.0 68.0L338.0 68.5L338.0 69.0L338.0 69.5L338.0 70.0L338.0 70.5L338.0 71.0L337.9 71.3L337.9 71.8L337.9 72.3L337.9 72.8L337.9 73.3L337.9 73.8L337.9 74.3L337.9 74.8L337.9 75.3L337.9 75.8L337.8 76.3L337.8 76.8L337.8 77.3L337.8 77.8L337.8 78.3L337.8 78.8L337.8 79.3L337.8 79.8L337.8 80.3L337.7 80.8L337.7 81.3L337.7 81.8L337.7 82.3L337.7 82.7L337.7 83.0L337.7 83.5L337.7 84.0L337.7 84.5L337.6 85.0L337.6 85.5L337.6 86.0L337.6 86.5L337.6 87.0L337.6 87.5L337.6 88.0L337.5 88.5L337.5 89.0L337.4 89.4L337.2 89.6L336.9 89.8L336.4 90.0L336.2 90.1L335.8 90.3L335.4 90.5L335.2 90.6Z" fill="#fff" stroke="#000" stroke-width="1.0"/>
<path d="M334.7 50.3L334.4 50.2L334.2 49.8L334.1 49.5L333.9 49.3L333.8 48.8L333.7 48.5L333.5 48.0L333.3 47.8L333.2 47.5L333.0 47.0L332.9 46.8L332.8 46.3L332.7 46.0L332.6 45.5L332.5 45.0L332.5 44.5L332.4 44.3L332.4 43.8L332.3 43.3L332.2 42.8L332.2 42.5L332.1 42.0L332.1 41.5L332.1 41.0L332.1 40.5L332.1 40.0L332.2 39.5L332.2 39.0L332.2 38.5L332.2 38.3L332.2 37.8L332.2 37.3L332.3 36.8L332.3 36.3L332.4 35.8L332.5 35.5L332.6 35.0L332.7 34.6L332.8 34.3L332.9 33.8L332.9 33.5L333.2 33.3L333.5 33.0L333.8 32.8L334.0 32.5L334.3 32.3L334.5 32.0L334.9 32.0L335.1 32.3L335.4 32.5L335.6 32.8L335.9 33.0L336.2 33.3L336.4 33.5L336.5 33.8L336.6 34.3L336.7 34.6L336.8 35.0L336.9 35.5L337.0 35.8L337.1 36.3L337.1 36.8L337.2 37.3L337.2 37.8L337.2 38.3L337.2 38.5L337.2 39.0L337.2 39.5L337.3 40.0L337.3 40.5L337.3 41.0L337.3 41.5L337.3 42.0L337.2 42.5L337.2 42.8L337.1 43.3L337.0 43.8L337.0 44.3L336.9 44.5L336.9 45.0L336.8 45.5L336.7 46.0L336.6 46.3L336.5 46.8L336.4 47.0L336.2 47.5L336.1 47.8L335.9 48.0L335.7 48.5L335.6 48.8L335.4 49.3L335.3 49.5L335.2 49.8L334.9 50.2L334.7 50.3Z" fill="#fff" stroke="#8a8a8a" stroke-width="0.5"/>
<path d="M334.9 90.7L334.4 90.7L334.2 90.5L333.9 90.3L333.5 90.0L333.2 89.8L332.9 89.7L332.7 89.4L332.6 89.0L332.6 88.5L332.6 88.0L332.6 87.5L332.6 87.0L332.6 86.5L332.6 86.0L332.6 85.5L332.6 85.0L332.5 84.5L332.5 84.0L332.5 83.5L332.5 83.0L332.5 82.5L332.5 82.0L332.5 81.5L332.5 81.0L332.5 80.5L332.5 80.0L332.5 79.5L332.5 79.0L332.4 78.8L332.4 78.3L332.4 77.8L332.4 77.3L332.4 76.8L332.4 76.3L332.4 75.8L332.4 75.3L332.4 74.8L332.4 74.3L332.4 73.8L332.4 73.3L332.3 72.8L332.3 72.3L332.3 71.8L332.3 71.3L332.3 70.8L332.3 70.3L332.3 69.8L332.3 69.3L332.3 68.8L332.3 68.3L332.3 67.8L332.3 67.3L332.3 66.8L332.4 66.3L332.4 65.8L332.4 65.3L332.4 64.8L332.4 64.3L332.4 63.8L332.4 63.3L332.5 63.0L332.5 62.5L332.5 62.0L332.5 61.5L332.5 61.0L332.5 60.5L332.5 60.0L332.6 59.5L332.6 59.0L332.6 58.5L332.6 58.0L332.6 57.5L332.6 57.0L332.6 56.5L332.7 56.0L332.8 55.8L332.9 55.4L333.1 55.0L333.3 54.8L333.4 54.5L333.7 54.2L333.9 53.9L334.2 53.6L334.4 53.3L334.7 53.2L334.9 53.3L335.2 53.6L335.4 53.9L335.7 54.2L335.9 54.5L336.1 54.8L336.3 55.0L336.4 55.4L336.6 55.8L336.7 56.0L336.8 56.5L336.8 57.0L336.8 57.5L336.8 58.0L336.8 58.5L336.8 59.0L336.8 59.5L336.9 60.0L336.9 60.5L336.9 61.0L336.9 61.5L336.9 62.0L336.9 62.5L336.9 63.0L337.0 63.3L337.0 63.8L337.0 64.3L337.0 64.8L337.0 65.3L337.0 65.8L337.0 66.3L337.1 66.8L337.1 67.3L337.1 67.8L337.1 68.3L337.1 68.8L337.1 69.3L337.1 69.8L337.1 70.3L337.1 70.8L337.1 71.3L337.1 71.8L337.1 72.3L337.1 72.8L337.0 73.3L337.0 73.8L337.0 74.3L337.0 74.8L337.0 75.3L337.0 75.8L337.0 76.3L337.0 76.8L337.0 77.3L337.0 77.8L337.0 78.3L337.0 78.8L336.9 79.0L336.9 79.5L336.9 80.0L336.9 80.5L336.9 81.0L336.9 81.5L336.9 82.0L336.9 82.5L336.9 83.0L336.9 83.5L336.9 84.0L336.9 84.5L336.8 85.0L336.8 85.5L336.8 86.0L336.8 86.5L336.8 87.0L336.8 87.5L336.8 88.0L336.8 88.5L336.8 89.0L336.7 89.4L336.4 89.7L336.2 89.8L335.9 90.0L335.5 90.3L335.2 90.5L334.9 90.7Z" fill="#fff" stroke="#8a8a8a" stroke-width="0.5"/>
<path d="M334.9 46.7L334.4 46.7L334.2 46.5L333.9 46.2L333.8 45.8L333.7 45.4L333.6 45.0L333.5 44.5L333.4 44.1L333.4 43.8L333.3 43.3L333.2 42.8L333.2 42.5L333.1 42.0L333.1 41.5L333.1 41.0L333.1 40.5L333.1 40.0L333.1 39.5L333.1 39.0L333.1 38.5L333.1 38.0L333.1 37.5L333.2 37.0L333.2 36.5L333.2 36.2L333.3 35.8L333.3 35.3L333.4 34.8L333.4 34.5L333.5 34.0L333.6 33.5L333.7 33.3L333.9 33.0L334.2 32.7L334.4 32.4L334.6 32.0L334.8 32.0L334.9 32.4L335.2 32.7L335.4 33.0L335.7 33.3L335.8 33.5L335.9 34.0L335.9 34.5L336.0 34.8L336.1 35.3L336.1 35.8L336.2 36.2L336.2 36.5L336.2 37.0L336.3 37.5L336.3 38.0L336.3 38.5L336.3 39.0L336.3 39.5L336.3 40.0L336.3 40.5L336.3 41.0L336.3 41.5L336.3 42.0L336.2 42.5L336.2 42.8L336.1 43.3L336.0 43.8L335.9 44.1L335.9 44.5L335.8 45.0L335.7 45.4L335.6 45.8L335.4 46.2L335.2 46.5L334.9 46.7Z" fill="#fff" stroke="#8a8a8a" stroke-width="0.5"/>
<path d="M334.7 90.6L334.4 90.5L334.2 90.3L333.9 90.0L333.7 89.8L333.4 89.5L333.4 89.0L333.4 88.5L333.4 88.0L333.4 87.5L333.4 87.0L333.4 86.5L333.4 86.0L333.4 85.5L333.4 85.0L333.3 84.5L333.3 84.0L333.3 83.5L333.3 83.0L333.3 82.5L333.3 82.0L333.3 81.5L333.3 81.0L333.3 80.5L333.3 80.0L333.3 79.5L333.3 79.0L333.3 78.5L333.3 78.0L333.3 77.5L333.3 77.0L333.3 76.5L333.3 76.0L333.2 75.5L333.2 75.0L333.2 74.5L333.2 74.0L333.2 73.5L333.2 73.0L333.2 72.5L333.2 72.0L333.2 71.5L333.2 71.0L333.2 70.8L333.2 70.3L333.2 69.8L333.2 69.3L333.2 68.8L333.2 68.5L333.2 68.0L333.2 67.5L333.3 67.0L333.3 66.5L333.3 66.0L333.3 65.5L333.3 65.0L333.4 64.5L333.4 64.0L333.4 63.5L333.4 63.0L333.4 62.5L333.5 62.3L333.5 61.8L333.5 61.3L333.5 60.8L333.6 60.3L333.6 59.8L333.6 59.3L333.6 58.8L333.7 58.3L333.7 57.8L333.7 57.5L333.8 57.0L333.8 56.5L333.8 56.0L334.0 55.8L334.3 55.5L334.7 55.4L335.1 55.5L335.4 55.8L335.6 56.0L335.6 56.5L335.6 57.0L335.7 57.5L335.7 57.8L335.7 58.3L335.8 58.8L335.8 59.3L335.8 59.8L335.8 60.3L335.9 60.8L335.9 61.3L335.9 61.8L335.9 62.3L336.0 62.5L336.0 63.0L336.0 63.5L336.0 64.0L336.0 64.5L336.1 65.0L336.1 65.5L336.1 66.0L336.1 66.5L336.1 67.0L336.2 67.5L336.2 68.0L336.2 68.5L336.2 68.8L336.2 69.3L336.2 69.8L336.2 70.3L336.2 70.8L336.2 71.0L336.2 71.5L336.2 72.0L336.2 72.5L336.2 73.0L336.2 73.5L336.2 74.0L336.2 74.5L336.2 75.0L336.2 75.5L336.1 76.0L336.1 76.5L336.1 77.0L336.1 77.5L336.1 78.0L336.1 78.5L336.1 79.0L336.1 79.5L336.1 80.0L336.1 80.5L336.1 81.0L336.1 81.5L336.1 82.0L336.1 82.5L336.1 83.0L336.1 83.5L336.1 84.0L336.1 84.5L336.0 85.0L336.0 85.5L336.0 86.0L336.0 86.5L336.0 87.0L336.0 87.5L336.0 88.0L336.0 88.5L336.0 89.0L335.9 89.5L335.7 89.8L335.4 90.0L335.2 90.3L334.9 90.5L334.7 90.6Z" fill="#fff" stroke="#8a8a8a" stroke-width="0.5"/>
<path d="M334.7 42.9L334.4 42.8L334.2 42.3L334.1 42.0L334.0 41.5L334.0 41.0L334.0 40.5L334.0 40.0L334.0 39.5L334.0 39.0L334.0 38.5L334.0 38.0L334.0 37.5L334.0 37.0L334.0 36.5L334.1 36.0L334.1 35.5L334.1 35.0L334.2 34.5L334.2 34.0L334.2 33.8L334.3 33.3L334.4 32.8L334.6 32.5L334.7 32.0L334.7 32.0L334.8 32.5L335.0 32.8L335.1 33.3L335.2 33.8L335.2 34.0L335.2 34.5L335.3 35.0L335.3 35.5L335.3 36.0L335.4 36.5L335.4 37.0L335.4 37.5L335.4 38.0L335.4 38.5L335.4 39.0L335.4 39.5L335.4 40.0L335.4 40.5L335.4 41.0L335.4 41.5L335.3 42.0L335.2 42.3L334.9 42.8L334.7 42.9Z" fill="#fff" stroke="#999" stroke-width="0.5"/>
<path d="M334.7 90.6L334.5 90.3L334.4 90.0L334.2 89.6L334.1 89.3L334.1 88.8L334.1 88.3L334.1 87.8L334.1 87.3L334.1 86.8L334.1 86.3L334.1 85.8L334.1 85.3L334.1 84.8L334.1 84.3L334.1 83.8L334.1 83.3L334.1 82.8L334.1 82.3L334.1 81.8L334.1 81.3L334.1 80.8L334.1 80.3L334.1 79.8L334.1 79.3L334.1 78.8L334.1 78.3L334.1 77.8L334.1 77.3L334.1 76.8L334.1 76.3L334.1 75.8L334.1 75.3L334.1 74.8L334.1 74.3L334.1 73.8L334.1 73.3L334.1 72.8L334.1 72.3L334.1 71.8L334.1 71.3L334.1 70.8L334.1 70.3L334.1 69.8L334.1 69.3L334.1 68.8L334.1 68.3L334.1 67.8L334.2 67.3L334.2 67.0L334.3 66.5L334.4 66.0L334.4 65.5L334.5 65.3L334.7 64.8L334.9 65.3L335.0 65.5L335.0 66.0L335.1 66.5L335.2 67.0L335.2 67.3L335.3 67.8L335.3 68.3L335.3 68.8L335.3 69.3L335.3 69.8L335.3 70.3L335.3 70.8L335.3 71.3L335.3 71.8L335.3 72.3L335.3 72.8L335.3 73.3L335.3 73.8L335.3 74.3L335.3 74.8L335.3 75.3L335.3 75.8L335.3 76.3L335.3 76.8L335.3 77.3L335.3 77.8L335.3 78.3L335.3 78.8L335.3 79.3L335.3 79.8L335.3 80.3L335.3 80.8L335.3 81.3L335.3 81.8L335.3 82.3L335.3 82.8L335.3 83.3L335.3 83.8L335.3 84.3L335.3 84.8L335.3 85.3L335.3 85.8L335.3 86.3L335.3 86.8L335.3 87.3L335.3 87.8L335.3 88.3L335.3 88.8L335.3 89.3L335.2 89.6L335.0 90.0L334.9 90.3L334.7 90.6Z" fill="#fff" stroke="#999" stroke-width="0.5"/>
<ellipse cx="334.7" cy="90.30000000000001" rx="2.39" ry="0.9" fill="#111"/>
<rect x="291.6" y="28.0" width="59.89999999999998" height="25.200000000000003" fill="none" stroke="#999" stroke-width="0.9"/>
<text x="295.5" y="50.7" font-size="3.5" fill="#333">29.6</text>
<rect x="286.7" y="23.8" width="67.69999999999999" height="67.60000000000001" fill="none" stroke="#8a8a8a" stroke-width="0.9"/>
<line x1="284.9" y1="30.4" x2="286.7" y2="30.4" stroke="#777" stroke-width="0.6"/>
<text x="284.2" y="31.599999999999998" font-size="3.6" text-anchor="end" fill="#222">10<tspan font-size="2.4" dy="-1">5</tspan></text>
<line x1="284.9" y1="45.5" x2="286.7" y2="45.5" stroke="#777" stroke-width="0.6"/>
<text x="284.2" y="46.7" font-size="3.6" text-anchor="end" fill="#222">10<tspan font-size="2.4" dy="-1">4</tspan></text>
<line x1="284.9" y1="60.7" x2="286.7" y2="60.7" stroke="#777" stroke-width="0.6"/>
<text x="284.2" y="61.900000000000006" font-size="3.6" text-anchor="end" fill="#222">10<tspan font-size="2.4" dy="-1">3</tspan></text>
<line x1="284.9" y1="76.0" x2="286.7" y2="76.0" stroke="#777" stroke-width="0.6"/>
<text x="284.2" y="77.2" font-size="3.6" text-anchor="end" fill="#222">10<tspan font-size="2.4" dy="-1">2</tspan></text>
<line x1="284.9" y1="84.5" x2="286.7" y2="84.5" stroke="#777" stroke-width="0.6"/>
<text x="284.2" y="85.7" font-size="3.6" text-anchor="end" fill="#222">0</text>
<line x1="294.2" y1="91.4" x2="294.2" y2="93.2" stroke="#777" stroke-width="0.6"/>
<text x="294.2" y="97.0" font-size="3.6" text-anchor="middle" fill="#222">0</text>
<line x1="300.7" y1="91.4" x2="300.7" y2="93.2" stroke="#777" stroke-width="0.6"/>
<text x="300.7" y="97.0" font-size="3.6" text-anchor="middle" fill="#222">10<tspan font-size="2.4" dy="-1">2</tspan></text>
<line x1="317.59999999999997" y1="91.4" x2="317.59999999999997" y2="93.2" stroke="#777" stroke-width="0.6"/>
<text x="317.59999999999997" y="97.0" font-size="3.6" text-anchor="middle" fill="#222">10<tspan font-size="2.4" dy="-1">3</tspan></text>
<line x1="333.0" y1="91.4" x2="333.0" y2="93.2" stroke="#777" stroke-width="0.6"/>
<text x="333.0" y="97.0" font-size="3.6" text-anchor="middle" fill="#222">10<tspan font-size="2.4" dy="-1">4</tspan></text>
<line x1="348.0" y1="91.4" x2="348.0" y2="93.2" stroke="#777" stroke-width="0.6"/>
<text x="348.0" y="97.0" font-size="3.6" text-anchor="middle" fill="#222">10<tspan font-size="2.4" dy="-1">5</tspan></text>
<text x="319.54999999999995" y="101.0" font-size="3.3" text-anchor="middle" fill="#222">FITC-A CFSE</text>
<text x="311.4" y="19.1" font-size="8.6" text-anchor="start" fill="#111" class="b">Mock</text>
<path d="M376.5 50.5h1M377.5 64.5h1M378 81h1M380 87.5h1M381 83h1M381.5 72.5h1M382 70.5h1M382 79h1M382.5 71.5h1M382.5 80.5h1M383 80.5h1M383 86.5h1M383.5 55h1M383.5 82h1M384.5 85h1M385 58.5h1M385 66h1M385 77h1M385 88.5h1M385.5 62.5h1M385.5 63.5h1M385.5 77h1M386 62h1M386 64.5h1M386 79h1M386.5 26h1M386.5 33h1M386.5 58.5h1M386.5 59.5h1M386.5 80h1M386.5 81.5h1M387 43h1M387 46h1M387 50h1M387 61.5h1M387 63.5h1M387 65.5h1M387 68.5h1M387 75.5h1M387 78h1M387 83h1M387 85h1M387 89.5h1M387.5 38h1M387.5 65h1M387.5 66h1M387.5 73h1M387.5 74.5h1M387.5 77.5h1M387.5 83h1M388 36h1M388 51h1M388 55h1M388 64h1M388 65.5h1M388 69.5h1M388 75h1M388 84.5h1M388.5 42.5h1M388.5 45.5h1M388.5 53h1M388.5 57h1M388.5 61h1M388.5 65.5h1M388.5 68.5h1M388.5 81.5h1M388.5 84h1M388.5 85h1M389 51.5h1M389 61.5h1M389 68.5h1M389 71.5h1M389 75.5h1M389 87.5h1M389 89.5h1M389.5 36.5h1M389.5 43h1M389.5 46h1M389.5 65h1M389.5 70h1M389.5 77h1M389.5 84h1M389.5 86.5h1M390 54.5h1M390 62.5h1M390 66h1M390 71h1M390 73h1M390 75h1M390 87.5h1M390.5 55.5h1M390.5 62h1M390.5 65h1M390.5 69h1M390.5 69.5h1M390.5 70h1M390.5 72h1M391 44.5h1M391 50.5h1M391 52h1M391 68.5h1M391 70h1M391 73h1M391 73.5h1M391 82h1M391 85h1M391 88h1M391.5 38h1M391.5 43h1M391.5 44.5h1M391.5 47h1M391.5 58.5h1M391.5 60h1M391.5 61.5h1M391.5 62h1M391.5 62.5h1M391.5 63.5h1M391.5 65h1M391.5 66h1M391.5 66.5h1M391.5 67.5h1M391.5 68.5h1M391.5 71.5h1M391.5 73h1M391.5 74h1M391.5 86h1M392 36.5h1M392 47h1M392 60h1M392 60.5h1M392 63.5h1M392 66h1M392 69.5h1M392 70h1M392 73h1M392 78.5h1M392 80.5h1M392 81h1M392.5 27.5h1M392.5 36.5h1M392.5 43h1M392.5 45h1M392.5 60h1M392.5 67h1M392.5 67.5h1M392.5 71.5h1M392.5 72h1M392.5 75.5h1M392.5 80.5h1M392.5 81.5h1M392.5 83h1M392.5 84.5h1M392.5 86.5h1M392.5 90h1M393 34.5h1M393 36h1M393 36.5h1M393 46h1M393 53.5h1M393 54.5h1M393 60.5h1M393 61.5h1M393 62h1M393 65h1M393 65.5h1M393 67.5h1M393 68h1M393 68.5h1M393 69h1M393 69.5h1M393 75h1M393 78h1M393 81h1M393 82h1M393 86h1M393 87h1M393 87.5h1M393.5 38.5h1M393.5 46.5h1M393.5 51.5h1M393.5 53h1M393.5 57.5h1M393.5 58h1M393.5 62h1M393.5 65.5h1M393.5 68h1M393.5 70.5h1M393.5 72h1M393.5 73.5h1M393.5 76h1M393.5 79.5h1M393.5 80.5h1M393.5 82.5h1M393.5 87h1M393.5 89h1M394 37.5h1M394 42.5h1M394 45h1M394 46h1M394 50.5h1M394 54h1M394 55h1M394 56.5h1M394 57h1M394 58.5h1M394 60h1M394 60.5h1M394 63h1M394 70h1M394 72h1M394 72.5h1M394 74.5h1M394 75.5h1M394 78h1M394 80h1M394 83.5h1M394 84.5h1M394.5 32.5h1M394.5 33.5h1M394.5 35.5h1M394.5 47h1M394.5 56.5h1M394.5 61h1M394.5 62h1M394.5 62.5h1M394.5 63h1M394.5 70h1M394.5 72h1M394.5 77.5h1M394.5 79h1M394.5 80h1M394.5 82.5h1M394.5 84h1M394.5 84.5h1M394.5 86h1M395 28.5h1M395 37h1M395 39.5h1M395 43h1M395 44.5h1M395 49h1M395 50h1M395 53h1M395 58h1M395 59h1M395 60h1M395 61.5h1M395 62h1M395 63h1M395 70.5h1M395 72h1M395 72.5h1M395 76.5h1M395 79h1M395 82.5h1M395 83.5h1M395 84.5h1M395.5 30h1M395.5 42h1M395.5 43h1M395.5 46.5h1M395.5 53.5h1M395.5 54h1M395.5 57h1M395.5 61h1M395.5 62h1M395.5 71h1M395.5 72.5h1M395.5 73.5h1M395.5 74h1M395.5 76h1M395.5 81.5h1M395.5 82h1M395.5 86h1M395.5 90h1M396 38.5h1M396 40h1M396 41h1M396 43h1M396 44h1M396 48h1M396 53.5h1M396 55.5h1M396 59.5h1M396 60h1M396 60.5h1M396 62h1M396 71.5h1M396 73h1M396 73.5h1M396 75h1M396 77h1M396 82.5h1M396 83.5h1M396 87.5h1M396 88h1M396 88.5h1M396.5 34.5h1M396.5 35h1M396.5 38h1M396.5 40h1M396.5 46.5h1M396.5 49.5h1M396.5 53h1M396.5 55.5h1M396.5 56h1M396.5 58.5h1M396.5 59h1M396.5 61.5h1M396.5 62h1M396.5 62.5h1M396.5 71h1M396.5 71.5h1M396.5 73h1M396.5 73.5h1M396.5 78.5h1M396.5 81h1M396.5 82h1M397 29h1M397 43.5h1M397 47.5h1M397 48.5h1M397 50h1M397 53.5h1M397 56h1M397 59h1M397 59.5h1M397 61.5h1M397 62h1M397 62.5h1M397 72.5h1M397 74h1M397 75h1M397 76h1M397 78.5h1M397 84h1M397 85h1M397.5 33.5h1M397.5 34h1M397.5 36.5h1M397.5 37h1M397.5 44h1M397.5 45.5h1M397.5 46.5h1M397.5 49.5h1M397.5 50h1M397.5 50.5h1M397.5 51h1M397.5 52.5h1M397.5 55h1M397.5 55.5h1M397.5 60.5h1M397.5 61h1M397.5 61.5h1M397.5 72h1M397.5 73h1M397.5 73.5h1M397.5 75h1M397.5 76h1M397.5 78h1M397.5 78.5h1M397.5 82.5h1M397.5 83.5h1M397.5 88h1M398 36.5h1M398 37h1M398 41h1M398 42h1M398 43h1M398 44.5h1M398 49h1M398 49.5h1M398 50h1M398 53h1M398 54.5h1M398 56h1M398 56.5h1M398 57h1M398 59h1M398 59.5h1M398 62h1M398 62.5h1M398 70.5h1M398 72.5h1M398 75h1M398 78h1M398 79h1M398 79.5h1M398 81.5h1M398 87h1M398 87.5h1M398.5 27h1M398.5 30.5h1M398.5 45.5h1M398.5 46h1M398.5 47h1M398.5 48.5h1M398.5 50.5h1M398.5 51.5h1M398.5 54h1M398.5 58h1M398.5 62.5h1M398.5 70.5h1M398.5 71.5h1M398.5 72h1M398.5 75h1M398.5 78h1M398.5 78.5h1M398.5 80h1M398.5 85h1M398.5 88.5h1M398.5 89h1M399 29.5h1M399 41h1M399 41.5h1M399 42.5h1M399 45.5h1M399 50h1M399 51h1M399 54h1M399 54.5h1M399 55.5h1M399 56.5h1M399 58h1M399 60h1M399 71.5h1M399 73.5h1M399 76h1M399 77h1M399 82.5h1M399 85h1M399 86h1M399 88h1M399.5 28.5h1M399.5 34h1M399.5 37h1M399.5 37.5h1M399.5 38.5h1M399.5 42.5h1M399.5 48h1M399.5 51h1M399.5 52h1M399.5 55.5h1M399.5 60h1M399.5 71h1M399.5 74.5h1M399.5 75.5h1M399.5 76.5h1M399.5 78h1M399.5 82h1M399.5 83h1M399.5 83.5h1M399.5 86h1M400 25.5h1M400 36.5h1M400 40h1M400 41.5h1M400 42.5h1M400 43h1M400 45h1M400 48.5h1M400 50h1M400 51.5h1M400 52h1M400 52.5h1M400 55h1M400 56.5h1M400 61.5h1M400 70.5h1M400 71.5h1M400 72h1M400 73.5h1M400 74.5h1M400 83.5h1M400 84.5h1M400 86.5h1M400.5 35h1M400.5 35.5h1M400.5 39.5h1M400.5 40h1M400.5 45.5h1M400.5 48h1M400.5 50.5h1M400.5 52h1M400.5 53.5h1M400.5 57h1M400.5 59h1M400.5 61h1M400.5 61.5h1M400.5 71h1M400.5 71.5h1M400.5 72h1M400.5 81.5h1M400.5 84h1M400.5 87h1M400.5 89.5h1M401 32h1M401 33h1M401 41h1M401 41.5h1M401 44h1M401 47h1M401 48h1M401 49h1M401 50.5h1M401 52.5h1M401 53.5h1M401 54.5h1M401 57h1M401 58h1M401 58.5h1M401 74h1M401 81h1M401 84h1M401 84.5h1M401 85h1M401 89.5h1M401.5 38h1M401.5 40h1M401.5 41.5h1M401.5 42.5h1M401.5 45.5h1M401.5 47h1M401.5 48h1M401.5 50h1M401.5 56.5h1M401.5 57h1M401.5 57.5h1M401.5 59h1M401.5 61h1M401.5 71h1M401.5 74.5h1M401.5 77h1M401.5 78h1M401.5 85h1M401.5 89.5h1M401.5 90h1M402 35.5h1M402 37h1M402 39h1M402 39.5h1M402 41h1M402 46h1M402 47h1M402 47.5h1M402 49.5h1M402 52h1M402 53h1M402 54h1M402 55h1M402 59h1M402 60h1M402 61h1M402 61.5h1M402 75h1M402 75.5h1M402 81h1M402.5 29h1M402.5 42h1M402.5 43h1M402.5 44h1M402.5 45.5h1M402.5 46h1M402.5 47.5h1M402.5 48h1M402.5 49.5h1M402.5 50.5h1M402.5 51h1M402.5 51.5h1M402.5 53h1M402.5 54h1M402.5 56.5h1M402.5 60.5h1M402.5 61h1M402.5 72.5h1M402.5 73h1M402.5 77.5h1M402.5 82.5h1M402.5 85.5h1M402.5 87h1M403 35h1M403 36.5h1M403 37.5h1M403 38h1M403 40h1M403 40.5h1M403 42.5h1M403 46h1M403 50.5h1M403 52.5h1M403 54h1M403 55.5h1M403 57.5h1M403 59h1M403 60h1M403 62h1M403 71.5h1M403 75h1M403 78.5h1M403 81.5h1M403 82h1M403 90.5h1M403.5 32.5h1M403.5 33.5h1M403.5 38h1M403.5 40.5h1M403.5 42h1M403.5 42.5h1M403.5 44h1M403.5 45h1M403.5 46.5h1M403.5 51.5h1M403.5 53h1M403.5 53.5h1M403.5 58h1M403.5 58.5h1M403.5 59h1M403.5 60h1M403.5 60.5h1M403.5 62h1M403.5 72.5h1M403.5 84.5h1M403.5 86.5h1M404 33.5h1M404 36.5h1M404 37h1M404 39h1M404 39.5h1M404 41h1M404 42.5h1M404 45h1M404 46h1M404 46.5h1M404 47h1M404 47.5h1M404 48.5h1M404 49h1M404 49.5h1M404 50h1M404 50.5h1M404 54.5h1M404 56h1M404 56.5h1M404 74h1M404 76.5h1M404 81.5h1M404 83.5h1M404 85h1M404.5 39h1M404.5 39.5h1M404.5 45h1M404.5 45.5h1M404.5 46.5h1M404.5 48h1M404.5 49h1M404.5 50h1M404.5 50.5h1M404.5 52.5h1M404.5 53.5h1M404.5 54.5h1M404.5 55.5h1M404.5 57h1M404.5 57.5h1M404.5 60h1M404.5 75h1M404.5 76h1M404.5 77h1M404.5 80.5h1M404.5 82.5h1M405 29.5h1M405 37.5h1M405 39h1M405 40.5h1M405 42h1M405 43h1M405 45h1M405 46h1M405 46.5h1M405 48.5h1M405 50h1M405 52.5h1M405 53.5h1M405 54h1M405 72h1M405 73h1M405 77.5h1M405 78h1M405 80.5h1M405.5 41.5h1M405.5 42h1M405.5 43h1M405.5 46.5h1M405.5 47h1M405.5 47.5h1M405.5 48.5h1M405.5 49.5h1M405.5 51h1M405.5 53h1M405.5 55.5h1M405.5 57.5h1M405.5 58.5h1M405.5 61h1M405.5 61.5h1M405.5 73h1M405.5 73.5h1M405.5 74.5h1M405.5 76.5h1M405.5 81.5h1M405.5 82.5h1M405.5 85.5h1M406 30.5h1M406 33h1M406 35.5h1M406 36h1M406 37.5h1M406 40.5h1M406 42h1M406 43h1M406 44h1M406 44.5h1M406 45h1M406 46.5h1M406 50.5h1M406 51.5h1M406 52.5h1M406 54h1M406 56.5h1M406 57h1M406 61.5h1M406 71h1M406 72h1M406 75h1M406 76.5h1M406 78.5h1M406 79h1M406 87.5h1M406 89h1M406.5 34h1M406.5 36.5h1M406.5 40h1M406.5 42h1M406.5 43h1M406.5 44h1M406.5 44.5h1M406.5 46h1M406.5 46.5h1M406.5 48h1M406.5 49h1M406.5 49.5h1M406.5 50.5h1M406.5 52h1M406.5 55h1M406.5 57h1M406.5 58h1M406.5 58.5h1M406.5 60h1M406.5 62h1M406.5 71h1M406.5 72h1M406.5 74h1M406.5 76h1M406.5 76.5h1M406.5 77.5h1M406.5 82h1M406.5 87h1M407 38.5h1M407 42h1M407 44.5h1M407 45h1M407 48h1M407 48.5h1M407 49h1M407 50h1M407 52.5h1M407 55.5h1M407 56.5h1M407 57h1M407 61h1M407 61.5h1M407 70h1M407 75.5h1M407 77.5h1M407 89h1M407.5 31.5h1M407.5 33.5h1M407.5 37h1M407.5 37.5h1M407.5 40.5h1M407.5 42h1M407.5 43h1M407.5 43.5h1M407.5 44.5h1M407.5 48.5h1M407.5 49h1M407.5 51h1M407.5 52h1M407.5 53h1M407.5 56h1M407.5 58h1M407.5 59.5h1M407.5 60h1M407.5 60.5h1M407.5 61h1M407.5 61.5h1M407.5 70h1M407.5 74.5h1M407.5 76h1M407.5 83.5h1M407.5 84.5h1M407.5 85h1M407.5 88h1M407.5 89h1M408 34.5h1M408 38h1M408 43.5h1M408 44.5h1M408 45h1M408 46h1M408 47h1M408 47.5h1M408 49.5h1M408 50h1M408 52h1M408 53h1M408 54h1M408 54.5h1M408 56h1M408 60h1M408 61.5h1M408 69.5h1M408 70.5h1M408 72h1M408 72.5h1M408 82.5h1M408 83h1M408 85.5h1M408 88.5h1M408 89h1M408.5 38.5h1M408.5 39.5h1M408.5 42h1M408.5 43h1M408.5 43.5h1M408.5 44h1M408.5 44.5h1M408.5 46.5h1M408.5 47h1M408.5 47.5h1M408.5 49.5h1M408.5 50h1M408.5 51.5h1M408.5 57.5h1M408.5 58h1M408.5 58.5h1M408.5 59.5h1M408.5 73h1M408.5 73.5h1M408.5 77.5h1M408.5 78h1M408.5 79h1M408.5 81.5h1M409 31.5h1M409 33.5h1M409 34.5h1M409 36.5h1M409 40h1M409 43.5h1M409 45.5h1M409 46.5h1M409 47h1M409 48.5h1M409 50h1M409 50.5h1M409 52.5h1M409 54h1M409 54.5h1M409 55h1M409 58h1M409 58.5h1M409 59h1M409 70h1M409 71h1M409 71.5h1M409 72.5h1M409 73h1M409 73.5h1M409 76.5h1M409 81.5h1M409 84.5h1M409 89h1M409 89.5h1M409.5 34.5h1M409.5 35h1M409.5 36h1M409.5 38.5h1M409.5 41.5h1M409.5 50h1M409.5 50.5h1M409.5 51h1M409.5 51.5h1M409.5 52h1M409.5 53h1M409.5 54.5h1M409.5 55.5h1M409.5 56h1M409.5 56.5h1M409.5 58h1M409.5 70.5h1M409.5 71.5h1M409.5 72h1M409.5 73h1M409.5 73.5h1M409.5 74h1M409.5 77.5h1M409.5 81h1M409.5 82.5h1M409.5 83.5h1M409.5 86h1M409.5 86.5h1M410 35h1M410 36.5h1M410 38h1M410 39h1M410 39.5h1M410 52h1M410 53.5h1M410 54h1M410 54.5h1M410 55.5h1M410 56h1M410 57h1M410 72.5h1M410 73h1M410 74h1M410 76h1M410 76.5h1M410 77.5h1M410 78.5h1M410 80.5h1M410 81h1M410 85h1M410 88.5h1M410.5 33.5h1M410.5 39h1M410.5 73h1M410.5 73.5h1M410.5 74h1M410.5 74.5h1M410.5 75h1M410.5 76.5h1M410.5 77h1M410.5 78.5h1M410.5 79h1M410.5 80h1M410.5 84h1M410.5 84.5h1M410.5 87h1M410.5 87.5h1M410.5 88h1M411 35h1M411 36h1M411 79.5h1M411 80h1M411 80.5h1M411 81.5h1M411 82h1M411 82.5h1M411 83h1M411 84h1M411 84.5h1M411 86.5h1M411 87h1M411 87.5h1M411 88.5h1M411.5 33.5h1M411.5 35h1M411.5 90h1M412 33h1M412 34h1M412 35h1M412 90h1M412.5 90h1M413 27h1M413 29h1M413 33.5h1M413.5 29.5h1M413.5 30.5h1M413.5 32h1M413.5 32.5h1M414 32h1M414.5 28.5h1M414.5 30h1M415 27h1M415 27.5h1M415 29h1M415 30.5h1M415.5 28h1M415.5 29.5h1M416 26h1M416 26.5h1M416 29.5h1M417 28h1M417 32h1M417 32.5h1M417 90.5h1M417.5 31h1M417.5 32h1M417.5 33h1M418 28h1M418 31.5h1M418 33.5h1M418 90h1M418.5 33.5h1M418.5 34.5h1M418.5 35h1M418.5 35.5h1M419 28.5h1M419 33h1M419 36.5h1M419 37h1M419 81.5h1M419 86.5h1M419 88h1M419 88.5h1M419 90.5h1M419.5 36h1M419.5 37h1M419.5 37.5h1M419.5 38h1M419.5 76.5h1M419.5 77.5h1M419.5 78.5h1M419.5 79.5h1M419.5 84h1M419.5 85h1M419.5 85.5h1M419.5 88.5h1M419.5 89.5h1M419.5 90h1M420 34h1M420 37h1M420 39.5h1M420 54h1M420 70h1M420 71.5h1M420 72h1M420 74h1M420 76h1M420 76.5h1M420 77.5h1M420 78h1M420 78.5h1M420 79h1M420 80h1M420 82h1M420 84.5h1M420 86h1M420 86.5h1M420 88.5h1M420 89.5h1M420.5 34.5h1M420.5 35h1M420.5 35.5h1M420.5 36h1M420.5 37h1M420.5 38h1M420.5 39h1M420.5 39.5h1M420.5 40h1M420.5 52h1M420.5 54h1M420.5 55h1M420.5 55.5h1M420.5 57h1M420.5 69h1M420.5 70.5h1M420.5 72h1M420.5 73h1M420.5 73.5h1M420.5 74.5h1M420.5 75h1M420.5 78h1M420.5 80h1M420.5 83.5h1M420.5 85.5h1M420.5 87.5h1M420.5 88.5h1M420.5 89.5h1M421 36h1M421 39h1M421 39.5h1M421 40h1M421 50.5h1M421 52h1M421 55.5h1M421 57h1M421 57.5h1M421 58h1M421 68h1M421 68.5h1M421 70.5h1M421 71h1M421 72h1M421 73.5h1M421 75h1M421 76h1M421 76.5h1M421 80h1M421 80.5h1M421 81h1M421 82h1M421 83.5h1M421 85h1M421 88h1M421.5 37h1M421.5 40.5h1M421.5 42.5h1M421.5 43h1M421.5 43.5h1M421.5 44h1M421.5 45.5h1M421.5 46h1M421.5 47.5h1M421.5 48.5h1M421.5 49.5h1M421.5 52h1M421.5 53h1M421.5 54.5h1M421.5 56.5h1M421.5 57h1M421.5 59.5h1M421.5 60h1M421.5 61h1M421.5 65h1M421.5 65.5h1M421.5 68h1M421.5 72.5h1M421.5 74h1M421.5 74.5h1M421.5 76.5h1M421.5 78.5h1M421.5 83h1M421.5 88.5h1M422 34.5h1M422 36h1M422 38h1M422 41h1M422 44.5h1M422 47h1M422 48h1M422 48.5h1M422 50h1M422 55.5h1M422 57.5h1M422 60h1M422 60.5h1M422 62.5h1M422 63h1M422 64h1M422 64.5h1M422 65.5h1M422 67.5h1M422 69h1M422 71h1M422 75h1M422 76.5h1M422 78h1M422 80.5h1M422 81h1M422 83h1M422 84.5h1M422 85h1M422.5 35.5h1M422.5 39.5h1M422.5 40h1M422.5 41h1M422.5 41.5h1M422.5 42h1M422.5 43.5h1M422.5 44.5h1M422.5 47h1M422.5 50h1M422.5 51h1M422.5 53.5h1M422.5 56.5h1M422.5 59h1M422.5 62h1M422.5 62.5h1M422.5 63.5h1M422.5 65h1M422.5 66h1M422.5 66.5h1M422.5 67h1M422.5 68h1M422.5 69.5h1M422.5 72.5h1M422.5 73h1M422.5 77h1M422.5 81h1M422.5 89h1M423 35h1M423 37h1M423 41.5h1M423 46h1M423 47h1M423 47.5h1M423 48.5h1M423 53h1M423 57h1M423 60h1M423 60.5h1M423 63.5h1M423 65.5h1M423 67h1M423 73.5h1M423 74h1M423 77.5h1M423 87.5h1M423.5 44.5h1M423.5 50h1M423.5 52.5h1M423.5 55h1M423.5 56h1M423.5 57.5h1M423.5 59h1M423.5 59.5h1M423.5 61.5h1M423.5 62.5h1M423.5 63h1M423.5 63.5h1M423.5 67h1M423.5 69h1M423.5 69.5h1M423.5 74h1M423.5 79.5h1M423.5 88.5h1M424 33h1M424 39.5h1M424 44h1M424 50h1M424 57.5h1M424 60.5h1M424 61h1M424 61.5h1M424 63h1M424 65.5h1M424 67h1M424 68h1M424 68.5h1M424 76.5h1M424 82h1M424 87.5h1M424.5 33.5h1M424.5 39h1M424.5 47.5h1M424.5 52.5h1M424.5 54h1M424.5 55.5h1M424.5 63.5h1M424.5 64h1M424.5 67.5h1M424.5 71h1M424.5 74.5h1M424.5 81.5h1M424.5 88h1M425 33.5h1M425 51.5h1M425 58.5h1M425 63.5h1M425 67h1M425 74h1M425.5 42.5h1M425.5 43.5h1M425.5 69.5h1M426 35h1M426 43.5h1M426 46.5h1M426 84h1M426.5 42.5h1M426.5 75.5h1M426.5 80.5h1M427 37.5h1M427 50.5h1M427 56h1M427 65.5h1M427 84h1M427.5 58h1M427.5 60.5h1M427.5 64h1M427.5 66.5h1M427.5 72h1M428 39.5h1M428 58h1M428 65h1M428.5 38.5h1M428.5 52.5h1M428.5 63h1M428.5 66.5h1M429 41h1M429 63h1M429 65h1M429.5 50h1M429.5 53.5h1M429.5 84.5h1M429.5 85.5h1M432.5 33h1M432.5 34.5h1M432.5 54.5h1M433 33.5h1M433.5 87h1" stroke="#000" stroke-width="0.9" stroke-opacity="0.8" fill="none" filter="url(#soft)"/>
<path d="M415.9 90.6L415.4 90.8L414.9 90.8L414.4 90.5L414.1 90.5L413.7 90.3L413.4 90.2L412.9 90.1L412.6 90.0L412.1 89.8L411.9 89.7L411.4 89.6L411.2 89.3L411.2 88.8L411.2 88.3L411.2 87.8L411.2 87.3L411.2 86.8L411.2 86.3L411.2 85.8L411.2 85.3L411.2 84.8L411.2 84.3L411.2 83.8L411.2 83.3L411.2 82.8L411.2 82.3L411.2 81.8L411.2 81.3L411.2 80.8L411.1 80.3L411.1 80.0L411.1 79.5L411.1 79.0L411.0 78.5L411.0 78.0L410.9 77.5L410.9 77.0L410.9 76.8L410.9 76.3L410.8 75.8L410.8 75.3L410.7 74.8L410.7 74.3L410.6 73.9L410.6 73.5L410.5 73.0L410.5 72.5L410.4 72.1L410.3 71.8L410.2 71.3L410.1 71.0L409.9 70.5L409.7 70.3L409.5 70.0L409.3 69.8L408.9 69.6L408.6 69.5L408.1 69.4L407.6 69.5L407.4 69.6L407.1 69.8L406.6 70.0L406.4 70.2L406.1 70.3L405.6 70.5L405.4 70.6L404.9 70.7L404.6 70.8L404.1 70.9L403.6 70.9L403.1 70.9L402.6 70.9L402.1 70.8L401.8 70.8L401.4 70.8L400.9 70.7L400.4 70.6L399.9 70.6L399.6 70.5L399.1 70.5L398.6 70.5L398.1 70.4L397.6 70.4L397.1 70.4L396.6 70.3L396.4 70.3L395.9 70.2L395.5 70.0L395.1 69.9L394.9 69.8L394.6 69.5L394.3 69.3L394.1 69.0L393.9 68.8L393.6 68.4L393.5 68.0L393.4 67.7L393.3 67.3L393.2 66.8L393.2 66.3L393.3 65.8L393.4 65.3L393.5 65.0L393.6 64.6L393.8 64.3L394.0 64.0L394.2 63.8L394.5 63.5L394.8 63.3L395.1 63.1L395.4 63.0L395.9 62.8L396.1 62.8L396.6 62.7L397.1 62.6L397.6 62.6L398.1 62.6L398.4 62.5L398.9 62.5L399.4 62.5L399.9 62.4L400.4 62.4L400.9 62.3L401.1 62.3L401.6 62.2L402.1 62.1L402.6 62.1L403.1 62.1L403.4 62.0L403.9 62.0L404.2 62.0L404.6 62.1L405.1 62.1L405.6 62.2L406.1 62.2L406.6 62.2L407.1 62.0L407.4 61.9L407.6 61.7L407.9 61.5L408.1 61.2L408.4 60.9L408.6 60.5L408.8 60.3L408.9 60.0L409.1 59.5L409.2 59.3L409.4 58.8L409.5 58.5L409.6 58.1L409.7 57.8L409.9 57.3L410.0 57.0L410.1 56.5L410.2 56.3L410.3 55.8L410.4 55.5L410.5 55.0L410.6 54.6L410.7 54.3L410.6 54.0L410.4 53.5L410.4 53.3L410.2 52.8L410.1 52.5L410.0 52.0L409.9 51.8L409.7 51.3L409.6 51.0L409.5 50.5L409.4 50.2L409.3 49.8L409.3 49.3L409.3 48.8L409.3 48.3L409.2 47.8L409.2 47.3L409.2 46.8L409.2 46.3L409.1 46.0L409.1 45.5L409.1 45.0L409.1 44.5L409.0 44.0L409.0 43.5L409.1 43.0L409.2 42.8L409.3 42.3L409.4 42.0L409.6 41.5L409.7 41.3L409.9 40.9L410.0 40.5L410.1 40.3L410.3 39.8L410.4 39.5L410.6 39.0L410.7 38.8L410.9 38.3L411.0 38.0L411.1 37.7L411.3 37.3L411.4 37.0L411.6 36.5L411.7 36.3L411.9 35.8L412.0 35.5L412.1 35.2L412.3 34.8L412.4 34.5L412.6 34.0L412.7 33.8L412.9 33.3L413.0 33.0L413.2 32.8L413.5 32.5L413.8 32.3L414.1 32.1L414.4 31.8L414.6 31.6L414.9 31.4L415.1 31.1L415.4 31.3L415.6 31.6L416.0 31.8L416.3 32.0L416.6 32.3L416.9 32.5L417.1 32.8L417.4 33.0L417.5 33.3L417.6 33.6L417.8 34.0L417.9 34.3L418.1 34.8L418.2 35.0L418.4 35.5L418.5 35.8L418.6 36.2L418.8 36.5L418.9 36.8L419.1 37.3L419.2 37.5L419.4 38.0L419.5 38.3L419.6 38.7L419.8 39.0L419.9 39.4L420.1 39.8L420.2 40.0L420.4 40.5L420.5 40.8L420.6 41.3L420.8 41.5L420.9 41.9L421.1 42.3L421.1 42.6L421.3 43.0L421.4 43.5L421.4 44.0L421.3 44.5L421.3 45.0L421.3 45.5L421.3 46.0L421.2 46.5L421.2 47.0L421.2 47.5L421.2 48.0L421.1 48.3L421.1 48.8L421.1 49.3L421.1 49.8L421.0 50.3L420.9 50.5L420.7 51.0L420.6 51.3L420.5 51.8L420.4 52.1L420.3 52.5L420.1 52.9L420.0 53.3L419.9 53.8L419.8 54.0L419.7 54.5L419.9 55.0L420.0 55.3L420.1 55.8L420.2 56.0L420.3 56.5L420.4 56.9L420.5 57.3L420.6 57.8L420.7 58.0L420.9 58.5L420.9 58.8L421.1 59.3L421.2 59.5L421.3 60.0L421.4 60.3L421.5 60.8L421.6 61.2L421.8 61.5L421.9 62.0L421.8 62.5L421.8 63.0L421.7 63.5L421.6 64.0L421.6 64.3L421.6 64.8L421.5 65.3L421.4 65.8L421.4 66.0L421.2 66.5L421.1 66.8L421.0 67.3L420.9 67.6L420.8 68.0L420.6 68.4L420.5 68.8L420.4 69.2L420.3 69.5L420.2 70.0L420.1 70.3L419.9 70.8L419.9 71.3L419.9 71.5L419.9 72.0L419.8 72.5L419.8 73.0L419.7 73.5L419.7 74.0L419.7 74.5L419.6 74.8L419.6 75.3L419.6 75.8L419.5 76.3L419.5 76.8L419.5 77.3L419.4 77.8L419.4 78.3L419.4 78.5L419.3 79.0L419.3 79.5L419.3 80.0L419.2 80.5L419.2 81.0L419.2 81.5L419.2 82.0L419.2 82.5L419.2 83.0L419.2 83.5L419.2 84.0L419.2 84.5L419.2 85.0L419.2 85.5L419.2 86.0L419.2 86.5L419.2 87.0L419.2 87.5L419.2 88.0L419.2 88.5L419.2 89.0L419.1 89.4L418.9 89.6L418.4 89.8L418.1 89.8L417.6 90.0L417.4 90.1L416.9 90.3L416.6 90.4L416.1 90.5L415.9 90.6Z" fill="#fff" stroke="#000" stroke-width="1.0"/>
<path d="M415.6 90.6L415.1 90.7L414.6 90.6L414.4 90.4L414.1 90.3L413.6 90.1L413.4 90.0L413.0 89.8L412.6 89.7L412.4 89.5L412.3 89.0L412.3 88.5L412.3 88.0L412.3 87.5L412.3 87.0L412.3 86.5L412.3 86.0L412.3 85.5L412.3 85.0L412.3 84.5L412.3 84.0L412.3 83.5L412.3 83.0L412.3 82.5L412.3 82.0L412.3 81.5L412.3 81.0L412.3 80.5L412.2 80.0L412.2 79.5L412.2 79.0L412.2 78.5L412.1 78.1L412.1 77.8L412.1 77.3L412.1 76.8L412.1 76.3L412.0 75.8L412.0 75.3L412.0 74.8L412.0 74.3L412.0 73.8L411.9 73.3L411.9 72.9L411.9 72.5L411.8 72.0L411.8 71.5L411.8 71.0L411.7 70.5L411.6 70.3L411.5 69.8L411.4 69.5L411.2 69.0L411.1 68.8L410.9 68.3L410.8 68.0L410.6 67.6L410.5 67.3L410.4 66.9L410.3 66.5L410.1 66.2L410.1 65.8L410.1 65.3L410.1 64.8L410.1 64.3L410.2 64.0L410.2 63.5L410.2 63.0L410.3 62.5L410.3 62.0L410.4 61.8L410.6 61.3L410.8 61.0L410.9 60.7L411.1 60.3L411.2 60.0L411.4 59.6L411.5 59.3L411.6 59.0L411.9 58.5L412.0 58.3L412.2 58.0L412.4 57.5L412.5 57.3L412.6 56.9L412.8 56.5L413.0 56.3L413.1 56.0L413.4 55.6L413.6 55.3L413.9 55.1L414.1 54.9L414.4 54.7L414.8 54.5L414.6 54.3L414.1 54.2L413.8 54.0L413.4 53.8L413.1 53.6L412.9 53.4L412.6 53.1L412.5 52.8L412.3 52.5L412.1 52.3L411.9 51.8L411.8 51.5L411.6 51.3L411.5 50.8L411.4 50.5L411.2 50.0L411.1 49.8L411.1 49.3L411.1 48.8L411.0 48.3L411.0 47.8L410.9 47.3L410.9 46.8L410.9 46.5L410.9 46.0L410.8 45.5L410.8 45.0L410.8 44.5L410.7 44.0L410.7 43.5L410.7 43.0L410.9 42.5L410.9 42.3L411.1 41.8L411.1 41.5L411.3 41.0L411.4 40.7L411.5 40.3L411.6 39.8L411.7 39.5L411.9 39.0L411.9 38.8L412.1 38.3L412.1 38.0L412.3 37.5L412.4 37.2L412.5 36.8L412.6 36.3L412.7 36.0L412.9 35.5L412.9 35.3L413.1 34.8L413.1 34.5L413.3 34.0L413.4 33.7L413.5 33.3L413.6 33.0L413.9 32.7L414.1 32.4L414.4 32.1L414.6 31.8L414.9 31.6L415.0 31.3L415.3 31.3L415.5 31.6L415.8 31.8L416.0 32.0L416.2 32.3L416.4 32.5L416.6 32.8L416.9 33.3L417.0 33.5L417.1 34.0L417.2 34.3L417.3 34.8L417.4 35.1L417.5 35.5L417.6 35.9L417.8 36.3L417.9 36.8L418.0 37.0L418.1 37.5L418.2 37.8L418.3 38.3L418.4 38.6L418.5 39.0L418.6 39.4L418.8 39.8L418.9 40.3L419.0 40.5L419.1 41.0L419.2 41.3L419.3 41.8L419.4 42.1L419.5 42.5L419.6 42.9L419.7 43.3L419.7 43.8L419.7 44.3L419.6 44.5L419.6 45.0L419.6 45.5L419.5 46.0L419.5 46.5L419.5 47.0L419.4 47.5L419.4 48.0L419.4 48.3L419.3 48.8L419.3 49.3L419.3 49.8L419.1 50.3L419.0 50.5L418.9 50.9L418.7 51.3L418.6 51.5L418.4 52.0L418.2 52.3L418.1 52.5L417.9 52.9L417.6 53.2L417.4 53.5L417.1 53.7L416.9 53.9L416.6 54.0L416.1 54.2L415.8 54.3L415.6 54.5L415.9 54.7L416.1 54.8L416.5 55.0L416.7 55.3L416.9 55.5L417.1 55.9L417.4 56.3L417.6 56.5L417.7 56.8L417.9 57.3L418.0 57.5L418.1 57.8L418.4 58.3L418.5 58.5L418.6 58.9L418.8 59.3L418.9 59.5L419.1 60.0L419.2 60.3L419.4 60.7L419.5 61.0L419.6 61.4L419.8 61.8L419.8 62.3L419.8 62.8L419.8 63.3L419.7 63.8L419.7 64.3L419.7 64.8L419.6 65.1L419.6 65.5L419.6 66.0L419.5 66.5L419.4 66.9L419.3 67.3L419.2 67.8L419.1 68.0L419.0 68.5L418.9 69.0L418.9 69.3L418.8 69.8L418.7 70.3L418.6 70.5L418.6 71.0L418.5 71.5L418.5 72.0L418.5 72.5L418.5 73.0L418.4 73.5L418.4 74.0L418.4 74.5L418.4 74.8L418.4 75.3L418.4 75.8L418.3 76.3L418.3 76.8L418.3 77.3L418.3 77.8L418.2 78.3L418.2 78.8L418.2 79.3L418.2 79.8L418.2 80.3L418.1 80.5L418.1 81.0L418.1 81.5L418.1 82.0L418.1 82.5L418.1 83.0L418.1 83.5L418.1 84.0L418.1 84.5L418.1 85.0L418.1 85.5L418.1 86.0L418.1 86.5L418.1 87.0L418.1 87.5L418.1 88.0L418.1 88.5L418.1 89.0L418.0 89.5L417.6 89.7L417.4 89.8L416.9 90.0L416.6 90.1L416.3 90.3L415.9 90.5L415.6 90.6Z" fill="#fff" stroke="#8a8a8a" stroke-width="0.5"/>
<path d="M403.9 67.9L403.4 67.9L402.9 67.9L402.5 67.8L402.1 67.7L401.8 67.5L401.4 67.3L401.1 67.1L400.9 66.8L400.8 66.5L400.9 66.2L401.1 65.9L401.4 65.7L401.6 65.5L402.1 65.3L402.4 65.2L402.9 65.1L403.4 65.1L403.9 65.1L404.4 65.3L404.6 65.4L404.9 65.7L405.1 66.0L405.2 66.3L405.2 66.8L405.0 67.0L404.9 67.3L404.6 67.5L404.1 67.8L403.9 67.9Z" fill="#fff" stroke="#8a8a8a" stroke-width="0.5"/>
<path d="M415.9 51.4L415.4 51.5L414.9 51.5L414.4 51.3L414.1 51.2L413.9 50.9L413.6 50.7L413.4 50.4L413.2 50.0L413.1 49.8L413.0 49.3L413.0 48.8L412.9 48.3L412.9 48.0L412.8 47.5L412.7 47.0L412.7 46.5L412.6 46.2L412.6 45.8L412.6 45.3L412.5 44.8L412.5 44.3L412.4 43.8L412.4 43.5L412.4 43.0L412.4 42.8L412.5 42.3L412.6 41.8L412.6 41.5L412.7 41.0L412.8 40.5L412.9 40.1L413.0 39.8L413.0 39.3L413.1 38.8L413.2 38.5L413.3 38.0L413.4 37.5L413.4 37.3L413.5 36.8L413.6 36.3L413.6 36.0L413.7 35.5L413.8 35.0L413.9 34.6L414.0 34.3L414.0 33.8L414.1 33.3L414.2 33.0L414.4 32.6L414.6 32.3L414.7 32.0L414.9 31.8L415.1 31.3L415.2 31.3L415.4 31.6L415.6 32.0L415.8 32.3L416.0 32.5L416.1 32.9L416.3 33.3L416.4 33.8L416.4 34.0L416.5 34.5L416.6 35.0L416.6 35.4L416.7 35.8L416.8 36.3L416.9 36.8L416.9 37.0L417.0 37.5L417.1 38.0L417.2 38.3L417.3 38.8L417.4 39.3L417.4 39.6L417.5 40.0L417.6 40.5L417.6 41.0L417.7 41.3L417.8 41.8L417.9 42.3L417.9 42.5L418.0 43.0L418.0 43.5L418.0 44.0L417.9 44.5L417.9 44.8L417.8 45.3L417.8 45.8L417.7 46.3L417.7 46.8L417.6 47.1L417.6 47.5L417.5 48.0L417.5 48.5L417.4 49.0L417.4 49.3L417.3 49.8L417.1 50.2L416.9 50.5L416.6 50.8L416.4 51.0L416.1 51.2L415.9 51.4Z" fill="#fff" stroke="#8a8a8a" stroke-width="0.5"/>
<path d="M415.4 90.6L414.9 90.6L414.6 90.4L414.4 90.2L414.1 90.0L413.8 89.8L413.4 89.5L413.4 89.3L413.4 88.8L413.4 88.3L413.4 87.8L413.4 87.3L413.4 86.8L413.4 86.3L413.4 85.8L413.4 85.3L413.4 84.8L413.4 84.3L413.4 83.8L413.4 83.3L413.4 82.8L413.4 82.3L413.4 81.8L413.4 81.3L413.4 80.8L413.4 80.3L413.3 79.8L413.3 79.3L413.3 78.8L413.3 78.3L413.3 77.8L413.3 77.3L413.3 76.8L413.3 76.3L413.3 75.8L413.3 75.3L413.3 74.8L413.3 74.3L413.3 73.8L413.3 73.3L413.3 72.8L413.3 72.3L413.3 71.8L413.3 71.3L413.3 70.8L413.2 70.3L413.1 69.9L413.1 69.5L413.0 69.0L412.9 68.5L412.9 68.3L412.8 67.8L412.7 67.3L412.6 66.9L412.6 66.5L412.5 66.0L412.5 65.5L412.5 65.0L412.6 64.5L412.6 64.0L412.6 63.5L412.7 63.3L412.7 62.8L412.7 62.3L412.9 61.8L413.0 61.5L413.2 61.3L413.4 61.0L413.6 60.7L413.9 60.4L414.1 60.2L414.4 60.0L414.9 59.9L415.4 59.8L415.9 60.0L416.1 60.2L416.4 60.4L416.6 60.6L416.9 60.9L417.1 61.3L417.3 61.5L417.5 61.8L417.6 62.3L417.6 62.8L417.6 63.3L417.6 63.8L417.6 64.3L417.6 64.8L417.7 65.0L417.7 65.5L417.7 66.0L417.6 66.3L417.6 66.8L417.5 67.3L417.4 67.8L417.4 68.2L417.4 68.5L417.3 69.0L417.2 69.5L417.2 70.0L417.1 70.3L417.1 70.8L417.1 71.3L417.1 71.8L417.1 72.3L417.1 72.8L417.1 73.3L417.1 73.8L417.1 74.3L417.1 74.8L417.1 75.3L417.1 75.8L417.1 76.3L417.1 76.8L417.1 77.3L417.1 77.8L417.1 78.3L417.1 78.8L417.1 79.3L417.1 79.8L417.0 80.3L417.0 80.8L417.0 81.3L417.0 81.8L417.0 82.3L417.0 82.8L417.0 83.3L417.0 83.8L417.0 84.3L417.0 84.8L417.0 85.3L417.0 85.8L417.0 86.3L417.0 86.8L417.0 87.3L417.0 87.8L417.0 88.3L417.0 88.8L417.0 89.3L416.9 89.6L416.6 89.8L416.3 90.0L415.9 90.3L415.6 90.4L415.4 90.6Z" fill="#fff" stroke="#8a8a8a" stroke-width="0.5"/>
<path d="M415.1 46.1L414.9 45.9L414.7 45.5L414.6 45.3L414.4 44.9L414.3 44.5L414.2 44.0L414.1 43.8L414.0 43.3L414.0 42.8L414.0 42.3L414.1 41.8L414.1 41.3L414.1 40.8L414.2 40.5L414.2 40.0L414.3 39.5L414.3 39.0L414.3 38.5L414.4 38.0L414.4 37.6L414.4 37.3L414.5 36.8L414.5 36.3L414.5 35.8L414.6 35.3L414.6 34.8L414.6 34.4L414.7 34.0L414.7 33.5L414.8 33.0L414.9 32.5L414.9 32.3L415.1 31.8L415.1 31.5L415.3 31.8L415.4 32.0L415.5 32.5L415.6 33.0L415.7 33.3L415.7 33.8L415.7 34.3L415.8 34.8L415.8 35.3L415.9 35.8L415.9 36.3L415.9 36.5L416.0 37.0L416.0 37.5L416.0 38.0L416.1 38.5L416.1 39.0L416.1 39.5L416.2 39.8L416.2 40.3L416.2 40.8L416.3 41.3L416.3 41.8L416.4 42.3L416.4 42.7L416.4 43.0L416.4 43.4L416.3 43.8L416.2 44.3L416.1 44.5L415.9 45.0L415.9 45.3L415.6 45.7L415.4 46.0L415.1 46.1Z" fill="#fff" stroke="#999" stroke-width="0.5"/>
<path d="M415.1 90.6L414.9 90.3L414.8 90.0L414.6 89.8L414.4 89.3L414.4 89.0L414.4 88.5L414.4 88.0L414.4 87.5L414.4 87.0L414.4 86.5L414.4 86.0L414.4 85.5L414.4 85.0L414.4 84.5L414.4 84.0L414.4 83.5L414.4 83.0L414.4 82.5L414.4 82.0L414.4 81.5L414.4 81.0L414.4 80.8L414.4 80.3L414.5 79.8L414.5 79.3L414.5 78.8L414.6 78.3L414.6 77.8L414.6 77.3L414.6 77.0L414.7 76.5L414.8 76.0L414.8 75.5L414.9 75.1L415.0 74.8L415.1 74.4L415.4 74.7L415.5 75.0L415.6 75.5L415.6 76.0L415.7 76.3L415.7 76.8L415.8 77.3L415.8 77.8L415.8 78.3L415.9 78.8L415.9 79.0L415.9 79.5L416.0 80.0L416.0 80.5L416.0 81.0L416.0 81.5L416.0 82.0L416.0 82.5L416.0 83.0L416.0 83.5L416.0 84.0L416.0 84.5L416.0 85.0L416.0 85.5L416.0 86.0L416.0 86.5L416.0 87.0L416.0 87.5L416.0 88.0L416.0 88.5L416.0 89.0L416.0 89.5L415.8 89.8L415.6 90.1L415.4 90.4L415.1 90.6Z" fill="#fff" stroke="#999" stroke-width="0.5"/>
<ellipse cx="415.2" cy="90.30000000000001" rx="3.40" ry="0.9" fill="#111"/>
<rect x="372.5" y="28.0" width="60.89999999999998" height="25.9" fill="none" stroke="#999" stroke-width="0.9"/>
<text x="376.0" y="51.2" font-size="3.5" fill="#333">29.1</text>
<rect x="367.9" y="23.8" width="67.40000000000003" height="67.60000000000001" fill="none" stroke="#8a8a8a" stroke-width="0.9"/>
<line x1="366.09999999999997" y1="30.4" x2="367.9" y2="30.4" stroke="#777" stroke-width="0.6"/>
<text x="365.4" y="31.599999999999998" font-size="3.6" text-anchor="end" fill="#222">10<tspan font-size="2.4" dy="-1">5</tspan></text>
<line x1="366.09999999999997" y1="45.5" x2="367.9" y2="45.5" stroke="#777" stroke-width="0.6"/>
<text x="365.4" y="46.7" font-size="3.6" text-anchor="end" fill="#222">10<tspan font-size="2.4" dy="-1">4</tspan></text>
<line x1="366.09999999999997" y1="60.7" x2="367.9" y2="60.7" stroke="#777" stroke-width="0.6"/>
<text x="365.4" y="61.900000000000006" font-size="3.6" text-anchor="end" fill="#222">10<tspan font-size="2.4" dy="-1">3</tspan></text>
<line x1="366.09999999999997" y1="76.0" x2="367.9" y2="76.0" stroke="#777" stroke-width="0.6"/>
<text x="365.4" y="77.2" font-size="3.6" text-anchor="end" fill="#222">10<tspan font-size="2.4" dy="-1">2</tspan></text>
<line x1="366.09999999999997" y1="84.5" x2="367.9" y2="84.5" stroke="#777" stroke-width="0.6"/>
<text x="365.4" y="85.7" font-size="3.6" text-anchor="end" fill="#222">0</text>
<line x1="375.4" y1="91.4" x2="375.4" y2="93.2" stroke="#777" stroke-width="0.6"/>
<text x="375.4" y="97.0" font-size="3.6" text-anchor="middle" fill="#222">0</text>
<line x1="381.9" y1="91.4" x2="381.9" y2="93.2" stroke="#777" stroke-width="0.6"/>
<text x="381.9" y="97.0" font-size="3.6" text-anchor="middle" fill="#222">10<tspan font-size="2.4" dy="-1">2</tspan></text>
<line x1="398.79999999999995" y1="91.4" x2="398.79999999999995" y2="93.2" stroke="#777" stroke-width="0.6"/>
<text x="398.79999999999995" y="97.0" font-size="3.6" text-anchor="middle" fill="#222">10<tspan font-size="2.4" dy="-1">3</tspan></text>
<line x1="414.2" y1="91.4" x2="414.2" y2="93.2" stroke="#777" stroke-width="0.6"/>
<text x="414.2" y="97.0" font-size="3.6" text-anchor="middle" fill="#222">10<tspan font-size="2.4" dy="-1">4</tspan></text>
<line x1="429.2" y1="91.4" x2="429.2" y2="93.2" stroke="#777" stroke-width="0.6"/>
<text x="429.2" y="97.0" font-size="3.6" text-anchor="middle" fill="#222">10<tspan font-size="2.4" dy="-1">5</tspan></text>
<text x="400.6" y="101.0" font-size="3.3" text-anchor="middle" fill="#222">FITC-A CFSE</text>
<text x="384.6" y="19.1" font-size="8.6" text-anchor="start" fill="#111" class="b">PPD-B</text>
<path d="M450 74.5h1M454 77.5h1M456 79.5h1M456.5 87h1M457 58.5h1M457 72h1M458.5 53h1M459 56.5h1M460.5 63h1M460.5 79h1M461 73.5h1M461 85.5h1M461.5 47.5h1M462 45.5h1M462 60.5h1M462 73h1M463 56.5h1M463 71.5h1M463.5 62h1M464 69.5h1M464 89h1M464.5 64h1M464.5 73h1M465 74.5h1M465 79h1M465 88.5h1M465.5 57.5h1M465.5 61h1M465.5 85.5h1M465.5 89.5h1M466 68h1M466 79.5h1M466 83h1M466.5 42h1M466.5 69.5h1M466.5 78.5h1M466.5 89h1M466.5 90h1M467 48h1M467 52.5h1M467 58h1M467 67.5h1M467 68h1M467 69.5h1M467.5 53.5h1M467.5 54.5h1M467.5 61h1M467.5 77.5h1M467.5 86h1M468 45.5h1M468 62.5h1M468.5 50.5h1M468.5 71.5h1M468.5 81.5h1M468.5 82h1M468.5 86h1M468.5 87.5h1M468.5 90.5h1M469 45h1M469 56h1M469 60h1M469 70h1M469 83h1M469.5 41h1M469.5 52h1M469.5 61h1M469.5 68h1M469.5 69.5h1M469.5 70.5h1M469.5 72.5h1M469.5 74h1M469.5 84h1M469.5 88h1M470 43h1M470 51h1M470 52.5h1M470 56.5h1M470 59h1M470 60.5h1M470 80h1M470 85h1M470.5 43h1M470.5 57h1M470.5 58h1M470.5 65.5h1M470.5 77.5h1M470.5 78h1M471 45.5h1M471 47h1M471 48h1M471 48.5h1M471 51h1M471 53.5h1M471 54h1M471 54.5h1M471 58.5h1M471 61.5h1M471 68h1M471 79h1M471 82h1M471 83h1M471.5 42h1M471.5 44.5h1M471.5 45.5h1M471.5 56h1M471.5 59h1M471.5 60.5h1M471.5 63.5h1M471.5 65h1M471.5 68h1M471.5 69h1M472 39.5h1M472 40.5h1M472 41.5h1M472 46h1M472 50.5h1M472 56h1M472 60h1M472 67.5h1M472 72.5h1M472 84h1M472.5 43h1M472.5 55h1M472.5 56.5h1M472.5 61.5h1M472.5 64h1M472.5 65.5h1M472.5 67h1M472.5 79.5h1M472.5 81.5h1M472.5 83h1M472.5 89.5h1M473 41h1M473 46h1M473 46.5h1M473 51h1M473 56.5h1M473 64.5h1M473 68h1M473 85h1M473.5 45h1M473.5 47.5h1M473.5 48h1M473.5 52h1M473.5 57.5h1M473.5 61h1M473.5 65.5h1M473.5 68.5h1M473.5 71h1M473.5 78.5h1M473.5 80h1M473.5 83h1M474 45h1M474 46h1M474 48.5h1M474 51.5h1M474 52h1M474 53h1M474 54.5h1M474 63.5h1M474 73.5h1M474 75h1M474 79.5h1M474 83h1M474.5 42h1M474.5 44h1M474.5 46h1M474.5 53.5h1M474.5 55h1M474.5 63.5h1M474.5 67.5h1M474.5 69.5h1M474.5 72.5h1M474.5 75.5h1M474.5 77.5h1M474.5 78h1M474.5 87h1M475 40h1M475 42h1M475 52.5h1M475 56.5h1M475 58.5h1M475 60h1M475 66h1M475 67h1M475 68h1M475 71.5h1M475 76.5h1M475 78.5h1M475 79h1M475 83.5h1M475 85h1M475 85.5h1M475.5 35h1M475.5 39h1M475.5 44.5h1M475.5 46h1M475.5 48.5h1M475.5 49h1M475.5 52h1M475.5 54.5h1M475.5 63h1M475.5 66.5h1M475.5 67.5h1M475.5 68.5h1M475.5 71h1M475.5 72.5h1M475.5 73h1M475.5 78h1M475.5 82h1M475.5 83h1M475.5 87h1M475.5 88h1M476 39h1M476 41.5h1M476 44.5h1M476 46h1M476 51h1M476 51.5h1M476 57h1M476 59h1M476 61.5h1M476 63h1M476 64h1M476 66.5h1M476 70h1M476 72h1M476 72.5h1M476 73h1M476 78.5h1M476 81.5h1M476 85.5h1M476 86.5h1M476.5 47.5h1M476.5 49h1M476.5 49.5h1M476.5 52h1M476.5 55h1M476.5 55.5h1M476.5 59h1M476.5 61h1M476.5 68h1M476.5 68.5h1M476.5 79.5h1M476.5 81h1M476.5 81.5h1M476.5 82.5h1M476.5 83h1M476.5 86h1M476.5 89h1M476.5 89.5h1M477 42.5h1M477 43h1M477 48h1M477 50.5h1M477 52.5h1M477 54h1M477 58.5h1M477 59.5h1M477 60h1M477 61h1M477 63h1M477 65h1M477 75h1M477 76h1M477 80.5h1M477.5 32h1M477.5 38.5h1M477.5 43.5h1M477.5 46h1M477.5 47.5h1M477.5 48.5h1M477.5 52.5h1M477.5 56.5h1M477.5 58.5h1M477.5 59.5h1M477.5 62h1M477.5 69h1M477.5 69.5h1M477.5 70.5h1M477.5 71h1M477.5 74.5h1M477.5 75h1M477.5 76h1M477.5 77h1M477.5 79.5h1M477.5 83h1M478 46h1M478 49h1M478 50h1M478 51.5h1M478 52h1M478 55.5h1M478 57h1M478 58.5h1M478 60h1M478 70h1M478 70.5h1M478 71.5h1M478 74h1M478 74.5h1M478 81.5h1M478 84.5h1M478.5 44.5h1M478.5 48h1M478.5 49.5h1M478.5 50h1M478.5 50.5h1M478.5 51h1M478.5 51.5h1M478.5 57.5h1M478.5 58h1M478.5 62h1M478.5 69.5h1M478.5 75h1M478.5 76.5h1M479 46h1M479 47h1M479 50.5h1M479 52h1M479 58h1M479 58.5h1M479 59h1M479 63h1M479 63.5h1M479 70h1M479 73h1M479 74.5h1M479 77h1M479 77.5h1M479 78h1M479 80h1M479 80.5h1M479 81h1M479 84h1M479.5 35h1M479.5 40.5h1M479.5 41.5h1M479.5 44h1M479.5 49h1M479.5 50.5h1M479.5 56.5h1M479.5 57.5h1M479.5 59.5h1M479.5 60h1M479.5 61.5h1M479.5 69.5h1M479.5 72h1M479.5 79h1M479.5 84h1M479.5 88.5h1M479.5 89.5h1M480 44.5h1M480 45.5h1M480 48h1M480 50h1M480 53.5h1M480 54h1M480 58.5h1M480 59.5h1M480 60.5h1M480 72h1M480 77h1M480 81h1M480 83.5h1M480.5 28.5h1M480.5 41h1M480.5 41.5h1M480.5 44.5h1M480.5 46h1M480.5 47h1M480.5 47.5h1M480.5 48h1M480.5 48.5h1M480.5 49h1M480.5 50.5h1M480.5 51h1M480.5 51.5h1M480.5 53h1M480.5 63h1M480.5 70h1M480.5 71.5h1M480.5 73h1M480.5 77h1M480.5 83h1M481 35h1M481 43.5h1M481 45h1M481 45.5h1M481 50.5h1M481 52h1M481 52.5h1M481 55h1M481 58.5h1M481 59.5h1M481 61.5h1M481 62.5h1M481 63h1M481 72.5h1M481 73h1M481 74.5h1M481 78.5h1M481 80h1M481.5 43.5h1M481.5 46.5h1M481.5 51.5h1M481.5 52h1M481.5 54h1M481.5 55.5h1M481.5 56h1M481.5 56.5h1M481.5 57h1M481.5 58h1M481.5 58.5h1M481.5 59.5h1M481.5 61h1M481.5 63h1M481.5 69h1M481.5 70h1M481.5 72.5h1M481.5 77h1M481.5 82.5h1M481.5 86.5h1M481.5 87.5h1M482 38.5h1M482 39h1M482 44h1M482 45.5h1M482 48h1M482 50h1M482 53h1M482 55.5h1M482 60h1M482 62.5h1M482 70h1M482 73.5h1M482 74h1M482 77.5h1M482 84h1M482 88h1M482.5 33.5h1M482.5 41.5h1M482.5 45.5h1M482.5 48h1M482.5 48.5h1M482.5 51.5h1M482.5 52h1M482.5 53h1M482.5 53.5h1M482.5 56h1M482.5 58.5h1M482.5 59h1M482.5 63h1M482.5 65h1M482.5 73.5h1M482.5 74h1M482.5 77.5h1M482.5 78h1M482.5 87h1M483 37h1M483 42h1M483 46.5h1M483 49h1M483 49.5h1M483 54.5h1M483 55h1M483 56.5h1M483 57h1M483 59.5h1M483 60.5h1M483 61.5h1M483 62h1M483 63.5h1M483 64.5h1M483 68h1M483 68.5h1M483 69h1M483 70.5h1M483 71h1M483 71.5h1M483 73.5h1M483 81.5h1M483 84h1M483 86.5h1M483.5 38.5h1M483.5 40.5h1M483.5 41.5h1M483.5 42h1M483.5 44h1M483.5 49h1M483.5 52h1M483.5 53.5h1M483.5 56.5h1M483.5 62h1M483.5 63h1M483.5 64h1M483.5 64.5h1M483.5 65.5h1M483.5 66h1M483.5 69h1M483.5 73h1M483.5 76.5h1M483.5 78.5h1M483.5 83h1M483.5 83.5h1M483.5 84h1M483.5 85h1M483.5 88h1M484 27.5h1M484 44.5h1M484 46h1M484 47.5h1M484 48h1M484 48.5h1M484 50.5h1M484 52h1M484 55h1M484 57h1M484 64.5h1M484 65.5h1M484 66h1M484 69h1M484 69.5h1M484 71.5h1M484 73.5h1M484 75h1M484 76.5h1M484 82.5h1M484 87h1M484.5 45h1M484.5 45.5h1M484.5 46h1M484.5 47.5h1M484.5 51.5h1M484.5 52h1M484.5 53h1M484.5 55.5h1M484.5 56h1M484.5 58.5h1M484.5 61h1M484.5 62h1M484.5 64.5h1M484.5 65.5h1M484.5 69.5h1M484.5 72h1M484.5 74h1M484.5 78h1M484.5 81.5h1M484.5 83.5h1M484.5 87h1M485 35h1M485 49.5h1M485 51h1M485 54h1M485 55.5h1M485 57.5h1M485 61h1M485 62.5h1M485 63.5h1M485 64h1M485 66.5h1M485 73h1M485 74h1M485 75.5h1M485 77.5h1M485 78h1M485 79h1M485 80.5h1M485 83h1M485 84h1M485 87.5h1M485 88h1M485 89.5h1M485.5 42h1M485.5 44h1M485.5 47h1M485.5 54h1M485.5 55.5h1M485.5 63.5h1M485.5 66h1M485.5 68.5h1M485.5 71.5h1M485.5 78.5h1M485.5 80.5h1M485.5 83.5h1M485.5 84.5h1M485.5 85h1M486 34.5h1M486 38.5h1M486 40h1M486 49.5h1M486 51.5h1M486 52h1M486 53h1M486 60h1M486 63.5h1M486 64.5h1M486 66h1M486 68.5h1M486 73h1M486 73.5h1M486 74h1M486 75h1M486 80h1M486.5 39h1M486.5 40h1M486.5 42.5h1M486.5 46.5h1M486.5 48.5h1M486.5 51h1M486.5 51.5h1M486.5 53h1M486.5 53.5h1M486.5 54h1M486.5 57h1M486.5 60h1M486.5 67h1M486.5 74h1M486.5 75h1M486.5 79h1M486.5 80.5h1M487 35.5h1M487 43.5h1M487 44h1M487 44.5h1M487 45.5h1M487 48.5h1M487 50h1M487 50.5h1M487 51.5h1M487 52.5h1M487 53h1M487 54h1M487 56.5h1M487 58h1M487 62h1M487 63.5h1M487 64h1M487 64.5h1M487 66h1M487 66.5h1M487 75.5h1M487 78.5h1M487.5 37.5h1M487.5 40.5h1M487.5 46.5h1M487.5 52.5h1M487.5 56h1M487.5 57.5h1M487.5 60.5h1M487.5 63.5h1M487.5 65h1M487.5 65.5h1M487.5 70h1M487.5 70.5h1M487.5 71h1M487.5 72h1M487.5 73h1M487.5 73.5h1M487.5 74h1M487.5 82.5h1M487.5 85h1M487.5 88.5h1M488 44h1M488 45.5h1M488 46h1M488 51.5h1M488 53.5h1M488 54.5h1M488 55.5h1M488 56h1M488 56.5h1M488 58h1M488 58.5h1M488 61h1M488 62.5h1M488 64.5h1M488 66.5h1M488 67h1M488 67.5h1M488 68.5h1M488 69h1M488 80h1M488 80.5h1M488 86h1M488 87h1M488.5 28.5h1M488.5 42.5h1M488.5 43.5h1M488.5 46h1M488.5 48.5h1M488.5 50.5h1M488.5 52h1M488.5 55h1M488.5 58.5h1M488.5 60.5h1M488.5 61.5h1M488.5 63h1M488.5 63.5h1M488.5 64.5h1M488.5 66.5h1M488.5 67.5h1M488.5 69h1M488.5 72h1M488.5 72.5h1M488.5 73h1M488.5 75.5h1M488.5 76h1M488.5 76.5h1M488.5 80.5h1M488.5 83h1M488.5 85h1M488.5 87h1M488.5 89h1M488.5 90h1M489 40.5h1M489 47h1M489 47.5h1M489 48h1M489 50h1M489 51.5h1M489 52.5h1M489 53h1M489 56h1M489 57.5h1M489 58h1M489 59.5h1M489 60h1M489 61h1M489 62h1M489 63.5h1M489 65.5h1M489 66h1M489 67h1M489 68h1M489 68.5h1M489 70.5h1M489 71h1M489 71.5h1M489 72h1M489 72.5h1M489 75.5h1M489 77h1M489 81h1M489 84h1M489 85h1M489.5 35.5h1M489.5 36h1M489.5 36.5h1M489.5 40h1M489.5 42h1M489.5 43.5h1M489.5 45h1M489.5 46.5h1M489.5 47h1M489.5 49.5h1M489.5 51.5h1M489.5 52h1M489.5 52.5h1M489.5 53h1M489.5 53.5h1M489.5 58.5h1M489.5 60.5h1M489.5 65.5h1M489.5 66.5h1M489.5 67.5h1M489.5 68.5h1M489.5 69h1M489.5 69.5h1M489.5 71.5h1M489.5 73.5h1M489.5 74.5h1M489.5 75h1M489.5 84.5h1M490 39h1M490 41h1M490 41.5h1M490 43.5h1M490 44h1M490 44.5h1M490 48h1M490 48.5h1M490 50h1M490 55h1M490 55.5h1M490 56h1M490 56.5h1M490 57h1M490 57.5h1M490 59h1M490 59.5h1M490 60h1M490 61.5h1M490 66h1M490 67h1M490 67.5h1M490 68h1M490 68.5h1M490 69h1M490 70.5h1M490 71.5h1M490 75.5h1M490 76.5h1M490 78.5h1M490 79h1M490 80.5h1M490 82.5h1M490 84.5h1M490 85h1M490 85.5h1M490 86h1M490 86.5h1M490 87h1M490.5 36h1M490.5 36.5h1M490.5 37h1M490.5 39h1M490.5 40h1M490.5 41h1M490.5 41.5h1M490.5 42h1M490.5 42.5h1M490.5 45.5h1M490.5 46.5h1M490.5 47h1M490.5 47.5h1M490.5 48.5h1M490.5 49h1M490.5 50h1M490.5 50.5h1M490.5 52.5h1M490.5 53.5h1M490.5 54h1M490.5 54.5h1M490.5 55h1M490.5 55.5h1M490.5 56h1M490.5 56.5h1M490.5 57h1M490.5 57.5h1M490.5 58h1M490.5 70h1M490.5 72.5h1M490.5 73h1M490.5 74h1M490.5 75h1M490.5 76h1M490.5 77.5h1M490.5 78.5h1M490.5 81.5h1M490.5 84.5h1M490.5 87.5h1M490.5 88.5h1M491 36h1M491 40h1M491 41h1M491 43h1M491 44.5h1M491 45.5h1M491 47.5h1M491 51h1M491 51.5h1M491 52h1M491 52.5h1M491 53.5h1M491 54h1M491 54.5h1M491 55h1M491 71.5h1M491 72h1M491 73h1M491 73.5h1M491 74h1M491 76.5h1M491 77h1M491 78h1M491 80h1M491 82h1M491 87h1M491 89.5h1M491.5 36h1M491.5 38h1M491.5 38.5h1M491.5 40h1M491.5 40.5h1M491.5 41.5h1M491.5 42h1M491.5 43h1M491.5 72h1M491.5 74h1M491.5 75h1M491.5 75.5h1M491.5 77h1M491.5 78.5h1M491.5 79.5h1M491.5 81.5h1M491.5 82.5h1M491.5 83h1M491.5 83.5h1M491.5 84.5h1M491.5 85.5h1M491.5 86.5h1M491.5 88.5h1M491.5 90h1M492 35h1M492 36.5h1M492 37.5h1M492 38h1M492 38.5h1M492 39h1M492 39.5h1M492 40h1M492 75h1M492 77h1M492 79h1M492 80.5h1M492 81.5h1M492 82h1M492 82.5h1M492 83h1M492 84h1M492 84.5h1M492 85h1M492 85.5h1M492 86.5h1M492 88h1M492 88.5h1M492 89.5h1M492 90h1M492.5 35h1M492.5 36.5h1M492.5 37.5h1M492.5 38h1M492.5 38.5h1M492.5 39h1M492.5 83h1M492.5 85.5h1M492.5 86.5h1M492.5 87.5h1M492.5 88.5h1M492.5 89.5h1M492.5 90h1M493 35h1M493 37h1M493 90h1M493.5 34.5h1M493.5 35.5h1M493.5 36h1M493.5 90h1M494 34.5h1M494 90.5h1M494.5 34.5h1M498 90.5h1M499 34.5h1M499 35h1M499 90h1M499.5 35.5h1M499.5 90h1M499.5 90.5h1M500 36.5h1M500 37h1M500 37.5h1M500 38h1M500 90h1M500 90.5h1M500.5 37.5h1M500.5 38h1M500.5 38.5h1M500.5 39h1M500.5 40h1M500.5 80.5h1M500.5 83.5h1M500.5 85h1M500.5 86h1M500.5 88h1M500.5 89h1M500.5 89.5h1M501 35.5h1M501 36.5h1M501 39h1M501 40.5h1M501 41h1M501 41.5h1M501 75h1M501 76.5h1M501 77h1M501 78h1M501 79.5h1M501 80h1M501 80.5h1M501 81h1M501 81.5h1M501 82h1M501 82.5h1M501 83.5h1M501 84h1M501 85h1M501 86.5h1M501 87h1M501 88h1M501.5 38.5h1M501.5 39h1M501.5 39.5h1M501.5 40.5h1M501.5 41.5h1M501.5 42h1M501.5 43.5h1M501.5 44h1M501.5 71.5h1M501.5 73.5h1M501.5 75h1M501.5 75.5h1M501.5 76h1M501.5 77.5h1M501.5 80h1M501.5 84.5h1M501.5 85.5h1M501.5 89h1M501.5 89.5h1M501.5 90h1M502 35.5h1M502 39h1M502 41h1M502 41.5h1M502 44h1M502 44.5h1M502 45h1M502 46h1M502 47h1M502 50.5h1M502 51.5h1M502 52h1M502 52.5h1M502 54h1M502 54.5h1M502 55h1M502 56h1M502 72h1M502 73h1M502 75h1M502 78h1M502 81.5h1M502 83h1M502 83.5h1M502 87h1M502 87.5h1M502 88h1M502 90h1M502.5 37h1M502.5 37.5h1M502.5 41.5h1M502.5 42.5h1M502.5 44.5h1M502.5 47h1M502.5 48.5h1M502.5 49.5h1M502.5 53h1M502.5 53.5h1M502.5 54h1M502.5 55h1M502.5 57h1M502.5 57.5h1M502.5 68h1M502.5 68.5h1M502.5 69h1M502.5 70h1M502.5 70.5h1M502.5 71h1M502.5 71.5h1M502.5 72h1M502.5 76.5h1M502.5 88.5h1M503 41h1M503 41.5h1M503 42h1M503 44.5h1M503 49h1M503 50.5h1M503 52.5h1M503 54h1M503 54.5h1M503 55.5h1M503 57h1M503 57.5h1M503 58h1M503 65.5h1M503 66.5h1M503 67.5h1M503 68h1M503 71h1M503 71.5h1M503 72h1M503 72.5h1M503 74h1M503 74.5h1M503 78h1M503 79h1M503 84h1M503 86.5h1M503 88h1M503 88.5h1M503.5 35h1M503.5 38.5h1M503.5 39.5h1M503.5 42h1M503.5 45.5h1M503.5 46h1M503.5 51.5h1M503.5 57.5h1M503.5 58.5h1M503.5 59.5h1M503.5 60h1M503.5 60.5h1M503.5 61h1M503.5 62.5h1M503.5 63h1M503.5 65h1M503.5 66.5h1M503.5 67h1M503.5 68.5h1M503.5 69h1M503.5 70h1M503.5 71.5h1M503.5 72.5h1M503.5 74.5h1M503.5 75h1M503.5 87h1M504 34.5h1M504 53h1M504 57.5h1M504 58h1M504 59h1M504 60.5h1M504 61h1M504 62h1M504 63h1M504 64h1M504 65.5h1M504 67h1M504 67.5h1M504 68h1M504 68.5h1M504 70.5h1M504 76h1M504 88h1M504.5 40h1M504.5 40.5h1M504.5 45.5h1M504.5 48.5h1M504.5 59h1M504.5 61h1M504.5 61.5h1M504.5 63h1M504.5 64h1M504.5 65h1M504.5 65.5h1M504.5 67h1M504.5 76.5h1M504.5 77h1M504.5 82h1M504.5 85.5h1M505 45h1M505 47h1M505 49h1M505 50.5h1M505 61h1M505 63h1M505 64h1M505 64.5h1M505 66h1M505 70h1M505 82.5h1M505 84h1M505.5 47.5h1M505.5 56h1M505.5 57.5h1M505.5 65.5h1M505.5 67h1M505.5 89h1M506 46.5h1M506 51.5h1M506 61.5h1M506 63h1M506 64.5h1M506 65h1M506 70.5h1M506.5 59.5h1M506.5 75.5h1M506.5 79.5h1M506.5 82h1M507 37.5h1M507 57.5h1M507 63.5h1M507 64.5h1M507 68h1M507 90h1M507.5 44.5h1M507.5 45.5h1M507.5 80h1M508 58.5h1M508 70.5h1M508 82h1M508 89.5h1M508.5 47.5h1M508.5 63h1M509 36.5h1M509 42h1M509 52h1M509 70.5h1M509.5 36.5h1M509.5 45h1M509.5 60.5h1M510 61.5h1M510 80.5h1M510.5 39h1M510.5 57h1M510.5 57.5h1M510.5 58.5h1M510.5 74.5h1M511 53h1M511 84h1M512.5 75.5h1M513 64.5h1M513 67.5h1M513 70.5h1M513.5 74h1M514.5 63.5h1M515 71.5h1" stroke="#000" stroke-width="0.9" stroke-opacity="0.8" fill="none" filter="url(#soft)"/>
<path d="M496.9 90.7L496.4 90.8L495.9 90.7L495.6 90.5L495.2 90.4L494.9 90.3L494.4 90.2L494.1 90.0L493.7 89.9L493.4 89.8L492.9 89.7L492.6 89.5L492.5 89.0L492.5 88.5L492.5 88.0L492.5 87.5L492.5 87.0L492.5 86.5L492.5 86.0L492.5 85.5L492.5 85.0L492.5 84.5L492.5 84.0L492.5 83.5L492.5 83.0L492.5 82.5L492.4 82.1L492.4 81.8L492.4 81.3L492.3 80.8L492.3 80.3L492.3 79.8L492.2 79.3L492.2 79.0L492.2 78.5L492.1 78.0L492.1 77.5L492.0 77.0L492.0 76.5L492.0 76.0L491.9 75.8L491.9 75.3L491.8 74.8L491.8 74.3L491.8 73.8L491.7 73.3L491.7 73.0L491.7 72.5L491.5 72.0L491.4 71.8L491.3 71.3L491.2 71.0L491.0 70.5L490.9 70.3L490.8 69.8L490.7 69.5L490.5 69.0L490.4 68.8L490.3 68.3L490.2 68.0L490.1 67.5L490.0 67.0L489.9 66.7L489.9 66.3L489.8 65.8L489.7 65.4L489.6 65.0L489.5 64.5L489.4 64.1L489.4 63.8L489.4 63.5L489.5 63.0L489.6 62.5L489.7 62.1L489.7 61.8L489.8 61.3L489.9 60.8L490.0 60.5L490.0 60.0L490.1 59.5L490.2 59.2L490.3 58.8L490.3 58.3L490.4 57.8L490.5 57.5L490.7 57.1L490.8 56.8L490.9 56.3L491.0 56.0L491.2 55.5L491.2 55.0L491.2 54.5L491.2 54.0L491.1 53.5L491.1 53.0L491.1 52.5L491.1 52.0L491.1 51.5L491.0 51.0L491.0 50.5L491.0 50.0L491.0 49.5L490.9 49.3L490.9 48.8L490.9 48.3L490.9 47.8L490.8 47.3L490.8 46.8L490.9 46.3L490.9 45.9L491.0 45.5L491.1 45.0L491.2 44.8L491.3 44.3L491.4 43.8L491.5 43.5L491.6 43.0L491.7 42.5L491.7 42.3L491.9 41.8L491.9 41.4L492.0 41.0L492.1 40.5L492.2 40.3L492.3 39.8L492.4 39.3L492.5 39.0L492.6 38.5L492.7 38.3L492.9 37.8L493.0 37.5L493.2 37.0L493.2 36.8L493.4 36.3L493.5 36.0L493.7 35.6L493.8 35.3L493.9 35.0L494.4 34.9L494.7 34.8L495.2 34.6L495.5 34.5L495.9 34.4L496.4 34.3L496.9 34.4L497.3 34.5L497.7 34.6L498.2 34.8L498.4 34.9L498.9 35.0L499.0 35.3L499.2 35.8L499.3 36.0L499.4 36.5L499.6 36.8L499.7 37.2L499.8 37.5L499.9 37.9L500.1 38.3L500.2 38.6L500.3 39.0L500.4 39.5L500.5 39.8L500.6 40.3L500.7 40.7L500.8 41.0L500.9 41.5L500.9 41.8L501.1 42.3L501.2 42.8L501.2 43.0L501.3 43.5L501.4 44.0L501.5 44.3L501.6 44.8L501.7 45.2L501.8 45.5L501.9 46.0L501.9 46.4L502.0 46.8L502.0 47.3L501.9 47.5L501.9 48.0L501.9 48.5L501.9 49.0L501.8 49.5L501.8 50.0L501.8 50.5L501.8 51.0L501.7 51.5L501.7 52.0L501.7 52.3L501.7 52.8L501.7 53.3L501.7 53.8L501.6 54.3L501.6 54.8L501.6 55.3L501.7 55.8L501.8 56.0L501.9 56.5L502.0 56.8L502.2 57.3L502.3 57.5L502.4 58.0L502.5 58.3L502.5 58.8L502.6 59.3L502.7 59.7L502.8 60.0L502.8 60.5L502.9 61.0L503.0 61.3L503.1 61.8L503.1 62.3L503.2 62.6L503.3 63.0L503.4 63.5L503.4 64.0L503.3 64.5L503.2 64.9L503.1 65.3L503.0 65.8L502.9 66.2L502.9 66.5L502.8 67.0L502.7 67.5L502.6 67.8L502.5 68.3L502.4 68.5L502.3 69.0L502.2 69.3L502.0 69.8L501.9 70.0L501.8 70.5L501.7 70.8L501.5 71.3L501.4 71.5L501.3 72.0L501.2 72.3L501.1 72.8L501.1 73.3L501.0 73.8L501.0 74.3L501.0 74.8L500.9 75.0L500.9 75.5L500.9 76.0L500.8 76.5L500.8 77.0L500.7 77.5L500.7 77.9L500.7 78.3L500.6 78.8L500.6 79.3L500.5 79.8L500.5 80.3L500.5 80.8L500.4 81.0L500.4 81.5L500.4 82.0L500.3 82.5L500.3 83.0L500.3 83.5L500.3 84.0L500.3 84.5L500.3 85.0L500.3 85.5L500.3 86.0L500.3 86.5L500.3 87.0L500.3 87.5L500.3 88.0L500.3 88.5L500.3 89.0L500.2 89.5L499.9 89.6L499.4 89.8L499.2 89.9L498.7 90.0L498.4 90.1L497.9 90.3L497.7 90.4L497.2 90.5L496.9 90.7Z" fill="#fff" stroke="#000" stroke-width="1.0"/>
<path d="M480.7 68.8L480.2 68.9L479.7 69.0L479.2 69.0L478.7 69.0L478.2 68.8L477.9 68.8L477.5 68.5L477.2 68.4L476.9 68.2L476.7 67.9L476.4 67.6L476.3 67.3L476.2 67.0L476.1 66.5L476.2 66.0L476.3 65.8L476.4 65.4L476.7 65.1L476.9 64.8L477.2 64.6L477.4 64.5L477.8 64.3L478.2 64.2L478.7 64.0L478.9 64.0L479.4 64.0L479.9 64.0L480.2 64.1L480.7 64.2L481.0 64.3L481.4 64.5L481.7 64.7L481.9 64.9L482.2 65.2L482.4 65.5L482.5 65.8L482.7 66.3L482.6 66.8L482.5 67.3L482.4 67.5L482.2 67.8L481.9 68.1L481.7 68.3L481.3 68.5L480.9 68.7L480.7 68.8Z" fill="#fff" stroke="#000" stroke-width="1.0"/>
<path d="M497.2 55.4L496.7 55.5L496.2 55.5L495.7 55.4L495.4 55.3L494.9 55.1L494.7 55.0L494.4 54.8L494.2 54.5L493.9 54.2L493.7 53.8L493.6 53.5L493.4 53.3L493.3 52.8L493.2 52.5L493.1 52.0L493.0 51.5L492.9 51.3L492.8 50.8L492.8 50.3L492.7 49.9L492.7 49.5L492.6 49.0L492.5 48.5L492.5 48.0L492.4 47.8L492.4 47.3L492.3 46.8L492.4 46.3L492.4 45.8L492.5 45.5L492.6 45.0L492.6 44.5L492.7 44.2L492.8 43.8L492.8 43.3L492.9 42.8L493.0 42.5L493.0 42.0L493.1 41.5L493.2 41.1L493.2 40.8L493.3 40.3L493.4 39.8L493.4 39.5L493.5 39.0L493.6 38.5L493.7 38.3L493.8 37.8L493.9 37.4L494.0 37.0L494.2 36.5L494.2 36.3L494.4 35.8L494.4 35.5L494.6 35.0L494.9 34.9L495.2 34.8L495.7 34.6L495.9 34.4L496.4 34.4L496.9 34.5L497.2 34.6L497.7 34.8L497.9 34.9L498.2 35.0L498.4 35.5L498.4 35.9L498.6 36.3L498.7 36.8L498.8 37.0L498.9 37.5L499.0 37.8L499.1 38.3L499.2 38.7L499.3 39.0L499.4 39.5L499.4 40.0L499.5 40.3L499.6 40.8L499.6 41.3L499.7 41.7L499.8 42.0L499.8 42.5L499.9 43.0L500.0 43.3L500.0 43.8L500.1 44.3L500.2 44.8L500.2 45.0L500.3 45.5L500.4 46.0L500.4 46.4L500.5 46.8L500.4 47.0L500.4 47.5L500.3 48.0L500.3 48.5L500.2 49.0L500.2 49.3L500.1 49.8L500.0 50.3L500.0 50.8L499.9 51.0L499.8 51.5L499.7 52.0L499.7 52.3L499.5 52.8L499.4 53.0L499.2 53.5L499.1 53.8L498.9 54.1L498.7 54.4L498.4 54.7L498.2 54.9L497.9 55.1L497.4 55.3L497.2 55.4Z" fill="#fff" stroke="#8a8a8a" stroke-width="0.5"/>
<path d="M496.7 90.7L496.2 90.7L495.8 90.5L495.4 90.4L495.2 90.2L494.8 90.0L494.4 89.9L494.2 89.8L493.7 89.6L493.5 89.3L493.5 88.8L493.5 88.3L493.5 87.8L493.5 87.3L493.5 86.8L493.5 86.3L493.5 85.8L493.5 85.3L493.5 84.8L493.5 84.3L493.5 83.8L493.5 83.3L493.5 82.8L493.5 82.3L493.5 81.8L493.5 81.3L493.4 80.9L493.4 80.5L493.4 80.0L493.4 79.5L493.3 79.0L493.3 78.5L493.3 78.0L493.3 77.5L493.2 77.0L493.2 76.5L493.2 76.3L493.2 75.8L493.1 75.3L493.1 74.8L493.1 74.3L493.1 73.8L493.0 73.3L493.0 72.8L493.0 72.3L492.9 72.0L492.8 71.5L492.7 71.1L492.6 70.8L492.5 70.3L492.4 70.0L492.3 69.5L492.2 69.0L492.2 68.8L492.1 68.3L492.0 67.8L491.9 67.5L491.9 67.0L491.8 66.5L491.7 66.0L491.7 65.7L491.6 65.3L491.6 64.8L491.5 64.3L491.4 63.8L491.4 63.8L491.6 63.3L491.7 62.8L491.7 62.5L491.8 62.0L491.9 61.6L492.0 61.3L492.2 60.8L492.2 60.5L492.4 60.0L492.5 59.8L492.6 59.3L492.7 59.0L492.9 58.5L493.0 58.3L493.2 57.9L493.4 57.5L493.6 57.3L493.7 57.0L493.9 56.8L494.2 56.5L494.4 56.3L494.8 56.0L495.2 55.8L495.4 55.7L495.9 55.6L496.4 55.6L496.9 55.6L497.4 55.8L497.7 55.9L498.0 56.0L498.4 56.3L498.6 56.5L498.9 56.8L499.1 57.0L499.2 57.3L499.4 57.6L499.7 58.0L499.8 58.3L499.9 58.6L500.1 59.0L500.2 59.3L500.3 59.8L500.4 60.1L500.6 60.5L500.7 61.0L500.8 61.3L500.9 61.8L501.0 62.0L501.1 62.5L501.2 63.0L501.2 63.3L501.4 63.8L501.3 64.3L501.2 64.8L501.2 65.0L501.1 65.5L501.1 66.0L501.0 66.5L500.9 66.8L500.9 67.3L500.8 67.8L500.7 68.3L500.7 68.5L500.6 69.0L500.5 69.5L500.4 69.8L500.3 70.3L500.2 70.7L500.1 71.0L500.0 71.5L499.9 71.8L499.8 72.3L499.8 72.8L499.8 73.3L499.7 73.8L499.7 74.3L499.7 74.6L499.7 75.0L499.6 75.5L499.6 76.0L499.6 76.5L499.6 77.0L499.5 77.5L499.5 78.0L499.5 78.5L499.5 79.0L499.4 79.3L499.4 79.8L499.4 80.3L499.4 80.8L499.3 81.3L499.3 81.8L499.3 82.3L499.2 82.8L499.2 83.3L499.2 83.8L499.2 84.3L499.2 84.8L499.2 85.3L499.2 85.8L499.2 86.3L499.2 86.8L499.2 87.3L499.2 87.8L499.2 88.3L499.2 88.8L499.2 89.3L499.1 89.5L498.7 89.7L498.4 89.9L498.0 90.0L497.7 90.2L497.4 90.3L496.9 90.5L496.7 90.7Z" fill="#fff" stroke="#8a8a8a" stroke-width="0.5"/>
<path d="M496.9 51.6L496.4 51.7L495.9 51.6L495.7 51.5L495.4 51.2L495.2 50.9L495.0 50.5L494.9 50.3L494.7 49.9L494.6 49.5L494.4 49.2L494.3 48.8L494.2 48.3L494.1 48.0L494.0 47.5L493.9 47.3L493.9 46.8L493.9 46.3L493.9 45.8L493.9 45.3L494.0 45.0L494.0 44.5L494.1 44.0L494.1 43.5L494.2 43.0L494.2 42.8L494.3 42.3L494.3 41.8L494.4 41.3L494.4 40.8L494.4 40.4L494.5 40.0L494.5 39.5L494.6 39.0L494.7 38.5L494.7 38.3L494.8 37.8L494.9 37.3L494.9 36.8L495.0 36.5L495.1 36.0L495.2 35.5L495.2 35.3L495.4 34.9L495.7 34.8L496.0 34.5L496.4 34.5L496.8 34.5L497.2 34.8L497.4 35.0L497.6 35.3L497.7 35.8L497.7 36.0L497.8 36.5L497.9 37.0L497.9 37.4L498.0 37.8L498.1 38.3L498.2 38.8L498.2 39.0L498.3 39.5L498.3 40.0L498.4 40.5L498.4 41.0L498.4 41.4L498.5 41.8L498.5 42.3L498.6 42.8L498.6 43.3L498.7 43.8L498.7 44.0L498.8 44.5L498.8 45.0L498.9 45.5L498.9 46.0L498.9 46.3L498.9 46.7L498.9 47.0L498.8 47.5L498.7 47.9L498.6 48.3L498.5 48.8L498.4 49.0L498.2 49.5L498.1 49.8L497.9 50.3L497.8 50.5L497.7 50.8L497.4 51.1L497.2 51.4L496.9 51.6Z" fill="#fff" stroke="#8a8a8a" stroke-width="0.5"/>
<path d="M496.7 90.6L496.2 90.6L495.9 90.4L495.7 90.3L495.4 90.0L495.0 89.8L494.7 89.6L494.6 89.3L494.6 88.8L494.6 88.3L494.6 87.8L494.6 87.3L494.6 86.8L494.6 86.3L494.6 85.8L494.6 85.3L494.6 84.8L494.6 84.3L494.6 83.8L494.6 83.3L494.6 82.8L494.6 82.3L494.6 81.8L494.6 81.3L494.6 80.8L494.5 80.3L494.5 79.8L494.5 79.3L494.5 78.8L494.5 78.3L494.5 77.8L494.5 77.3L494.4 76.8L494.4 76.5L494.4 76.0L494.4 75.5L494.4 75.0L494.4 74.5L494.4 74.0L494.4 73.5L494.4 73.0L494.4 72.5L494.3 72.0L494.3 71.5L494.2 71.0L494.2 70.8L494.1 70.3L494.1 69.8L494.0 69.3L494.0 68.8L494.0 68.3L493.9 68.0L493.9 67.5L493.9 67.0L493.8 66.5L493.8 66.0L493.8 65.5L493.7 65.0L493.7 64.8L493.7 64.3L493.6 63.8L493.7 63.5L493.9 63.0L494.0 62.8L494.2 62.4L494.4 62.0L494.5 61.8L494.7 61.5L494.9 61.1L495.2 60.8L495.4 60.6L495.7 60.4L496.0 60.3L496.4 60.2L496.8 60.3L497.2 60.5L497.4 60.7L497.7 60.9L497.9 61.2L498.2 61.5L498.3 61.8L498.4 62.1L498.7 62.5L498.8 62.8L498.9 63.2L499.1 63.5L499.2 64.0L499.1 64.5L499.1 65.0L499.0 65.5L499.0 66.0L499.0 66.5L498.9 66.8L498.9 67.3L498.9 67.8L498.8 68.3L498.8 68.8L498.8 69.3L498.7 69.8L498.7 70.0L498.6 70.5L498.6 71.0L498.5 71.5L498.5 72.0L498.4 72.5L498.4 72.8L498.4 73.3L498.4 73.8L498.4 74.3L498.4 74.8L498.4 75.3L498.4 75.8L498.4 76.3L498.3 76.8L498.3 77.3L498.3 77.8L498.3 78.3L498.3 78.8L498.3 79.3L498.3 79.8L498.3 80.3L498.2 80.8L498.2 81.3L498.2 81.8L498.2 82.3L498.2 82.5L498.2 83.0L498.2 83.5L498.2 84.0L498.2 84.5L498.2 85.0L498.2 85.5L498.2 86.0L498.2 86.5L498.2 87.0L498.2 87.5L498.2 88.0L498.2 88.5L498.2 89.0L498.1 89.5L497.8 89.8L497.4 90.0L497.2 90.2L496.9 90.4L496.7 90.6Z" fill="#fff" stroke="#8a8a8a" stroke-width="0.5"/>
<path d="M496.7 47.7L496.2 47.7L495.9 47.5L495.7 47.3L495.4 46.9L495.3 46.5L495.3 46.0L495.3 45.5L495.4 45.0L495.4 44.5L495.4 44.0L495.4 43.5L495.4 43.0L495.4 42.7L495.5 42.3L495.5 41.8L495.5 41.3L495.5 40.8L495.6 40.3L495.6 39.8L495.6 39.3L495.6 38.8L495.7 38.3L495.7 37.8L495.7 37.5L495.8 37.0L495.8 36.5L495.8 36.0L495.9 35.5L495.9 35.0L496.1 34.8L496.3 34.5L496.5 34.5L496.7 34.8L496.9 35.3L496.9 35.7L497.0 36.0L497.0 36.5L497.0 37.0L497.1 37.5L497.1 38.0L497.2 38.5L497.2 39.0L497.2 39.3L497.2 39.8L497.2 40.3L497.3 40.8L497.3 41.3L497.3 41.8L497.3 42.3L497.3 42.8L497.4 43.3L497.4 43.8L497.4 44.3L497.4 44.8L497.5 45.0L497.5 45.5L497.5 46.0L497.5 46.5L497.4 46.8L497.2 47.2L496.9 47.5L496.7 47.7Z" fill="#fff" stroke="#999" stroke-width="0.5"/>
<path d="M496.4 90.6L496.2 90.4L495.9 90.1L495.8 89.8L495.7 89.5L495.6 89.0L495.6 88.5L495.6 88.0L495.6 87.5L495.6 87.0L495.6 86.5L495.6 86.0L495.6 85.5L495.6 85.0L495.6 84.5L495.6 84.0L495.6 83.5L495.6 83.0L495.6 82.5L495.6 82.0L495.6 81.5L495.6 81.0L495.7 80.5L495.7 80.0L495.7 79.5L495.7 79.0L495.7 78.5L495.7 78.1L495.7 77.8L495.7 77.3L495.7 76.8L495.8 76.3L495.8 75.8L495.8 75.3L495.8 74.8L495.8 74.3L495.9 73.8L495.9 73.3L495.9 72.8L495.9 72.4L496.0 72.0L496.1 71.5L496.3 71.3L496.5 71.3L496.7 71.6L496.8 72.0L496.9 72.5L496.9 73.0L496.9 73.5L496.9 73.9L497.0 74.3L497.0 74.8L497.0 75.3L497.0 75.8L497.0 76.3L497.1 76.8L497.1 77.3L497.1 77.8L497.1 78.3L497.1 78.8L497.1 79.3L497.1 79.8L497.1 80.3L497.1 80.8L497.2 81.3L497.2 81.8L497.2 82.3L497.2 82.8L497.2 83.3L497.2 83.8L497.2 84.3L497.2 84.8L497.2 85.3L497.2 85.8L497.2 86.3L497.2 86.8L497.2 87.3L497.2 87.8L497.2 88.3L497.2 88.8L497.2 89.3L497.0 89.8L496.8 90.0L496.7 90.3L496.4 90.6Z" fill="#fff" stroke="#999" stroke-width="0.5"/>
<ellipse cx="496.4" cy="90.30000000000001" rx="3.31" ry="0.9" fill="#111"/>
<rect x="453.3" y="27.7" width="60.19999999999999" height="27.3" fill="none" stroke="#999" stroke-width="0.9"/>
<text x="456.5" y="51.5" font-size="3.5" fill="#333">27.6</text>
<rect x="448.7" y="23.8" width="67.69999999999999" height="67.60000000000001" fill="none" stroke="#8a8a8a" stroke-width="0.9"/>
<line x1="446.9" y1="30.4" x2="448.7" y2="30.4" stroke="#777" stroke-width="0.6"/>
<text x="446.2" y="31.599999999999998" font-size="3.6" text-anchor="end" fill="#222">10<tspan font-size="2.4" dy="-1">5</tspan></text>
<line x1="446.9" y1="45.5" x2="448.7" y2="45.5" stroke="#777" stroke-width="0.6"/>
<text x="446.2" y="46.7" font-size="3.6" text-anchor="end" fill="#222">10<tspan font-size="2.4" dy="-1">4</tspan></text>
<line x1="446.9" y1="60.7" x2="448.7" y2="60.7" stroke="#777" stroke-width="0.6"/>
<text x="446.2" y="61.900000000000006" font-size="3.6" text-anchor="end" fill="#222">10<tspan font-size="2.4" dy="-1">3</tspan></text>
<line x1="446.9" y1="76.0" x2="448.7" y2="76.0" stroke="#777" stroke-width="0.6"/>
<text x="446.2" y="77.2" font-size="3.6" text-anchor="end" fill="#222">10<tspan font-size="2.4" dy="-1">2</tspan></text>
<line x1="446.9" y1="84.5" x2="448.7" y2="84.5" stroke="#777" stroke-width="0.6"/>
<text x="446.2" y="85.7" font-size="3.6" text-anchor="end" fill="#222">0</text>
<line x1="456.2" y1="91.4" x2="456.2" y2="93.2" stroke="#777" stroke-width="0.6"/>
<text x="456.2" y="97.0" font-size="3.6" text-anchor="middle" fill="#222">0</text>
<line x1="462.7" y1="91.4" x2="462.7" y2="93.2" stroke="#777" stroke-width="0.6"/>
<text x="462.7" y="97.0" font-size="3.6" text-anchor="middle" fill="#222">10<tspan font-size="2.4" dy="-1">2</tspan></text>
<line x1="479.59999999999997" y1="91.4" x2="479.59999999999997" y2="93.2" stroke="#777" stroke-width="0.6"/>
<text x="479.59999999999997" y="97.0" font-size="3.6" text-anchor="middle" fill="#222">10<tspan font-size="2.4" dy="-1">3</tspan></text>
<line x1="495.0" y1="91.4" x2="495.0" y2="93.2" stroke="#777" stroke-width="0.6"/>
<text x="495.0" y="97.0" font-size="3.6" text-anchor="middle" fill="#222">10<tspan font-size="2.4" dy="-1">4</tspan></text>
<line x1="510.0" y1="91.4" x2="510.0" y2="93.2" stroke="#777" stroke-width="0.6"/>
<text x="510.0" y="97.0" font-size="3.6" text-anchor="middle" fill="#222">10<tspan font-size="2.4" dy="-1">5</tspan></text>
<text x="481.54999999999995" y="101.0" font-size="3.3" text-anchor="middle" fill="#222">FITC-A CFSE</text>
<text x="476.4" y="19.1" font-size="8.6" text-anchor="start" fill="#111" class="b">E:C</text>
<line x1="4.15" y1="26.1" x2="4.15" y2="61.3" stroke="#111" stroke-width="1.6"/>
<polyline points="1.3500000000000005,30.3 4.15,25.8 6.95,30.3" fill="none" stroke="#111" stroke-width="1.6" stroke-linejoin="miter"/>
<line x1="267.3" y1="28.2" x2="267.3" y2="62.6" stroke="#111" stroke-width="1.6"/>
<polyline points="264.5,32.4 267.3,27.9 270.1,32.4" fill="none" stroke="#111" stroke-width="1.6" stroke-linejoin="miter"/>
<text transform="translate(8.1,92.2) rotate(-90)" font-size="8.6" fill="#111" class="b">WC1.1</text>
<text transform="translate(271.4,93.6) rotate(-90)" font-size="8.6" fill="#111" class="b">WC1.2</text>
<text transform="translate(9.4,111.6) scale(0.93,1)" font-size="9.3" fill="#111" class="b">CFSE</text>
<line x1="38.2" y1="108.65" x2="247.4" y2="108.65" stroke="#111" stroke-width="1.6"/>
<polyline points="243.20000000000002,105.85000000000001 247.70000000000002,108.65 243.20000000000002,111.45" fill="none" stroke="#111" stroke-width="1.7"/>
<text transform="translate(272.4,111.6) scale(0.93,1)" font-size="9.3" fill="#111" class="b">CFSE</text>
<line x1="301.7" y1="108.65" x2="511.0" y2="108.65" stroke="#111" stroke-width="1.6"/>
<polyline points="506.6,105.85000000000001 511.3,108.65 506.6,111.45" fill="none" stroke="#111" stroke-width="1.7"/>
<text transform="translate(9.4,214.9) scale(0.93,1)" font-size="9.3" fill="#111" class="b">CFSE</text>
<line x1="39.2" y1="211.75" x2="248.0" y2="211.75" stroke="#111" stroke-width="1.6"/>
<polyline points="243.8,208.95 248.3,211.75 243.8,214.55" fill="none" stroke="#111" stroke-width="1.7"/>
<text transform="translate(272.4,214.8) scale(0.93,1)" font-size="9.3" fill="#111" class="b">CFSE</text>
<line x1="310.9" y1="211.75" x2="517.8" y2="211.75" stroke="#111" stroke-width="1.6"/>
<polyline points="514.8,208.95 518.0999999999999,211.75 514.8,214.55" fill="none" stroke="#111" stroke-width="1.7"/>
<polyline points="20.00,191.70 20.25,191.70 20.50,191.70 20.75,191.69 21.00,191.69 21.25,191.69 21.50,191.69 21.75,191.68 22.00,191.68 22.25,191.67 22.50,191.67 22.75,191.66 23.00,191.65 23.25,191.64 23.50,191.62 23.75,191.60 24.00,191.58 24.25,191.55 24.50,191.52 24.75,191.48 25.00,191.44 25.25,191.40 25.50,191.36 25.75,191.32 26.00,191.28 26.25,191.24 26.50,191.20 26.75,191.17 27.00,191.15 27.25,191.12 27.50,191.10 27.75,191.09 28.00,191.07 28.25,191.06 28.50,191.05 28.75,191.05 29.00,191.04 29.25,191.04 29.50,191.03 29.75,191.03 30.00,191.03 30.25,191.03 30.50,191.03 30.75,191.03 31.00,191.03 31.25,191.02 31.50,191.02 31.75,191.02 32.00,191.02 32.25,191.02 32.50,191.02 32.75,191.02 33.00,191.02 33.25,191.02 33.50,191.02 33.75,191.02 34.00,191.02 34.25,191.02 34.50,191.02 34.75,191.02 35.00,191.02 35.25,191.02 35.50,191.02 35.75,191.02 36.00,191.02 36.25,191.02 36.50,191.02 36.75,191.02 37.00,191.02 37.25,191.02 37.50,191.02 37.75,191.02 38.00,191.02 38.25,191.02 38.50,191.02 38.75,191.02 39.00,191.02 39.25,191.02 39.50,191.02 39.75,191.02 40.00,191.02 40.25,191.02 40.50,191.02 40.75,191.02 41.00,191.02 41.25,191.02 41.50,191.02 41.75,191.02 42.00,191.02 42.25,191.02 42.50,191.02 42.75,191.02 43.00,191.02 43.25,191.02 43.50,191.02 43.75,191.02 44.00,191.02 44.25,191.02 44.50,191.02 44.75,191.02 45.00,191.02 45.25,191.02 45.50,191.02 45.75,191.02 46.00,191.02 46.25,191.02 46.50,191.02 46.75,191.02 47.00,191.02 47.25,191.02 47.50,191.02 47.75,191.02 48.00,191.02 48.25,191.02 48.50,191.02 48.75,191.02 49.00,191.02 49.25,191.02 49.50,191.02 49.75,191.02 50.00,191.02 50.25,191.02 50.50,191.02 50.75,191.02 51.00,191.02 51.25,191.02 51.50,191.02 51.75,191.02 52.00,191.02 52.25,191.02 52.50,191.02 52.75,191.02 53.00,191.02 53.25,191.02 53.50,191.02 53.75,191.02 54.00,191.02 54.25,191.02 54.50,191.02 54.75,191.02 55.00,191.02 55.25,191.02 55.50,191.02 55.75,191.02 56.00,191.02 56.25,191.02 56.50,191.02 56.75,191.02 57.00,191.02 57.25,191.02 57.50,191.02 57.75,191.02 58.00,191.02 58.25,191.02 58.50,191.02 58.75,191.02 59.00,191.02 59.25,191.02 59.50,191.01 59.75,191.01 60.00,191.00 60.25,190.99 60.50,190.98 60.75,190.97 61.00,190.95 61.25,190.92 61.50,190.89 61.75,190.85 62.00,190.80 62.25,190.74 62.50,190.67 62.75,190.58 63.00,190.46 63.25,190.32 63.50,190.13 63.75,189.87 64.00,189.51 64.25,188.99 64.50,188.25 64.75,187.16 65.00,185.61 65.25,183.42 65.50,180.45 65.75,176.55 66.00,171.65 66.25,165.78 66.50,159.12 66.75,152.00 67.00,144.92 67.25,138.47 67.50,133.26 67.75,129.83 68.00,128.56 68.25,128.00 68.50,131.29 68.75,136.38 69.00,142.72 69.25,149.70 69.50,156.75 69.75,163.37 70.00,169.23 70.25,174.15 70.50,178.11 70.75,181.17 71.00,183.46 71.25,185.15 71.50,186.39 71.75,187.31 72.00,188.00 72.25,188.54 72.50,188.99 72.75,189.36 73.00,189.68 73.25,189.96 73.50,190.20 73.75,190.41 74.00,190.60 74.25,190.76 74.50,190.89 74.75,191.01 75.00,191.11 75.25,191.19 75.50,191.26 75.75,191.32 76.00,191.37 76.25,191.40 76.50,191.44 76.75,191.47 77.00,191.49 77.25,191.51 77.50,191.53 77.75,191.54 78.00,191.55 78.25,191.56 78.50,191.57 78.75,191.58 79.00,191.59 79.25,191.60 79.50,191.60 79.75,191.61 80.00,191.62 80.25,191.62 80.50,191.63 80.75,191.63 81.00,191.63 81.25,191.64 81.50,191.64 81.75,191.65 82.00,191.65 82.25,191.65 82.50,191.65 82.75,191.66 83.00,191.66 83.25,191.66 83.50,191.66 83.75,191.67 84.00,191.67 84.25,191.67 84.50,191.67 84.75,191.67 85.00,191.68 85.25,191.68 85.50,191.68 85.75,191.68 86.00,191.68 86.25,191.68 86.50,191.68 86.75,191.68" fill="none" stroke="#7a7a7a" stroke-width="0.9"/>
<line x1="24.6" y1="190.5" x2="64.6" y2="190.5" stroke="#333" stroke-width="1.1"/>
<line x1="24.6" y1="189.3" x2="24.6" y2="191.1" stroke="#333" stroke-width="0.6"/>
<line x1="64.6" y1="189.3" x2="64.6" y2="191.1" stroke="#333" stroke-width="0.6"/>
<text x="44.599999999999994" y="188.3" font-size="3.6" text-anchor="middle" fill="#555">6.25</text>
<rect x="19.5" y="124.4" width="67.8" height="67.9" fill="none" stroke="#8a8a8a" stroke-width="0.9"/>
<line x1="17.7" y1="133.4" x2="19.5" y2="133.4" stroke="#777" stroke-width="0.6"/>
<text x="17.0" y="134.6" font-size="3.6" text-anchor="end" fill="#222">1,200</text>
<line x1="17.7" y1="148.1" x2="19.5" y2="148.1" stroke="#777" stroke-width="0.6"/>
<text x="17.0" y="149.29999999999998" font-size="3.6" text-anchor="end" fill="#222">900</text>
<line x1="17.7" y1="162.7" x2="19.5" y2="162.7" stroke="#777" stroke-width="0.6"/>
<text x="17.0" y="163.89999999999998" font-size="3.6" text-anchor="end" fill="#222">600</text>
<line x1="17.7" y1="177.5" x2="19.5" y2="177.5" stroke="#777" stroke-width="0.6"/>
<text x="17.0" y="178.7" font-size="3.6" text-anchor="end" fill="#222">300</text>
<line x1="17.7" y1="192.3" x2="19.5" y2="192.3" stroke="#777" stroke-width="0.6"/>
<text x="17.0" y="193.5" font-size="3.6" text-anchor="end" fill="#222">0</text>
<line x1="27.0" y1="192.3" x2="27.0" y2="194.10000000000002" stroke="#777" stroke-width="0.6"/>
<text x="27.0" y="197.9" font-size="3.6" text-anchor="middle" fill="#222">0</text>
<line x1="33.5" y1="192.3" x2="33.5" y2="194.10000000000002" stroke="#777" stroke-width="0.6"/>
<text x="33.5" y="197.9" font-size="3.6" text-anchor="middle" fill="#222">10<tspan font-size="2.4" dy="-1">2</tspan></text>
<line x1="50.4" y1="192.3" x2="50.4" y2="194.10000000000002" stroke="#777" stroke-width="0.6"/>
<text x="50.4" y="197.9" font-size="3.6" text-anchor="middle" fill="#222">10<tspan font-size="2.4" dy="-1">3</tspan></text>
<line x1="65.8" y1="192.3" x2="65.8" y2="194.10000000000002" stroke="#777" stroke-width="0.6"/>
<text x="65.8" y="197.9" font-size="3.6" text-anchor="middle" fill="#222">10<tspan font-size="2.4" dy="-1">4</tspan></text>
<line x1="80.8" y1="192.3" x2="80.8" y2="194.10000000000002" stroke="#777" stroke-width="0.6"/>
<text x="80.8" y="197.9" font-size="3.6" text-anchor="middle" fill="#222">10<tspan font-size="2.4" dy="-1">5</tspan></text>
<text x="52.4" y="201.9" font-size="3.3" text-anchor="middle" fill="#222">FITC-A CFSE</text>
<text x="29.5" y="141.6" font-size="7.6" text-anchor="start" fill="#111" class="b">6.25</text>
<polyline points="101.80,191.70 102.05,191.70 102.30,191.70 102.55,191.69 102.80,191.69 103.05,191.69 103.30,191.69 103.55,191.68 103.80,191.68 104.05,191.68 104.30,191.67 104.55,191.66 104.80,191.65 105.05,191.64 105.30,191.62 105.55,191.60 105.80,191.58 106.05,191.55 106.30,191.52 106.55,191.49 106.80,191.45 107.05,191.41 107.30,191.37 107.55,191.33 107.80,191.28 108.05,191.25 108.30,191.21 108.55,191.18 108.80,191.15 109.05,191.13 109.30,191.11 109.55,191.10 109.80,191.08 110.05,191.07 110.30,191.06 110.55,191.06 110.80,191.05 111.05,191.05 111.30,191.05 111.55,191.04 111.80,191.04 112.05,191.04 112.30,191.04 112.55,191.04 112.80,191.04 113.05,191.04 113.30,191.03 113.55,191.03 113.80,191.03 114.05,191.03 114.30,191.03 114.55,191.03 114.80,191.03 115.05,191.03 115.30,191.03 115.55,191.03 115.80,191.03 116.05,191.03 116.30,191.03 116.55,191.03 116.80,191.03 117.05,191.03 117.30,191.03 117.55,191.03 117.80,191.03 118.05,191.03 118.30,191.03 118.55,191.03 118.80,191.03 119.05,191.03 119.30,191.03 119.55,191.03 119.80,191.03 120.05,191.03 120.30,191.03 120.55,191.03 120.80,191.03 121.05,191.03 121.30,191.03 121.55,191.03 121.80,191.03 122.05,191.03 122.30,191.03 122.55,191.03 122.80,191.03 123.05,191.03 123.30,191.03 123.55,191.03 123.80,191.03 124.05,191.03 124.30,191.03 124.55,191.03 124.80,191.03 125.05,191.03 125.30,191.03 125.55,191.03 125.80,191.03 126.05,191.03 126.30,191.03 126.55,191.03 126.80,191.03 127.05,191.03 127.30,191.03 127.55,191.03 127.80,191.03 128.05,191.03 128.30,191.03 128.55,191.03 128.80,191.03 129.05,191.03 129.30,191.03 129.55,191.03 129.80,191.03 130.05,191.03 130.30,191.03 130.55,191.03 130.80,191.03 131.05,191.03 131.30,191.03 131.55,191.03 131.80,191.03 132.05,191.03 132.30,191.03 132.55,191.03 132.80,191.03 133.05,191.03 133.30,191.03 133.55,191.03 133.80,191.03 134.05,191.03 134.30,191.03 134.55,191.03 134.80,191.03 135.05,191.03 135.30,191.03 135.55,191.03 135.80,191.03 136.05,191.03 136.30,191.03 136.55,191.03 136.80,191.03 137.05,191.03 137.30,191.03 137.55,191.03 137.80,191.03 138.05,191.03 138.30,191.02 138.55,191.01 138.80,191.00 139.05,190.98 139.30,190.95 139.55,190.90 139.80,190.84 140.05,190.75 140.30,190.63 140.55,190.47 140.80,190.27 141.05,190.02 141.30,189.72 141.55,189.38 141.80,188.99 142.05,188.58 142.30,188.14 142.55,187.72 142.80,187.31 143.05,186.96 143.30,186.67 143.55,186.46 143.80,186.34 144.05,186.30 144.30,186.36 144.55,186.47 144.80,186.63 145.05,186.78 145.30,186.88 145.55,186.85 145.80,186.62 146.05,186.08 146.30,185.09 146.55,183.50 146.80,181.15 147.05,177.89 147.30,173.62 147.55,168.33 147.80,162.15 148.05,155.34 148.30,148.34 148.55,141.69 148.80,136.03 149.05,131.91 149.30,129.79 149.55,128.30 149.80,130.72 150.05,135.08 150.30,140.89 150.55,147.59 150.80,154.56 151.05,161.29 151.30,167.39 151.55,172.61 151.80,176.88 152.05,180.23 152.30,182.77 152.55,184.65 152.80,186.03 153.05,187.05 153.30,187.81 153.55,188.40 153.80,188.87 154.05,189.26 154.30,189.59 154.55,189.88 154.80,190.13 155.05,190.35 155.30,190.55 155.55,190.71 155.80,190.86 156.05,190.98 156.30,191.08 156.55,191.17 156.80,191.24 157.05,191.30 157.30,191.35 157.55,191.39 157.80,191.43 158.05,191.46 158.30,191.48 158.55,191.50 158.80,191.52 159.05,191.54 159.30,191.55 159.55,191.56 159.80,191.57 160.05,191.58 160.30,191.59 160.55,191.60 160.80,191.60 161.05,191.61 161.30,191.61 161.55,191.62 161.80,191.62 162.05,191.63 162.30,191.63 162.55,191.64 162.80,191.64 163.05,191.65 163.30,191.65 163.55,191.65 163.80,191.65 164.05,191.66 164.30,191.66 164.55,191.66 164.80,191.66 165.05,191.67 165.30,191.67 165.55,191.67 165.80,191.67 166.05,191.67 166.30,191.68 166.55,191.68 166.80,191.68 167.05,191.68 167.30,191.68 167.55,191.68 167.80,191.68 168.05,191.68" fill="none" stroke="#7a7a7a" stroke-width="0.9"/>
<line x1="106.39999999999999" y1="190.5" x2="146.0" y2="190.5" stroke="#333" stroke-width="1.1"/>
<line x1="106.39999999999999" y1="189.3" x2="106.39999999999999" y2="191.1" stroke="#333" stroke-width="0.6"/>
<line x1="146.0" y1="189.3" x2="146.0" y2="191.1" stroke="#333" stroke-width="0.6"/>
<text x="126.19999999999999" y="188.3" font-size="3.6" text-anchor="middle" fill="#555">19.3</text>
<rect x="101.3" y="124.4" width="67.2" height="67.9" fill="none" stroke="#8a8a8a" stroke-width="0.9"/>
<line x1="99.5" y1="132.9" x2="101.3" y2="132.9" stroke="#777" stroke-width="0.6"/>
<text x="98.8" y="134.1" font-size="3.6" text-anchor="end" fill="#222">800</text>
<line x1="99.5" y1="147.5" x2="101.3" y2="147.5" stroke="#777" stroke-width="0.6"/>
<text x="98.8" y="148.7" font-size="3.6" text-anchor="end" fill="#222">600</text>
<line x1="99.5" y1="162.7" x2="101.3" y2="162.7" stroke="#777" stroke-width="0.6"/>
<text x="98.8" y="163.89999999999998" font-size="3.6" text-anchor="end" fill="#222">400</text>
<line x1="99.5" y1="177.5" x2="101.3" y2="177.5" stroke="#777" stroke-width="0.6"/>
<text x="98.8" y="178.7" font-size="3.6" text-anchor="end" fill="#222">200</text>
<line x1="99.5" y1="192.3" x2="101.3" y2="192.3" stroke="#777" stroke-width="0.6"/>
<text x="98.8" y="193.5" font-size="3.6" text-anchor="end" fill="#222">0</text>
<line x1="108.8" y1="192.3" x2="108.8" y2="194.10000000000002" stroke="#777" stroke-width="0.6"/>
<text x="108.8" y="197.9" font-size="3.6" text-anchor="middle" fill="#222">0</text>
<line x1="115.3" y1="192.3" x2="115.3" y2="194.10000000000002" stroke="#777" stroke-width="0.6"/>
<text x="115.3" y="197.9" font-size="3.6" text-anchor="middle" fill="#222">10<tspan font-size="2.4" dy="-1">2</tspan></text>
<line x1="132.2" y1="192.3" x2="132.2" y2="194.10000000000002" stroke="#777" stroke-width="0.6"/>
<text x="132.2" y="197.9" font-size="3.6" text-anchor="middle" fill="#222">10<tspan font-size="2.4" dy="-1">3</tspan></text>
<line x1="147.6" y1="192.3" x2="147.6" y2="194.10000000000002" stroke="#777" stroke-width="0.6"/>
<text x="147.6" y="197.9" font-size="3.6" text-anchor="middle" fill="#222">10<tspan font-size="2.4" dy="-1">4</tspan></text>
<line x1="162.6" y1="192.3" x2="162.6" y2="194.10000000000002" stroke="#777" stroke-width="0.6"/>
<text x="162.6" y="197.9" font-size="3.6" text-anchor="middle" fill="#222">10<tspan font-size="2.4" dy="-1">5</tspan></text>
<text x="133.9" y="201.9" font-size="3.3" text-anchor="middle" fill="#222">FITC-A CFSE</text>
<text x="109.2" y="141.6" font-size="7.6" text-anchor="start" fill="#111" class="b">19.3</text>
<polyline points="181.80,191.70 182.05,191.70 182.30,191.70 182.55,191.69 182.80,191.69 183.05,191.69 183.30,191.69 183.55,191.68 183.80,191.68 184.05,191.67 184.30,191.67 184.55,191.66 184.80,191.65 185.05,191.64 185.30,191.62 185.55,191.60 185.80,191.58 186.05,191.55 186.30,191.52 186.55,191.49 186.80,191.45 187.05,191.41 187.30,191.36 187.55,191.32 187.80,191.28 188.05,191.24 188.30,191.21 188.55,191.18 188.80,191.15 189.05,191.13 189.30,191.11 189.55,191.09 189.80,191.08 190.05,191.07 190.30,191.06 190.55,191.05 190.80,191.05 191.05,191.05 191.30,191.04 191.55,191.04 191.80,191.04 192.05,191.04 192.30,191.03 192.55,191.03 192.80,191.03 193.05,191.03 193.30,191.03 193.55,191.03 193.80,191.03 194.05,191.03 194.30,191.03 194.55,191.03 194.80,191.03 195.05,191.03 195.30,191.03 195.55,191.03 195.80,191.03 196.05,191.03 196.30,191.03 196.55,191.03 196.80,191.03 197.05,191.03 197.30,191.03 197.55,191.03 197.80,191.03 198.05,191.03 198.30,191.03 198.55,191.03 198.80,191.03 199.05,191.03 199.30,191.03 199.55,191.03 199.80,191.03 200.05,191.03 200.30,191.03 200.55,191.03 200.80,191.03 201.05,191.03 201.30,191.03 201.55,191.03 201.80,191.03 202.05,191.03 202.30,191.03 202.55,191.03 202.80,191.03 203.05,191.03 203.30,191.03 203.55,191.03 203.80,191.03 204.05,191.03 204.30,191.03 204.55,191.03 204.80,191.03 205.05,191.03 205.30,191.03 205.55,191.03 205.80,191.03 206.05,191.03 206.30,191.03 206.55,191.03 206.80,191.03 207.05,191.03 207.30,191.03 207.55,191.03 207.80,191.03 208.05,191.03 208.30,191.03 208.55,191.03 208.80,191.03 209.05,191.03 209.30,191.03 209.55,191.03 209.80,191.03 210.05,191.03 210.30,191.03 210.55,191.03 210.80,191.03 211.05,191.03 211.30,191.03 211.55,191.03 211.80,191.03 212.05,191.03 212.30,191.03 212.55,191.03 212.80,191.03 213.05,191.03 213.30,191.03 213.55,191.03 213.80,191.03 214.05,191.03 214.30,191.03 214.55,191.03 214.80,191.03 215.05,191.03 215.30,191.03 215.55,191.03 215.80,191.03 216.05,191.03 216.30,191.03 216.55,191.03 216.80,191.03 217.05,191.03 217.30,191.03 217.55,191.03 217.80,191.03 218.05,191.03 218.30,191.03 218.55,191.03 218.80,191.03 219.05,191.02 219.30,191.02 219.55,191.01 219.80,191.00 220.05,190.98 220.30,190.95 220.55,190.91 220.80,190.86 221.05,190.78 221.30,190.69 221.55,190.56 221.80,190.41 222.05,190.24 222.30,190.03 222.55,189.79 222.80,189.54 223.05,189.28 223.30,189.01 223.55,188.75 223.80,188.51 224.05,188.29 224.30,188.10 224.55,187.94 224.80,187.79 225.05,187.63 225.30,187.42 225.55,187.10 225.80,186.57 226.05,185.72 226.30,184.41 226.55,182.46 226.80,179.73 227.05,176.05 227.30,171.36 227.55,165.68 227.80,159.20 228.05,152.25 228.30,145.31 228.55,138.97 228.80,133.85 229.05,130.48 229.30,129.25 229.55,128.70 229.80,131.96 230.05,136.99 230.30,143.26 230.55,150.18 230.80,157.14 231.05,163.69 231.30,169.48 231.55,174.35 231.80,178.26 232.05,181.28 232.30,183.55 232.55,185.23 232.80,186.45 233.05,187.36 233.30,188.04 233.55,188.58 233.80,189.02 234.05,189.39 234.30,189.70 234.55,189.98 234.80,190.22 235.05,190.43 235.30,190.61 235.55,190.77 235.80,190.90 236.05,191.02 236.30,191.11 236.55,191.20 236.80,191.26 237.05,191.32 237.30,191.37 237.55,191.41 237.80,191.44 238.05,191.47 238.30,191.49 238.55,191.51 238.80,191.53 239.05,191.54 239.30,191.55 239.55,191.56 239.80,191.57 240.05,191.58 240.30,191.59 240.55,191.60 240.80,191.60 241.05,191.61 241.30,191.62 241.55,191.62 241.80,191.63 242.05,191.63 242.30,191.63 242.55,191.64 242.80,191.64 243.05,191.65 243.30,191.65 243.55,191.65 243.80,191.66 244.05,191.66 244.30,191.66 244.55,191.66 244.80,191.67 245.05,191.67 245.30,191.67 245.55,191.67 245.80,191.67 246.05,191.67 246.30,191.68 246.55,191.68 246.80,191.68 247.05,191.68 247.30,191.68 247.55,191.68 247.80,191.68 248.05,191.68" fill="none" stroke="#7a7a7a" stroke-width="0.9"/>
<line x1="186.4" y1="190.5" x2="225.9" y2="190.5" stroke="#333" stroke-width="1.1"/>
<line x1="186.4" y1="189.3" x2="186.4" y2="191.1" stroke="#333" stroke-width="0.6"/>
<line x1="225.9" y1="189.3" x2="225.9" y2="191.1" stroke="#333" stroke-width="0.6"/>
<text x="206.15" y="188.3" font-size="3.6" text-anchor="middle" fill="#555">15</text>
<rect x="181.3" y="124.4" width="67.29999999999998" height="67.9" fill="none" stroke="#8a8a8a" stroke-width="0.9"/>
<line x1="179.5" y1="148.0" x2="181.3" y2="148.0" stroke="#777" stroke-width="0.6"/>
<text x="178.8" y="149.2" font-size="3.6" text-anchor="end" fill="#222">600</text>
<line x1="179.5" y1="162.7" x2="181.3" y2="162.7" stroke="#777" stroke-width="0.6"/>
<text x="178.8" y="163.89999999999998" font-size="3.6" text-anchor="end" fill="#222">400</text>
<line x1="179.5" y1="177.5" x2="181.3" y2="177.5" stroke="#777" stroke-width="0.6"/>
<text x="178.8" y="178.7" font-size="3.6" text-anchor="end" fill="#222">200</text>
<line x1="179.5" y1="192.3" x2="181.3" y2="192.3" stroke="#777" stroke-width="0.6"/>
<text x="178.8" y="193.5" font-size="3.6" text-anchor="end" fill="#222">0</text>
<line x1="188.8" y1="192.3" x2="188.8" y2="194.10000000000002" stroke="#777" stroke-width="0.6"/>
<text x="188.8" y="197.9" font-size="3.6" text-anchor="middle" fill="#222">0</text>
<line x1="195.3" y1="192.3" x2="195.3" y2="194.10000000000002" stroke="#777" stroke-width="0.6"/>
<text x="195.3" y="197.9" font-size="3.6" text-anchor="middle" fill="#222">10<tspan font-size="2.4" dy="-1">2</tspan></text>
<line x1="212.20000000000002" y1="192.3" x2="212.20000000000002" y2="194.10000000000002" stroke="#777" stroke-width="0.6"/>
<text x="212.20000000000002" y="197.9" font-size="3.6" text-anchor="middle" fill="#222">10<tspan font-size="2.4" dy="-1">3</tspan></text>
<line x1="227.60000000000002" y1="192.3" x2="227.60000000000002" y2="194.10000000000002" stroke="#777" stroke-width="0.6"/>
<text x="227.60000000000002" y="197.9" font-size="3.6" text-anchor="middle" fill="#222">10<tspan font-size="2.4" dy="-1">4</tspan></text>
<line x1="242.60000000000002" y1="192.3" x2="242.60000000000002" y2="194.10000000000002" stroke="#777" stroke-width="0.6"/>
<text x="242.60000000000002" y="197.9" font-size="3.6" text-anchor="middle" fill="#222">10<tspan font-size="2.4" dy="-1">5</tspan></text>
<text x="213.95" y="201.9" font-size="3.3" text-anchor="middle" fill="#222">FITC-A CFSE</text>
<text x="191.3" y="141.6" font-size="7.6" text-anchor="start" fill="#111" class="b">15</text>
<polyline points="287.40,191.70 287.65,191.70 287.90,191.70 288.15,191.69 288.40,191.69 288.65,191.69 288.90,191.69 289.15,191.68 289.40,191.68 289.65,191.68 289.90,191.67 290.15,191.66 290.40,191.65 290.65,191.64 290.90,191.62 291.15,191.60 291.40,191.58 291.65,191.55 291.90,191.52 292.15,191.49 292.40,191.45 292.65,191.41 292.90,191.37 293.15,191.32 293.40,191.28 293.65,191.25 293.90,191.21 294.15,191.18 294.40,191.15 294.65,191.13 294.90,191.11 295.15,191.10 295.40,191.08 295.65,191.07 295.90,191.06 296.15,191.06 296.40,191.05 296.65,191.05 296.90,191.04 297.15,191.04 297.40,191.04 297.65,191.04 297.90,191.04 298.15,191.04 298.40,191.04 298.65,191.03 298.90,191.03 299.15,191.03 299.40,191.03 299.65,191.03 299.90,191.03 300.15,191.03 300.40,191.03 300.65,191.03 300.90,191.03 301.15,191.03 301.40,191.03 301.65,191.03 301.90,191.03 302.15,191.03 302.40,191.03 302.65,191.03 302.90,191.03 303.15,191.03 303.40,191.03 303.65,191.03 303.90,191.03 304.15,191.03 304.40,191.03 304.65,191.03 304.90,191.03 305.15,191.03 305.40,191.03 305.65,191.03 305.90,191.03 306.15,191.03 306.40,191.03 306.65,191.03 306.90,191.03 307.15,191.03 307.40,191.03 307.65,191.03 307.90,191.03 308.15,191.03 308.40,191.03 308.65,191.03 308.90,191.03 309.15,191.03 309.40,191.03 309.65,191.03 309.90,191.03 310.15,191.03 310.40,191.03 310.65,191.03 310.90,191.03 311.15,191.03 311.40,191.03 311.65,191.03 311.90,191.03 312.15,191.03 312.40,191.03 312.65,191.03 312.90,191.03 313.15,191.03 313.40,191.03 313.65,191.03 313.90,191.03 314.15,191.03 314.40,191.03 314.65,191.03 314.90,191.03 315.15,191.03 315.40,191.03 315.65,191.03 315.90,191.03 316.15,191.03 316.40,191.03 316.65,191.03 316.90,191.03 317.15,191.03 317.40,191.03 317.65,191.03 317.90,191.03 318.15,191.03 318.40,191.03 318.65,191.03 318.90,191.03 319.15,191.03 319.40,191.03 319.65,191.03 319.90,191.03 320.15,191.03 320.40,191.03 320.65,191.03 320.90,191.03 321.15,191.03 321.40,191.03 321.65,191.03 321.90,191.03 322.15,191.03 322.40,191.03 322.65,191.03 322.90,191.03 323.15,191.03 323.40,191.03 323.65,191.03 323.90,191.03 324.15,191.03 324.40,191.03 324.65,191.03 324.90,191.03 325.15,191.03 325.40,191.03 325.65,191.03 325.90,191.03 326.15,191.02 326.40,191.02 326.65,191.01 326.90,191.00 327.15,190.99 327.40,190.98 327.65,190.96 327.90,190.93 328.15,190.90 328.40,190.86 328.65,190.81 328.90,190.75 329.15,190.67 329.40,190.57 329.65,190.46 329.90,190.30 330.15,190.10 330.40,189.83 330.65,189.45 330.90,188.91 331.15,188.12 331.40,186.97 331.65,185.33 331.90,183.03 332.15,179.93 332.40,175.90 332.65,170.87 332.90,164.92 333.15,158.24 333.40,151.19 333.65,144.30 333.90,138.14 334.15,133.32 334.40,130.35 334.65,127.90 334.90,129.46 335.15,133.09 335.40,138.39 335.65,144.81 335.90,151.74 336.15,158.63 336.40,165.03 336.65,170.62 336.90,175.28 337.15,178.98 337.40,181.83 337.65,183.96 337.90,185.53 338.15,186.67 338.40,187.52 338.65,188.17 338.90,188.69 339.15,189.11 339.40,189.46 339.65,189.77 339.90,190.04 340.15,190.27 340.40,190.47 340.65,190.65 340.90,190.80 341.15,190.93 341.40,191.04 341.65,191.13 341.90,191.21 342.15,191.28 342.40,191.33 342.65,191.38 342.90,191.42 343.15,191.45 343.40,191.47 343.65,191.50 343.90,191.52 344.15,191.53 344.40,191.54 344.65,191.56 344.90,191.57 345.15,191.58 345.40,191.59 345.65,191.59 345.90,191.60 346.15,191.61 346.40,191.61 346.65,191.62 346.90,191.62 347.15,191.63 347.40,191.63 347.65,191.64 347.90,191.64 348.15,191.64 348.40,191.65 348.65,191.65 348.90,191.65 349.15,191.66 349.40,191.66 349.65,191.66 349.90,191.66 350.15,191.67 350.40,191.67 350.65,191.67 350.90,191.67 351.15,191.67 351.40,191.67 351.65,191.68 351.90,191.68 352.15,191.68 352.40,191.68 352.65,191.68 352.90,191.68 353.15,191.68 353.40,191.68 353.65,191.69 353.90,191.69 354.15,191.69" fill="none" stroke="#7a7a7a" stroke-width="0.9"/>
<line x1="292.0" y1="190.5" x2="331.20000000000005" y2="190.5" stroke="#333" stroke-width="1.1"/>
<line x1="292.0" y1="189.3" x2="292.0" y2="191.1" stroke="#333" stroke-width="0.6"/>
<line x1="331.20000000000005" y1="189.3" x2="331.20000000000005" y2="191.1" stroke="#333" stroke-width="0.6"/>
<text x="311.6" y="188.3" font-size="3.6" text-anchor="middle" fill="#555">6.97</text>
<rect x="286.9" y="124.4" width="67.60000000000002" height="67.9" fill="none" stroke="#8a8a8a" stroke-width="0.9"/>
<line x1="285.09999999999997" y1="134.9" x2="286.9" y2="134.9" stroke="#777" stroke-width="0.6"/>
<text x="284.4" y="136.1" font-size="3.6" text-anchor="end" fill="#222">150</text>
<line x1="285.09999999999997" y1="152.5" x2="286.9" y2="152.5" stroke="#777" stroke-width="0.6"/>
<text x="284.4" y="153.7" font-size="3.6" text-anchor="end" fill="#222">100</text>
<line x1="285.09999999999997" y1="172.2" x2="286.9" y2="172.2" stroke="#777" stroke-width="0.6"/>
<text x="284.4" y="173.39999999999998" font-size="3.6" text-anchor="end" fill="#222">50</text>
<line x1="285.09999999999997" y1="191.8" x2="286.9" y2="191.8" stroke="#777" stroke-width="0.6"/>
<text x="284.4" y="193.0" font-size="3.6" text-anchor="end" fill="#222">0</text>
<line x1="294.4" y1="192.3" x2="294.4" y2="194.10000000000002" stroke="#777" stroke-width="0.6"/>
<text x="294.4" y="197.9" font-size="3.6" text-anchor="middle" fill="#222">0</text>
<line x1="300.9" y1="192.3" x2="300.9" y2="194.10000000000002" stroke="#777" stroke-width="0.6"/>
<text x="300.9" y="197.9" font-size="3.6" text-anchor="middle" fill="#222">10<tspan font-size="2.4" dy="-1">2</tspan></text>
<line x1="317.79999999999995" y1="192.3" x2="317.79999999999995" y2="194.10000000000002" stroke="#777" stroke-width="0.6"/>
<text x="317.79999999999995" y="197.9" font-size="3.6" text-anchor="middle" fill="#222">10<tspan font-size="2.4" dy="-1">3</tspan></text>
<line x1="333.2" y1="192.3" x2="333.2" y2="194.10000000000002" stroke="#777" stroke-width="0.6"/>
<text x="333.2" y="197.9" font-size="3.6" text-anchor="middle" fill="#222">10<tspan font-size="2.4" dy="-1">4</tspan></text>
<line x1="348.2" y1="192.3" x2="348.2" y2="194.10000000000002" stroke="#777" stroke-width="0.6"/>
<text x="348.2" y="197.9" font-size="3.6" text-anchor="middle" fill="#222">10<tspan font-size="2.4" dy="-1">5</tspan></text>
<text x="319.7" y="201.9" font-size="3.3" text-anchor="middle" fill="#222">FITC-A CFSE</text>
<text x="294.2" y="141.6" font-size="7.6" text-anchor="start" fill="#111" class="b">6.97</text>
<polyline points="369.00,191.70 369.25,191.70 369.50,191.70 369.75,191.69 370.00,191.69 370.25,191.69 370.50,191.69 370.75,191.68 371.00,191.68 371.25,191.68 371.50,191.67 371.75,191.66 372.00,191.65 372.25,191.64 372.50,191.62 372.75,191.60 373.00,191.58 373.25,191.55 373.50,191.52 373.75,191.49 374.00,191.45 374.25,191.41 374.50,191.37 374.75,191.32 375.00,191.28 375.25,191.25 375.50,191.21 375.75,191.18 376.00,191.15 376.25,191.13 376.50,191.11 376.75,191.09 377.00,191.08 377.25,191.07 377.50,191.06 377.75,191.06 378.00,191.05 378.25,191.05 378.50,191.04 378.75,191.04 379.00,191.04 379.25,191.04 379.50,191.03 379.75,191.03 380.00,191.03 380.25,191.03 380.50,191.03 380.75,191.03 381.00,191.03 381.25,191.03 381.50,191.03 381.75,191.03 382.00,191.03 382.25,191.03 382.50,191.03 382.75,191.03 383.00,191.03 383.25,191.03 383.50,191.03 383.75,191.03 384.00,191.03 384.25,191.03 384.50,191.03 384.75,191.03 385.00,191.03 385.25,191.03 385.50,191.03 385.75,191.03 386.00,191.03 386.25,191.03 386.50,191.03 386.75,191.03 387.00,191.03 387.25,191.03 387.50,191.03 387.75,191.03 388.00,191.03 388.25,191.03 388.50,191.03 388.75,191.03 389.00,191.03 389.25,191.03 389.50,191.03 389.75,191.03 390.00,191.03 390.25,191.03 390.50,191.03 390.75,191.03 391.00,191.03 391.25,191.03 391.50,191.03 391.75,191.03 392.00,191.03 392.25,191.03 392.50,191.03 392.75,191.03 393.00,191.03 393.25,191.03 393.50,191.03 393.75,191.03 394.00,191.03 394.25,191.03 394.50,191.03 394.75,191.03 395.00,191.03 395.25,191.03 395.50,191.03 395.75,191.03 396.00,191.03 396.25,191.03 396.50,191.03 396.75,191.03 397.00,191.03 397.25,191.03 397.50,191.03 397.75,191.03 398.00,191.03 398.25,191.03 398.50,191.03 398.75,191.03 399.00,191.03 399.25,191.03 399.50,191.03 399.75,191.03 400.00,191.03 400.25,191.03 400.50,191.03 400.75,191.03 401.00,191.03 401.25,191.03 401.50,191.03 401.75,191.03 402.00,191.03 402.25,191.03 402.50,191.03 402.75,191.03 403.00,191.03 403.25,191.03 403.50,191.03 403.75,191.03 404.00,191.03 404.25,191.03 404.50,191.03 404.75,191.03 405.00,191.03 405.25,191.03 405.50,191.02 405.75,191.02 406.00,191.01 406.25,190.99 406.50,190.97 406.75,190.93 407.00,190.87 407.25,190.79 407.50,190.68 407.75,190.52 408.00,190.31 408.25,190.04 408.50,189.69 408.75,189.27 409.00,188.78 409.25,188.21 409.50,187.59 409.75,186.93 410.00,186.25 410.25,185.59 410.50,184.98 410.75,184.46 411.00,184.04 411.25,183.75 411.50,183.60 411.75,183.57 412.00,183.63 412.25,183.73 412.50,183.79 412.75,183.71 413.00,183.35 413.25,182.56 413.50,181.15 413.75,178.93 414.00,175.77 414.25,171.54 414.50,166.28 414.75,160.11 415.00,153.35 415.25,146.46 415.50,140.03 415.75,134.68 416.00,130.96 416.25,129.30 416.50,128.30 416.75,131.16 417.00,135.88 417.25,141.96 417.50,148.79 417.75,155.78 418.00,162.45 418.25,168.41 418.50,173.46 418.75,177.56 419.00,180.75 419.25,183.16 419.50,184.93 419.75,186.24 420.00,187.20 420.25,187.92 420.50,188.48 420.75,188.94 421.00,189.32 421.25,189.64 421.50,189.93 421.75,190.17 422.00,190.39 422.25,190.58 422.50,190.74 422.75,190.88 423.00,191.00 423.25,191.10 423.50,191.18 423.75,191.25 424.00,191.31 424.25,191.36 424.50,191.40 424.75,191.44 425.00,191.46 425.25,191.49 425.50,191.51 425.75,191.52 426.00,191.54 426.25,191.55 426.50,191.56 426.75,191.57 427.00,191.58 427.25,191.59 427.50,191.60 427.75,191.60 428.00,191.61 428.25,191.62 428.50,191.62 428.75,191.63 429.00,191.63 429.25,191.63 429.50,191.64 429.75,191.64 430.00,191.65 430.25,191.65 430.50,191.65 430.75,191.65 431.00,191.66 431.25,191.66 431.50,191.66 431.75,191.66 432.00,191.67 432.25,191.67 432.50,191.67 432.75,191.67 433.00,191.67 433.25,191.68 433.50,191.68 433.75,191.68 434.00,191.68 434.25,191.68 434.50,191.68 434.75,191.68 435.00,191.68 435.25,191.69 435.50,191.69 435.75,191.69" fill="none" stroke="#7a7a7a" stroke-width="0.9"/>
<line x1="373.6" y1="190.5" x2="412.90000000000003" y2="190.5" stroke="#333" stroke-width="1.1"/>
<line x1="373.6" y1="189.3" x2="373.6" y2="191.1" stroke="#333" stroke-width="0.6"/>
<line x1="412.90000000000003" y1="189.3" x2="412.90000000000003" y2="191.1" stroke="#333" stroke-width="0.6"/>
<text x="393.25" y="188.3" font-size="3.6" text-anchor="middle" fill="#555">21.2</text>
<rect x="368.5" y="124.4" width="67.80000000000001" height="67.9" fill="none" stroke="#8a8a8a" stroke-width="0.9"/>
<line x1="366.7" y1="129.5" x2="368.5" y2="129.5" stroke="#777" stroke-width="0.6"/>
<text x="366.0" y="130.7" font-size="3.6" text-anchor="end" fill="#222">400</text>
<line x1="366.7" y1="145.0" x2="368.5" y2="145.0" stroke="#777" stroke-width="0.6"/>
<text x="366.0" y="146.2" font-size="3.6" text-anchor="end" fill="#222">300</text>
<line x1="366.7" y1="160.7" x2="368.5" y2="160.7" stroke="#777" stroke-width="0.6"/>
<text x="366.0" y="161.89999999999998" font-size="3.6" text-anchor="end" fill="#222">200</text>
<line x1="366.7" y1="176.3" x2="368.5" y2="176.3" stroke="#777" stroke-width="0.6"/>
<text x="366.0" y="177.5" font-size="3.6" text-anchor="end" fill="#222">100</text>
<line x1="366.7" y1="191.8" x2="368.5" y2="191.8" stroke="#777" stroke-width="0.6"/>
<text x="366.0" y="193.0" font-size="3.6" text-anchor="end" fill="#222">0</text>
<line x1="376.0" y1="192.3" x2="376.0" y2="194.10000000000002" stroke="#777" stroke-width="0.6"/>
<text x="376.0" y="197.9" font-size="3.6" text-anchor="middle" fill="#222">0</text>
<line x1="382.5" y1="192.3" x2="382.5" y2="194.10000000000002" stroke="#777" stroke-width="0.6"/>
<text x="382.5" y="197.9" font-size="3.6" text-anchor="middle" fill="#222">10<tspan font-size="2.4" dy="-1">2</tspan></text>
<line x1="399.4" y1="192.3" x2="399.4" y2="194.10000000000002" stroke="#777" stroke-width="0.6"/>
<text x="399.4" y="197.9" font-size="3.6" text-anchor="middle" fill="#222">10<tspan font-size="2.4" dy="-1">3</tspan></text>
<line x1="414.8" y1="192.3" x2="414.8" y2="194.10000000000002" stroke="#777" stroke-width="0.6"/>
<text x="414.8" y="197.9" font-size="3.6" text-anchor="middle" fill="#222">10<tspan font-size="2.4" dy="-1">4</tspan></text>
<line x1="429.8" y1="192.3" x2="429.8" y2="194.10000000000002" stroke="#777" stroke-width="0.6"/>
<text x="429.8" y="197.9" font-size="3.6" text-anchor="middle" fill="#222">10<tspan font-size="2.4" dy="-1">5</tspan></text>
<text x="401.4" y="201.9" font-size="3.3" text-anchor="middle" fill="#222">FITC-A CFSE</text>
<text x="374.2" y="141.6" font-size="7.6" text-anchor="start" fill="#111" class="b">21.2</text>
<polyline points="449.50,191.70 449.75,191.70 450.00,191.70 450.25,191.69 450.50,191.69 450.75,191.69 451.00,191.69 451.25,191.68 451.50,191.68 451.75,191.68 452.00,191.67 452.25,191.66 452.50,191.65 452.75,191.64 453.00,191.62 453.25,191.60 453.50,191.58 453.75,191.55 454.00,191.52 454.25,191.49 454.50,191.45 454.75,191.41 455.00,191.37 455.25,191.33 455.50,191.29 455.75,191.25 456.00,191.22 456.25,191.19 456.50,191.16 456.75,191.14 457.00,191.12 457.25,191.10 457.50,191.09 457.75,191.08 458.00,191.07 458.25,191.06 458.50,191.06 458.75,191.05 459.00,191.05 459.25,191.05 459.50,191.05 459.75,191.04 460.00,191.04 460.25,191.04 460.50,191.04 460.75,191.04 461.00,191.04 461.25,191.04 461.50,191.04 461.75,191.04 462.00,191.04 462.25,191.04 462.50,191.04 462.75,191.04 463.00,191.04 463.25,191.04 463.50,191.04 463.75,191.04 464.00,191.04 464.25,191.04 464.50,191.04 464.75,191.04 465.00,191.04 465.25,191.04 465.50,191.04 465.75,191.04 466.00,191.04 466.25,191.04 466.50,191.04 466.75,191.04 467.00,191.04 467.25,191.04 467.50,191.04 467.75,191.04 468.00,191.04 468.25,191.04 468.50,191.04 468.75,191.04 469.00,191.04 469.25,191.04 469.50,191.04 469.75,191.04 470.00,191.04 470.25,191.04 470.50,191.04 470.75,191.04 471.00,191.04 471.25,191.04 471.50,191.04 471.75,191.04 472.00,191.04 472.25,191.04 472.50,191.04 472.75,191.04 473.00,191.04 473.25,191.04 473.50,191.04 473.75,191.04 474.00,191.04 474.25,191.04 474.50,191.04 474.75,191.04 475.00,191.04 475.25,191.04 475.50,191.04 475.75,191.04 476.00,191.04 476.25,191.04 476.50,191.04 476.75,191.04 477.00,191.04 477.25,191.04 477.50,191.04 477.75,191.04 478.00,191.04 478.25,191.04 478.50,191.04 478.75,191.04 479.00,191.04 479.25,191.04 479.50,191.04 479.75,191.04 480.00,191.04 480.25,191.04 480.50,191.04 480.75,191.04 481.00,191.04 481.25,191.04 481.50,191.04 481.75,191.04 482.00,191.04 482.25,191.04 482.50,191.04 482.75,191.04 483.00,191.04 483.25,191.04 483.50,191.04 483.75,191.04 484.00,191.04 484.25,191.04 484.50,191.04 484.75,191.04 485.00,191.04 485.25,191.04 485.50,191.04 485.75,191.03 486.00,191.03 486.25,191.03 486.50,191.02 486.75,191.00 487.00,190.98 487.25,190.96 487.50,190.91 487.75,190.86 488.00,190.78 488.25,190.67 488.50,190.54 488.75,190.38 489.00,190.19 489.25,189.96 489.50,189.71 489.75,189.43 490.00,189.14 490.25,188.85 490.50,188.57 490.75,188.32 491.00,188.10 491.25,187.92 491.50,187.80 491.75,187.71 492.00,187.66 492.25,187.62 492.50,187.56 492.75,187.42 493.00,187.14 493.25,186.62 493.50,185.74 493.75,184.35 494.00,182.29 494.25,179.41 494.50,175.57 494.75,170.72 495.00,164.92 495.25,158.38 495.50,151.46 495.75,144.67 496.00,138.60 496.25,133.84 496.50,130.91 496.75,128.50 497.00,130.05 497.25,133.65 497.50,138.90 497.75,145.26 498.00,152.13 498.25,158.95 498.50,165.28 498.75,170.82 499.00,175.43 499.25,179.11 499.50,181.93 499.75,184.04 500.00,185.59 500.25,186.72 500.50,187.56 500.75,188.21 501.00,188.72 501.25,189.13 501.50,189.48 501.75,189.79 502.00,190.05 502.25,190.28 502.50,190.48 502.75,190.66 503.00,190.81 503.25,190.94 503.50,191.05 503.75,191.14 504.00,191.22 504.25,191.28 504.50,191.34 504.75,191.38 505.00,191.42 505.25,191.45 505.50,191.48 505.75,191.50 506.00,191.52 506.25,191.53 506.50,191.55 506.75,191.56 507.00,191.57 507.25,191.58 507.50,191.59 507.75,191.59 508.00,191.60 508.25,191.61 508.50,191.61 508.75,191.62 509.00,191.62 509.25,191.63 509.50,191.63 509.75,191.64 510.00,191.64 510.25,191.64 510.50,191.65 510.75,191.65 511.00,191.65 511.25,191.66 511.50,191.66 511.75,191.66 512.00,191.66 512.25,191.67 512.50,191.67 512.75,191.67 513.00,191.67 513.25,191.67 513.50,191.68 513.75,191.68 514.00,191.68 514.25,191.68 514.50,191.68 514.75,191.68 515.00,191.68 515.25,191.68 515.50,191.68 515.75,191.69 516.00,191.69" fill="none" stroke="#7a7a7a" stroke-width="0.9"/>
<line x1="454.1" y1="190.5" x2="493.3" y2="190.5" stroke="#333" stroke-width="1.1"/>
<line x1="454.1" y1="189.3" x2="454.1" y2="191.1" stroke="#333" stroke-width="0.6"/>
<line x1="493.3" y1="189.3" x2="493.3" y2="191.1" stroke="#333" stroke-width="0.6"/>
<text x="473.70000000000005" y="188.3" font-size="3.6" text-anchor="middle" fill="#555">16.6</text>
<rect x="449.0" y="124.4" width="67.5" height="67.9" fill="none" stroke="#8a8a8a" stroke-width="0.9"/>
<line x1="447.2" y1="133.3" x2="449.0" y2="133.3" stroke="#777" stroke-width="0.6"/>
<text x="446.5" y="134.5" font-size="3.6" text-anchor="end" fill="#222">300</text>
<line x1="447.2" y1="152.5" x2="449.0" y2="152.5" stroke="#777" stroke-width="0.6"/>
<text x="446.5" y="153.7" font-size="3.6" text-anchor="end" fill="#222">200</text>
<line x1="447.2" y1="172.2" x2="449.0" y2="172.2" stroke="#777" stroke-width="0.6"/>
<text x="446.5" y="173.39999999999998" font-size="3.6" text-anchor="end" fill="#222">100</text>
<line x1="447.2" y1="191.8" x2="449.0" y2="191.8" stroke="#777" stroke-width="0.6"/>
<text x="446.5" y="193.0" font-size="3.6" text-anchor="end" fill="#222">0</text>
<line x1="456.5" y1="192.3" x2="456.5" y2="194.10000000000002" stroke="#777" stroke-width="0.6"/>
<text x="456.5" y="197.9" font-size="3.6" text-anchor="middle" fill="#222">0</text>
<line x1="463.0" y1="192.3" x2="463.0" y2="194.10000000000002" stroke="#777" stroke-width="0.6"/>
<text x="463.0" y="197.9" font-size="3.6" text-anchor="middle" fill="#222">10<tspan font-size="2.4" dy="-1">2</tspan></text>
<line x1="479.9" y1="192.3" x2="479.9" y2="194.10000000000002" stroke="#777" stroke-width="0.6"/>
<text x="479.9" y="197.9" font-size="3.6" text-anchor="middle" fill="#222">10<tspan font-size="2.4" dy="-1">3</tspan></text>
<line x1="495.3" y1="192.3" x2="495.3" y2="194.10000000000002" stroke="#777" stroke-width="0.6"/>
<text x="495.3" y="197.9" font-size="3.6" text-anchor="middle" fill="#222">10<tspan font-size="2.4" dy="-1">4</tspan></text>
<line x1="510.3" y1="192.3" x2="510.3" y2="194.10000000000002" stroke="#777" stroke-width="0.6"/>
<text x="510.3" y="197.9" font-size="3.6" text-anchor="middle" fill="#222">10<tspan font-size="2.4" dy="-1">5</tspan></text>
<text x="481.75" y="201.9" font-size="3.3" text-anchor="middle" fill="#222">FITC-A CFSE</text>
<text x="458.0" y="141.6" font-size="7.6" text-anchor="start" fill="#111" class="b">16.6</text>
<line x1="49.9" y1="237.6" x2="49.9" y2="368.5" stroke="#000" stroke-width="1.9"/>
<line x1="48.949999999999996" y1="367.7" x2="244.8" y2="367.7" stroke="#000" stroke-width="1.6"/>
<line x1="45.699999999999996" y1="367.7" x2="49.9" y2="367.7" stroke="#000" stroke-width="1.5"/>
<text transform="translate(44.8,371.7) scale(0.93,1)" font-size="11.5" text-anchor="end" fill="#111" class="b">0</text>
<line x1="45.699999999999996" y1="324.3333333333333" x2="49.9" y2="324.3333333333333" stroke="#000" stroke-width="1.5"/>
<text transform="translate(44.8,328.3333333333333) scale(0.93,1)" font-size="11.5" text-anchor="end" fill="#111" class="b">5</text>
<line x1="45.699999999999996" y1="280.96666666666664" x2="49.9" y2="280.96666666666664" stroke="#000" stroke-width="1.5"/>
<text transform="translate(44.8,284.96666666666664) scale(0.93,1)" font-size="11.5" text-anchor="end" fill="#111" class="b">10</text>
<line x1="45.699999999999996" y1="237.6" x2="49.9" y2="237.6" stroke="#000" stroke-width="1.5"/>
<text transform="translate(44.8,241.6) scale(0.93,1)" font-size="11.5" text-anchor="end" fill="#111" class="b">15</text>
<line x1="60.05" y1="350.8" x2="60.05" y2="337.2" stroke="#000" stroke-width="1.3"/>
<line x1="56.449999999999996" y1="337.2" x2="63.65" y2="337.2" stroke="#000" stroke-width="1.3"/>
<rect x="54.05" y="350.8" width="12.0" height="16.899999999999977" fill="#fff" stroke="#000" stroke-width="1.5"/>
<line x1="79.45" y1="291.0" x2="79.45" y2="275.6" stroke="#000" stroke-width="1.3"/>
<line x1="75.85000000000001" y1="275.6" x2="83.05" y2="275.6" stroke="#000" stroke-width="1.3"/>
<rect x="73.15" y="291.0" width="12.599999999999994" height="76.69999999999999" fill="#5a5a5a" stroke="#000" stroke-width="1.5"/>
<polygon points="79.00,258.25 79.68,259.92 81.47,260.05 80.09,261.21 80.53,262.95 79.00,262.00 77.47,262.95 77.91,261.21 76.53,260.05 78.32,259.92" fill="#111" stroke="#111" stroke-width="0.4" stroke-linejoin="round"/>
<line x1="111.55" y1="351.4" x2="111.55" y2="338.7" stroke="#000" stroke-width="1.3"/>
<line x1="107.95" y1="338.7" x2="115.14999999999999" y2="338.7" stroke="#000" stroke-width="1.3"/>
<rect x="105.55" y="351.4" width="12.0" height="16.30000000000001" fill="#fff" stroke="#000" stroke-width="1.5"/>
<line x1="131.3" y1="301.0" x2="131.3" y2="289.7" stroke="#000" stroke-width="1.3"/>
<line x1="127.70000000000002" y1="289.7" x2="134.9" y2="289.7" stroke="#000" stroke-width="1.3"/>
<rect x="124.95" y="301.0" width="12.700000000000003" height="66.69999999999999" fill="#5a5a5a" stroke="#000" stroke-width="1.5"/>
<polygon points="130.80,273.05 131.48,274.72 133.27,274.85 131.89,276.01 132.33,277.75 130.80,276.80 129.27,277.75 129.71,276.01 128.33,274.85 130.12,274.72" fill="#111" stroke="#111" stroke-width="0.4" stroke-linejoin="round"/>
<line x1="163.8" y1="349.4" x2="163.8" y2="340.6" stroke="#000" stroke-width="1.3"/>
<line x1="160.20000000000002" y1="340.6" x2="167.4" y2="340.6" stroke="#000" stroke-width="1.3"/>
<rect x="157.75" y="349.4" width="12.099999999999994" height="18.30000000000001" fill="#fff" stroke="#000" stroke-width="1.5"/>
<line x1="183.1" y1="325.2" x2="183.1" y2="317.3" stroke="#000" stroke-width="1.3"/>
<line x1="179.5" y1="317.3" x2="186.7" y2="317.3" stroke="#000" stroke-width="1.3"/>
<rect x="176.75" y="325.2" width="12.699999999999989" height="42.5" fill="#5a5a5a" stroke="#000" stroke-width="1.5"/>
<line x1="183.4" y1="296.0" x2="183.4" y2="307.0" stroke="#111" stroke-width="1.35"/>
<line x1="180.1" y1="298.9" x2="186.70000000000002" y2="298.9" stroke="#111" stroke-width="1.4"/>
<line x1="215.55" y1="348.0" x2="215.55" y2="328.2" stroke="#000" stroke-width="1.3"/>
<line x1="211.95000000000002" y1="328.2" x2="219.15" y2="328.2" stroke="#000" stroke-width="1.3"/>
<rect x="209.15" y="348.0" width="12.799999999999983" height="19.69999999999999" fill="#fff" stroke="#000" stroke-width="1.5"/>
<line x1="235.35000000000002" y1="326.2" x2="235.35000000000002" y2="312.9" stroke="#000" stroke-width="1.3"/>
<line x1="231.75000000000003" y1="312.9" x2="238.95000000000002" y2="312.9" stroke="#000" stroke-width="1.3"/>
<rect x="229.05" y="326.2" width="12.599999999999994" height="41.5" fill="#5a5a5a" stroke="#000" stroke-width="1.5"/>
<text x="54.2" y="382.4" font-size="10.2" text-anchor="start" fill="#111" class="b">PPD-B</text>
<text x="113.4" y="382.4" font-size="10.2" text-anchor="start" fill="#111" class="b">E:C</text>
<text x="158.4" y="382.4" font-size="10.2" text-anchor="start" fill="#111" class="b">mAGP</text>
<text x="215.2" y="382.4" font-size="10.2" text-anchor="start" fill="#111" class="b">LAM</text>
<rect x="160.75" y="248.0" width="12.3" height="7.2" fill="#fff" stroke="#000" stroke-width="1.5"/>
<rect x="160.75" y="261.8" width="12.3" height="7.2" fill="#555" stroke="#000" stroke-width="1.5"/>
<text x="180.2" y="254.7" font-size="9.0" text-anchor="start" fill="#111" >Uninfected</text>
<text x="180.2" y="268.6" font-size="9.0" fill="#111"><tspan font-style="italic">M. bovis</tspan> 10-7428</text>
<text transform="translate(13.2,302.0) rotate(-90) scale(0.95,1)" font-size="12.4" text-anchor="middle" fill="#111">% Dividing of</text>
<text transform="translate(26.6,302.0) rotate(-90) scale(0.95,1)" font-size="12.4" text-anchor="middle" fill="#111">WC1.1<tspan font-size="6.5" dy="-4.5">+</tspan><tspan dy="4.5"> &#947;&#948; T cells</tspan></text>
<line x1="314.3" y1="237.7" x2="314.3" y2="368.40000000000003" stroke="#000" stroke-width="1.9"/>
<line x1="313.35" y1="367.6" x2="508.6" y2="367.6" stroke="#000" stroke-width="1.6"/>
<line x1="310.1" y1="367.6" x2="314.3" y2="367.6" stroke="#000" stroke-width="1.5"/>
<text transform="translate(309.2,371.6) scale(0.93,1)" font-size="11.5" text-anchor="end" fill="#111" class="b">0</text>
<line x1="310.1" y1="324.3" x2="314.3" y2="324.3" stroke="#000" stroke-width="1.5"/>
<text transform="translate(309.2,328.3) scale(0.93,1)" font-size="11.5" text-anchor="end" fill="#111" class="b">5</text>
<line x1="310.1" y1="281.0" x2="314.3" y2="281.0" stroke="#000" stroke-width="1.5"/>
<text transform="translate(309.2,285.0) scale(0.93,1)" font-size="11.5" text-anchor="end" fill="#111" class="b">10</text>
<line x1="310.1" y1="237.7" x2="314.3" y2="237.7" stroke="#000" stroke-width="1.5"/>
<text transform="translate(309.2,241.7) scale(0.93,1)" font-size="11.5" text-anchor="end" fill="#111" class="b">15</text>
<line x1="324.1" y1="332.3" x2="324.1" y2="307.2" stroke="#000" stroke-width="1.3"/>
<line x1="320.5" y1="307.2" x2="327.70000000000005" y2="307.2" stroke="#000" stroke-width="1.3"/>
<rect x="318.15" y="332.3" width="11.900000000000034" height="35.30000000000001" fill="#fff" stroke="#000" stroke-width="1.5"/>
<line x1="343.55" y1="280.0" x2="343.55" y2="268.1" stroke="#000" stroke-width="1.3"/>
<line x1="339.95" y1="268.1" x2="347.15000000000003" y2="268.1" stroke="#000" stroke-width="1.3"/>
<rect x="337.25" y="280.0" width="12.600000000000023" height="87.60000000000002" fill="#5a5a5a" stroke="#000" stroke-width="1.5"/>
<line x1="343.4" y1="246.8" x2="343.4" y2="258.1" stroke="#111" stroke-width="1.35"/>
<line x1="340.09999999999997" y1="249.70000000000002" x2="346.7" y2="249.70000000000002" stroke="#111" stroke-width="1.4"/>
<line x1="375.4" y1="347.5" x2="375.4" y2="335.0" stroke="#000" stroke-width="1.3"/>
<line x1="371.79999999999995" y1="335.0" x2="379.0" y2="335.0" stroke="#000" stroke-width="1.3"/>
<rect x="369.05" y="347.5" width="12.699999999999989" height="20.100000000000023" fill="#fff" stroke="#000" stroke-width="1.5"/>
<line x1="395.4" y1="292.1" x2="395.4" y2="281.4" stroke="#000" stroke-width="1.3"/>
<line x1="391.79999999999995" y1="281.4" x2="399.0" y2="281.4" stroke="#000" stroke-width="1.3"/>
<rect x="388.95" y="292.1" width="12.900000000000034" height="75.5" fill="#5a5a5a" stroke="#000" stroke-width="1.5"/>
<polygon points="395.40,260.45 396.08,262.12 397.87,262.25 396.49,263.41 396.93,265.15 395.40,264.20 393.87,265.15 394.31,263.41 392.93,262.25 394.72,262.12" fill="#111" stroke="#111" stroke-width="0.4" stroke-linejoin="round"/>
<line x1="427.55" y1="351.9" x2="427.55" y2="341.6" stroke="#000" stroke-width="1.3"/>
<line x1="423.95" y1="341.6" x2="431.15000000000003" y2="341.6" stroke="#000" stroke-width="1.3"/>
<rect x="421.25" y="351.9" width="12.600000000000023" height="15.700000000000045" fill="#fff" stroke="#000" stroke-width="1.5"/>
<line x1="447.35" y1="321.7" x2="447.35" y2="311.0" stroke="#000" stroke-width="1.3"/>
<line x1="443.75" y1="311.0" x2="450.95000000000005" y2="311.0" stroke="#000" stroke-width="1.3"/>
<rect x="440.95" y="321.7" width="12.800000000000011" height="45.900000000000034" fill="#5a5a5a" stroke="#000" stroke-width="1.5"/>
<line x1="446.9" y1="288.3" x2="446.9" y2="299.1" stroke="#111" stroke-width="1.35"/>
<line x1="443.59999999999997" y1="291.2" x2="450.2" y2="291.2" stroke="#111" stroke-width="1.4"/>
<line x1="479.45" y1="363.5" x2="479.45" y2="361.4" stroke="#000" stroke-width="1.3"/>
<line x1="475.84999999999997" y1="361.4" x2="483.05" y2="361.4" stroke="#000" stroke-width="1.3"/>
<rect x="473.15" y="363.5" width="12.600000000000023" height="4.100000000000023" fill="#fff" stroke="#000" stroke-width="1.5"/>
<line x1="499.2" y1="316.8" x2="499.2" y2="302.4" stroke="#000" stroke-width="1.3"/>
<line x1="495.59999999999997" y1="302.4" x2="502.8" y2="302.4" stroke="#000" stroke-width="1.3"/>
<rect x="492.95" y="316.8" width="12.5" height="50.80000000000001" fill="#5a5a5a" stroke="#000" stroke-width="1.5"/>
<polygon points="498.90,283.95 499.58,285.62 501.37,285.75 499.99,286.91 500.43,288.65 498.90,287.70 497.37,288.65 497.81,286.91 496.43,285.75 498.22,285.62" fill="#111" stroke="#111" stroke-width="0.4" stroke-linejoin="round"/>
<text x="316.4" y="382.4" font-size="10.2" text-anchor="start" fill="#111" class="b">PPD-B</text>
<text x="375.9" y="382.4" font-size="10.2" text-anchor="start" fill="#111" class="b">E:C</text>
<text x="420.8" y="382.4" font-size="10.2" text-anchor="start" fill="#111" class="b">mAGP</text>
<text x="477.0" y="382.4" font-size="10.2" text-anchor="start" fill="#111" class="b">LAM</text>
<rect x="418.75" y="248.0" width="12.3" height="7.2" fill="#fff" stroke="#000" stroke-width="1.5"/>
<rect x="418.75" y="261.8" width="12.3" height="7.2" fill="#555" stroke="#000" stroke-width="1.5"/>
<text x="438.1" y="254.7" font-size="9.0" text-anchor="start" fill="#111" >Uninfected</text>
<text x="438.1" y="268.6" font-size="9.0" fill="#111"><tspan font-style="italic">M. bovis</tspan> 10-7428</text>
<text transform="translate(275.0,301.0) rotate(-90) scale(0.95,1)" font-size="12.4" text-anchor="middle" fill="#111">% Dividing of</text>
<text transform="translate(288.4,301.0) rotate(-90) scale(0.95,1)" font-size="12.4" text-anchor="middle" fill="#111">WC1.2<tspan font-size="6.5" dy="-4.5">+</tspan><tspan dy="4.5"> &#947;&#948; T cells</tspan></text>
</svg>
</body></html>
